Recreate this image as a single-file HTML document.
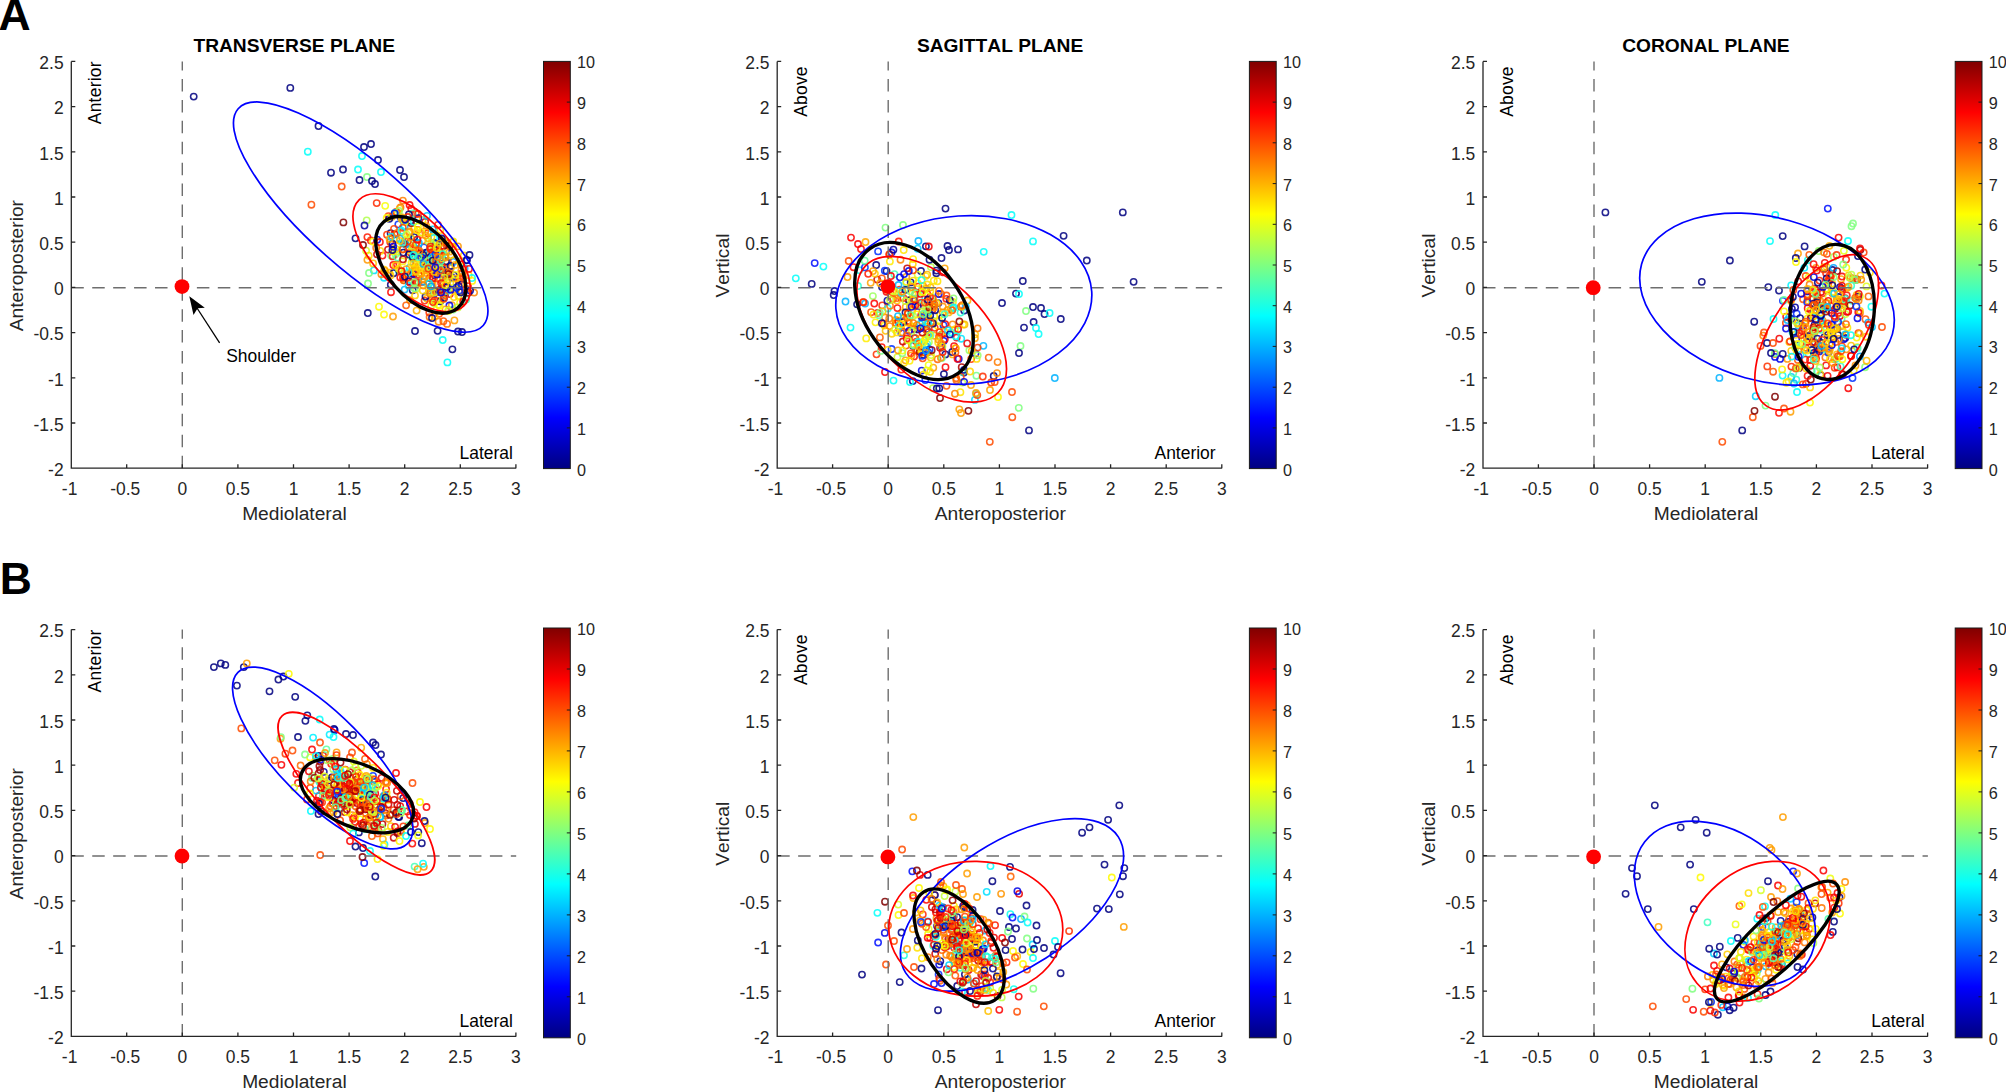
<!DOCTYPE html>
<html lang="en"><head><meta charset="utf-8"><title>Figure</title>
<style>
html,body{margin:0;padding:0;background:#fff}
svg{display:block}
text{font-family:"Liberation Sans",Arial,Helvetica,sans-serif;fill:#262626;font-kerning:none}
.t{font-size:17.45px}
.c{font-size:16.2px}
.l{font-size:19.2px}
.b{font-weight:bold;font-size:19.2px;fill:#000}
.k{fill:#000}
.P{font-weight:bold;font-size:44.5px;fill:#000}
.m circle{fill:none;stroke-width:1.55;stroke-opacity:.86}
.ax{fill:none;stroke:#262626;stroke-width:1.3}
.ds{fill:none;stroke:#6e6e6e;stroke-width:1.4;stroke-dasharray:12.5 8.43}
</style></head><body>

<svg width="2006" height="1092" viewBox="0 0 2006 1092">
<defs><linearGradient id="jet" x1="0" y1="1" x2="0" y2="0"><stop offset="0" stop-color="#000080"/><stop offset="0.125" stop-color="#0000ff"/><stop offset="0.375" stop-color="#00ffff"/><stop offset="0.625" stop-color="#ffff00"/><stop offset="0.875" stop-color="#ff0000"/><stop offset="1" stop-color="#800000"/></linearGradient></defs>
<rect width="2006" height="1092" fill="#fff"/>
<text class="P" x="-1.45" y="29.95">A</text>
<text class="P" x="-0.2" y="594.2">B</text>
<g transform="translate(0 0)">
<g class="m">
<circle cx="412.7" cy="290.3" r="3.15" stroke="#000080"/>
<circle cx="400.6" cy="217.3" r="3.15" stroke="#0000e6"/>
<circle cx="438.4" cy="304.7" r="3.15" stroke="#ffeb00"/>
<circle cx="431.8" cy="266.0" r="3.15" stroke="#ffa500"/>
<circle cx="440.3" cy="230.1" r="3.15" stroke="#ffd500"/>
<circle cx="430.5" cy="261.8" r="3.15" stroke="#00009e"/>
<circle cx="460.1" cy="302.7" r="3.15" stroke="#fbff04"/>
<circle cx="412.8" cy="273.4" r="3.15" stroke="#ffcd00"/>
<circle cx="440.1" cy="290.2" r="3.15" stroke="#daff25"/>
<circle cx="450.9" cy="268.0" r="3.15" stroke="#ffb000"/>
<circle cx="434.0" cy="267.6" r="3.15" stroke="#0ffff0"/>
<circle cx="439.1" cy="313.8" r="3.15" stroke="#ff3f00"/>
<circle cx="443.1" cy="239.5" r="3.15" stroke="#002eff"/>
<circle cx="439.4" cy="266.6" r="3.15" stroke="#f30000"/>
<circle cx="411.3" cy="209.0" r="3.15" stroke="#ff0c00"/>
<circle cx="403.8" cy="280.2" r="3.15" stroke="#bbff44"/>
<circle cx="413.2" cy="251.8" r="3.15" stroke="#ffdc00"/>
<circle cx="435.3" cy="255.7" r="3.15" stroke="#00fbff"/>
<circle cx="391.8" cy="216.7" r="3.15" stroke="#ffab00"/>
<circle cx="393.7" cy="250.2" r="3.15" stroke="#002eff"/>
<circle cx="410.3" cy="252.5" r="3.15" stroke="#f80000"/>
<circle cx="451.8" cy="305.1" r="3.15" stroke="#ffa700"/>
<circle cx="430.1" cy="253.7" r="3.15" stroke="#ff8c00"/>
<circle cx="426.7" cy="266.2" r="3.15" stroke="#ffec00"/>
<circle cx="419.6" cy="256.6" r="3.15" stroke="#e70000"/>
<circle cx="373.9" cy="270.4" r="3.15" stroke="#00e3ff"/>
<circle cx="436.8" cy="292.0" r="3.15" stroke="#ee0000"/>
<circle cx="409.7" cy="267.7" r="3.15" stroke="#00d5ff"/>
<circle cx="449.8" cy="294.1" r="3.15" stroke="#f40000"/>
<circle cx="440.2" cy="255.1" r="3.15" stroke="#ffe800"/>
<circle cx="425.3" cy="265.4" r="3.15" stroke="#ff2400"/>
<circle cx="412.6" cy="248.8" r="3.15" stroke="#ff9f00"/>
<circle cx="421.5" cy="254.7" r="3.15" stroke="#ed0000"/>
<circle cx="390.6" cy="233.1" r="3.15" stroke="#000080"/>
<circle cx="432.0" cy="299.1" r="3.15" stroke="#ff0200"/>
<circle cx="391.9" cy="243.7" r="3.15" stroke="#cdff32"/>
<circle cx="464.6" cy="268.4" r="3.15" stroke="#00b5ff"/>
<circle cx="430.2" cy="290.6" r="3.15" stroke="#ff4700"/>
<circle cx="418.7" cy="253.1" r="3.15" stroke="#ffdd00"/>
<circle cx="396.3" cy="239.5" r="3.15" stroke="#ff7000"/>
<circle cx="453.1" cy="283.6" r="3.15" stroke="#ff8500"/>
<circle cx="400.5" cy="207.3" r="3.15" stroke="#ff6100"/>
<circle cx="397.4" cy="212.9" r="3.15" stroke="#ffc000"/>
<circle cx="396.0" cy="212.0" r="3.15" stroke="#ff3b00"/>
<circle cx="415.9" cy="213.9" r="3.15" stroke="#ff4c00"/>
<circle cx="460.3" cy="291.6" r="3.15" stroke="#ff8500"/>
<circle cx="454.4" cy="320.4" r="3.15" stroke="#ff9f00"/>
<circle cx="468.7" cy="275.2" r="3.15" stroke="#ffd900"/>
<circle cx="443.0" cy="282.5" r="3.15" stroke="#002eff"/>
<circle cx="446.4" cy="272.7" r="3.15" stroke="#00009e"/>
<circle cx="416.3" cy="269.4" r="3.15" stroke="#ffe200"/>
<circle cx="399.7" cy="208.4" r="3.15" stroke="#ffaa00"/>
<circle cx="453.1" cy="309.5" r="3.15" stroke="#86ff79"/>
<circle cx="447.7" cy="288.3" r="3.15" stroke="#ff8500"/>
<circle cx="413.7" cy="258.5" r="3.15" stroke="#ff5f00"/>
<circle cx="415.8" cy="261.1" r="3.15" stroke="#ff3c00"/>
<circle cx="433.3" cy="250.7" r="3.15" stroke="#f90000"/>
<circle cx="426.9" cy="268.8" r="3.15" stroke="#ff6400"/>
<circle cx="447.1" cy="323.9" r="3.15" stroke="#ff7100"/>
<circle cx="423.4" cy="264.9" r="3.15" stroke="#ffcc00"/>
<circle cx="429.6" cy="317.1" r="3.15" stroke="#ff6f00"/>
<circle cx="431.2" cy="293.4" r="3.15" stroke="#0000e6"/>
<circle cx="382.5" cy="255.6" r="3.15" stroke="#ff0900"/>
<circle cx="394.8" cy="213.0" r="3.15" stroke="#02fffd"/>
<circle cx="419.5" cy="257.2" r="3.15" stroke="#ffd800"/>
<circle cx="412.5" cy="270.9" r="3.15" stroke="#ffbb00"/>
<circle cx="427.9" cy="233.2" r="3.15" stroke="#ff1a00"/>
<circle cx="403.6" cy="219.5" r="3.15" stroke="#ff4400"/>
<circle cx="442.0" cy="259.0" r="3.15" stroke="#fb0000"/>
<circle cx="398.3" cy="224.4" r="3.15" stroke="#002eff"/>
<circle cx="409.6" cy="255.5" r="3.15" stroke="#fff900"/>
<circle cx="453.3" cy="287.8" r="3.15" stroke="#d8ff27"/>
<circle cx="474.1" cy="292.6" r="3.15" stroke="#ff8300"/>
<circle cx="402.9" cy="200.6" r="3.15" stroke="#ff7f00"/>
<circle cx="441.8" cy="247.4" r="3.15" stroke="#83ff7c"/>
<circle cx="424.0" cy="247.3" r="3.15" stroke="#002eff"/>
<circle cx="412.9" cy="248.4" r="3.15" stroke="#ffb500"/>
<circle cx="419.0" cy="273.0" r="3.15" stroke="#d5ff2a"/>
<circle cx="432.9" cy="257.1" r="3.15" stroke="#000080"/>
<circle cx="445.8" cy="267.7" r="3.15" stroke="#ff7700"/>
<circle cx="411.0" cy="242.3" r="3.15" stroke="#ff7b00"/>
<circle cx="439.1" cy="251.8" r="3.15" stroke="#ffae00"/>
<circle cx="416.6" cy="282.3" r="3.15" stroke="#000080"/>
<circle cx="442.1" cy="252.8" r="3.15" stroke="#ffd600"/>
<circle cx="458.0" cy="246.3" r="3.15" stroke="#ff9700"/>
<circle cx="429.0" cy="259.4" r="3.15" stroke="#07fff8"/>
<circle cx="466.1" cy="299.4" r="3.15" stroke="#46ffb9"/>
<circle cx="403.7" cy="280.3" r="3.15" stroke="#ff4600"/>
<circle cx="426.9" cy="263.5" r="3.15" stroke="#ffa100"/>
<circle cx="399.1" cy="211.0" r="3.15" stroke="#9dff62"/>
<circle cx="424.5" cy="265.3" r="3.15" stroke="#ffdc00"/>
<circle cx="446.2" cy="251.2" r="3.15" stroke="#000080"/>
<circle cx="434.1" cy="242.7" r="3.15" stroke="#000080"/>
<circle cx="403.4" cy="278.6" r="3.15" stroke="#ff7500"/>
<circle cx="434.6" cy="316.3" r="3.15" stroke="#ffd200"/>
<circle cx="445.2" cy="294.3" r="3.15" stroke="#0000e6"/>
<circle cx="404.6" cy="289.6" r="3.15" stroke="#00b6ff"/>
<circle cx="434.9" cy="275.3" r="3.15" stroke="#000080"/>
<circle cx="431.8" cy="273.8" r="3.15" stroke="#eaff15"/>
<circle cx="441.9" cy="241.8" r="3.15" stroke="#ff9300"/>
<circle cx="440.3" cy="263.1" r="3.15" stroke="#91ff6e"/>
<circle cx="398.6" cy="270.6" r="3.15" stroke="#12ffed"/>
<circle cx="394.6" cy="213.4" r="3.15" stroke="#0000e6"/>
<circle cx="437.1" cy="284.7" r="3.15" stroke="#ff3a00"/>
<circle cx="445.9" cy="242.1" r="3.15" stroke="#ff2b00"/>
<circle cx="391.1" cy="255.4" r="3.15" stroke="#7bff84"/>
<circle cx="446.4" cy="262.4" r="3.15" stroke="#ff5e00"/>
<circle cx="409.6" cy="205.0" r="3.15" stroke="#fd0000"/>
<circle cx="433.5" cy="272.0" r="3.15" stroke="#ff7300"/>
<circle cx="412.8" cy="276.2" r="3.15" stroke="#ff8700"/>
<circle cx="366.7" cy="220.4" r="3.15" stroke="#b1ff4e"/>
<circle cx="453.9" cy="275.3" r="3.15" stroke="#000080"/>
<circle cx="419.9" cy="256.1" r="3.15" stroke="#ff0f00"/>
<circle cx="370.8" cy="240.4" r="3.15" stroke="#ff3200"/>
<circle cx="425.1" cy="231.4" r="3.15" stroke="#ff7900"/>
<circle cx="468.0" cy="286.1" r="3.15" stroke="#ff0700"/>
<circle cx="377.2" cy="239.7" r="3.15" stroke="#0000e6"/>
<circle cx="436.9" cy="300.7" r="3.15" stroke="#ff8b00"/>
<circle cx="413.0" cy="272.5" r="3.15" stroke="#ffca00"/>
<circle cx="433.9" cy="293.8" r="3.15" stroke="#0000e6"/>
<circle cx="423.4" cy="256.8" r="3.15" stroke="#ff8a00"/>
<circle cx="472.2" cy="280.9" r="3.15" stroke="#fff600"/>
<circle cx="385.2" cy="205.8" r="3.15" stroke="#f8ff07"/>
<circle cx="449.8" cy="265.9" r="3.15" stroke="#ffb800"/>
<circle cx="389.2" cy="272.7" r="3.15" stroke="#ff9200"/>
<circle cx="412.8" cy="213.4" r="3.15" stroke="#5cffa3"/>
<circle cx="424.9" cy="276.6" r="3.15" stroke="#ffec00"/>
<circle cx="453.0" cy="242.1" r="3.15" stroke="#f3ff0c"/>
<circle cx="448.6" cy="277.7" r="3.15" stroke="#ffe600"/>
<circle cx="434.7" cy="268.8" r="3.15" stroke="#ff3e00"/>
<circle cx="409.1" cy="232.5" r="3.15" stroke="#ff9600"/>
<circle cx="380.3" cy="250.9" r="3.15" stroke="#ffda00"/>
<circle cx="448.2" cy="280.1" r="3.15" stroke="#bcff43"/>
<circle cx="367.4" cy="237.1" r="3.15" stroke="#ff1a00"/>
<circle cx="410.9" cy="273.8" r="3.15" stroke="#ff0b00"/>
<circle cx="422.7" cy="219.9" r="3.15" stroke="#ffe500"/>
<circle cx="456.3" cy="282.3" r="3.15" stroke="#ffd300"/>
<circle cx="404.9" cy="240.8" r="3.15" stroke="#ff0200"/>
<circle cx="446.1" cy="261.3" r="3.15" stroke="#000080"/>
<circle cx="420.2" cy="259.5" r="3.15" stroke="#ffe600"/>
<circle cx="438.0" cy="273.3" r="3.15" stroke="#ff7800"/>
<circle cx="416.3" cy="243.7" r="3.15" stroke="#ff4a00"/>
<circle cx="426.9" cy="298.5" r="3.15" stroke="#ffc500"/>
<circle cx="422.7" cy="240.6" r="3.15" stroke="#ff6700"/>
<circle cx="432.1" cy="271.1" r="3.15" stroke="#e70000"/>
<circle cx="420.0" cy="265.9" r="3.15" stroke="#ffcc00"/>
<circle cx="435.3" cy="265.6" r="3.15" stroke="#ff4b00"/>
<circle cx="449.0" cy="245.8" r="3.15" stroke="#ff5a00"/>
<circle cx="459.1" cy="291.3" r="3.15" stroke="#a40000"/>
<circle cx="457.9" cy="307.4" r="3.15" stroke="#c5ff3a"/>
<circle cx="395.4" cy="254.3" r="3.15" stroke="#89ff76"/>
<circle cx="440.2" cy="301.3" r="3.15" stroke="#000080"/>
<circle cx="449.4" cy="305.5" r="3.15" stroke="#0000e6"/>
<circle cx="408.9" cy="214.4" r="3.15" stroke="#000080"/>
<circle cx="439.8" cy="254.4" r="3.15" stroke="#ff3d00"/>
<circle cx="394.0" cy="228.9" r="3.15" stroke="#ff4300"/>
<circle cx="417.7" cy="250.0" r="3.15" stroke="#ff7a00"/>
<circle cx="433.6" cy="247.0" r="3.15" stroke="#f6ff09"/>
<circle cx="434.5" cy="300.4" r="3.15" stroke="#ff2000"/>
<circle cx="416.6" cy="310.6" r="3.15" stroke="#ffaf00"/>
<circle cx="444.8" cy="256.3" r="3.15" stroke="#000080"/>
<circle cx="459.5" cy="278.2" r="3.15" stroke="#ff2a00"/>
<circle cx="431.5" cy="237.0" r="3.15" stroke="#ffe000"/>
<circle cx="410.6" cy="220.8" r="3.15" stroke="#000080"/>
<circle cx="416.1" cy="269.4" r="3.15" stroke="#ffe700"/>
<circle cx="441.9" cy="266.5" r="3.15" stroke="#ff1e00"/>
<circle cx="442.4" cy="269.8" r="3.15" stroke="#00009e"/>
<circle cx="400.1" cy="271.4" r="3.15" stroke="#ffe200"/>
<circle cx="393.3" cy="265.0" r="3.15" stroke="#ff0100"/>
<circle cx="447.7" cy="243.5" r="3.15" stroke="#ff3c00"/>
<circle cx="461.0" cy="264.5" r="3.15" stroke="#ff0700"/>
<circle cx="407.5" cy="278.3" r="3.15" stroke="#ffba00"/>
<circle cx="442.2" cy="287.5" r="3.15" stroke="#ff6a00"/>
<circle cx="449.8" cy="246.2" r="3.15" stroke="#ba0000"/>
<circle cx="429.2" cy="254.0" r="3.15" stroke="#00d5ff"/>
<circle cx="430.1" cy="257.6" r="3.15" stroke="#d80000"/>
<circle cx="443.1" cy="278.4" r="3.15" stroke="#ff9a00"/>
<circle cx="423.8" cy="260.8" r="3.15" stroke="#ff0400"/>
<circle cx="453.3" cy="261.9" r="3.15" stroke="#00aaff"/>
<circle cx="421.0" cy="253.5" r="3.15" stroke="#ff0d00"/>
<circle cx="459.1" cy="281.4" r="3.15" stroke="#ff2d00"/>
<circle cx="384.2" cy="269.6" r="3.15" stroke="#ffce00"/>
<circle cx="415.7" cy="249.3" r="3.15" stroke="#c40000"/>
<circle cx="411.7" cy="249.7" r="3.15" stroke="#ffcf00"/>
<circle cx="388.1" cy="275.3" r="3.15" stroke="#ff3200"/>
<circle cx="401.6" cy="219.1" r="3.15" stroke="#ffc500"/>
<circle cx="409.4" cy="248.6" r="3.15" stroke="#ff0100"/>
<circle cx="415.3" cy="263.1" r="3.15" stroke="#ffbb00"/>
<circle cx="392.7" cy="256.4" r="3.15" stroke="#ff1300"/>
<circle cx="424.6" cy="300.6" r="3.15" stroke="#ff2600"/>
<circle cx="388.4" cy="216.1" r="3.15" stroke="#ff3f00"/>
<circle cx="407.0" cy="239.0" r="3.15" stroke="#ffff00"/>
<circle cx="413.3" cy="239.3" r="3.15" stroke="#4dffb2"/>
<circle cx="442.7" cy="299.3" r="3.15" stroke="#faff05"/>
<circle cx="449.4" cy="272.4" r="3.15" stroke="#ff7900"/>
<circle cx="415.5" cy="282.6" r="3.15" stroke="#ff2b00"/>
<circle cx="436.4" cy="268.7" r="3.15" stroke="#ffe400"/>
<circle cx="432.4" cy="277.4" r="3.15" stroke="#ff3700"/>
<circle cx="437.1" cy="246.6" r="3.15" stroke="#fff600"/>
<circle cx="388.0" cy="249.6" r="3.15" stroke="#ce0000"/>
<circle cx="440.1" cy="258.3" r="3.15" stroke="#0000e6"/>
<circle cx="397.0" cy="264.4" r="3.15" stroke="#ff1100"/>
<circle cx="389.4" cy="272.9" r="3.15" stroke="#ffdc00"/>
<circle cx="453.7" cy="260.3" r="3.15" stroke="#ff5700"/>
<circle cx="443.3" cy="240.0" r="3.15" stroke="#ffd400"/>
<circle cx="428.5" cy="241.5" r="3.15" stroke="#c3ff3c"/>
<circle cx="442.0" cy="274.4" r="3.15" stroke="#002eff"/>
<circle cx="402.7" cy="261.4" r="3.15" stroke="#ffea00"/>
<circle cx="435.1" cy="256.1" r="3.15" stroke="#e8ff17"/>
<circle cx="409.9" cy="300.1" r="3.15" stroke="#ffb900"/>
<circle cx="393.6" cy="273.2" r="3.15" stroke="#000080"/>
<circle cx="426.2" cy="252.6" r="3.15" stroke="#000080"/>
<circle cx="428.4" cy="263.4" r="3.15" stroke="#c5ff3a"/>
<circle cx="366.1" cy="250.7" r="3.15" stroke="#d7ff28"/>
<circle cx="420.6" cy="270.2" r="3.15" stroke="#ffd500"/>
<circle cx="395.9" cy="248.9" r="3.15" stroke="#ffea00"/>
<circle cx="422.8" cy="281.9" r="3.15" stroke="#ff1800"/>
<circle cx="433.3" cy="268.7" r="3.15" stroke="#e5ff1a"/>
<circle cx="456.0" cy="289.9" r="3.15" stroke="#ffa900"/>
<circle cx="431.2" cy="305.7" r="3.15" stroke="#fffa00"/>
<circle cx="431.7" cy="266.5" r="3.15" stroke="#0000e6"/>
<circle cx="413.2" cy="273.8" r="3.15" stroke="#8f0000"/>
<circle cx="425.2" cy="221.8" r="3.15" stroke="#c40000"/>
<circle cx="413.5" cy="247.6" r="3.15" stroke="#ff9d00"/>
<circle cx="376.2" cy="247.7" r="3.15" stroke="#ff7100"/>
<circle cx="438.3" cy="290.4" r="3.15" stroke="#000080"/>
<circle cx="444.0" cy="291.5" r="3.15" stroke="#0cfff3"/>
<circle cx="387.0" cy="234.7" r="3.15" stroke="#ff3200"/>
<circle cx="426.4" cy="226.1" r="3.15" stroke="#ffaa00"/>
<circle cx="460.5" cy="283.3" r="3.15" stroke="#ffb700"/>
<circle cx="417.6" cy="282.9" r="3.15" stroke="#ff5500"/>
<circle cx="432.7" cy="284.8" r="3.15" stroke="#ffaf00"/>
<circle cx="389.3" cy="218.7" r="3.15" stroke="#000080"/>
<circle cx="448.7" cy="310.8" r="3.15" stroke="#eeff11"/>
<circle cx="373.0" cy="241.6" r="3.15" stroke="#fff800"/>
<circle cx="444.8" cy="256.2" r="3.15" stroke="#ffb200"/>
<circle cx="434.2" cy="303.2" r="3.15" stroke="#c4ff3b"/>
<circle cx="437.3" cy="251.1" r="3.15" stroke="#ff3100"/>
<circle cx="431.4" cy="286.6" r="3.15" stroke="#ff3100"/>
<circle cx="406.1" cy="305.3" r="3.15" stroke="#ff5800"/>
<circle cx="432.8" cy="229.3" r="3.15" stroke="#00ceff"/>
<circle cx="421.4" cy="273.5" r="3.15" stroke="#ff9100"/>
<circle cx="437.4" cy="249.5" r="3.15" stroke="#810000"/>
<circle cx="430.4" cy="268.8" r="3.15" stroke="#ffeb00"/>
<circle cx="414.2" cy="237.2" r="3.15" stroke="#000080"/>
<circle cx="420.8" cy="232.8" r="3.15" stroke="#ffa700"/>
<circle cx="402.2" cy="249.4" r="3.15" stroke="#ff9100"/>
<circle cx="436.5" cy="259.9" r="3.15" stroke="#ff1700"/>
<circle cx="432.1" cy="257.4" r="3.15" stroke="#00d3ff"/>
<circle cx="434.4" cy="249.4" r="3.15" stroke="#ff1b00"/>
<circle cx="441.8" cy="238.5" r="3.15" stroke="#00009e"/>
<circle cx="426.9" cy="263.3" r="3.15" stroke="#c90000"/>
<circle cx="461.8" cy="284.4" r="3.15" stroke="#00009e"/>
<circle cx="427.4" cy="284.0" r="3.15" stroke="#8cff73"/>
<circle cx="401.5" cy="232.3" r="3.15" stroke="#ffb900"/>
<circle cx="430.2" cy="264.1" r="3.15" stroke="#20ffdf"/>
<circle cx="418.9" cy="243.0" r="3.15" stroke="#00c2ff"/>
<circle cx="416.1" cy="288.9" r="3.15" stroke="#c0ff3f"/>
<circle cx="427.0" cy="215.8" r="3.15" stroke="#00c6ff"/>
<circle cx="397.5" cy="257.6" r="3.15" stroke="#4fffb0"/>
<circle cx="438.6" cy="321.7" r="3.15" stroke="#ff8600"/>
<circle cx="430.2" cy="248.6" r="3.15" stroke="#ffb200"/>
<circle cx="408.9" cy="281.4" r="3.15" stroke="#00009e"/>
<circle cx="434.1" cy="237.9" r="3.15" stroke="#03fffc"/>
<circle cx="413.6" cy="274.1" r="3.15" stroke="#0000e6"/>
<circle cx="461.9" cy="273.5" r="3.15" stroke="#ff0900"/>
<circle cx="386.7" cy="218.0" r="3.15" stroke="#fffb00"/>
<circle cx="443.6" cy="246.1" r="3.15" stroke="#a50000"/>
<circle cx="434.3" cy="259.9" r="3.15" stroke="#ff6000"/>
<circle cx="463.8" cy="255.4" r="3.15" stroke="#ffd000"/>
<circle cx="452.1" cy="277.3" r="3.15" stroke="#0000e6"/>
<circle cx="425.5" cy="296.5" r="3.15" stroke="#000080"/>
<circle cx="428.9" cy="292.0" r="3.15" stroke="#ffe200"/>
<circle cx="415.3" cy="271.2" r="3.15" stroke="#f20000"/>
<circle cx="409.1" cy="254.4" r="3.15" stroke="#000080"/>
<circle cx="458.3" cy="295.8" r="3.15" stroke="#ffe300"/>
<circle cx="392.9" cy="251.3" r="3.15" stroke="#ffed00"/>
<circle cx="400.3" cy="277.4" r="3.15" stroke="#fe0000"/>
<circle cx="451.0" cy="255.1" r="3.15" stroke="#ffe500"/>
<circle cx="444.0" cy="298.1" r="3.15" stroke="#000080"/>
<circle cx="384.0" cy="277.7" r="3.15" stroke="#00e1ff"/>
<circle cx="447.2" cy="280.1" r="3.15" stroke="#ffb600"/>
<circle cx="421.0" cy="260.7" r="3.15" stroke="#d9ff26"/>
<circle cx="368.7" cy="255.7" r="3.15" stroke="#ffdf00"/>
<circle cx="460.0" cy="261.6" r="3.15" stroke="#ffef00"/>
<circle cx="428.9" cy="260.8" r="3.15" stroke="#8aff75"/>
<circle cx="433.2" cy="278.3" r="3.15" stroke="#ed0000"/>
<circle cx="436.1" cy="267.4" r="3.15" stroke="#ffb600"/>
<circle cx="429.3" cy="312.4" r="3.15" stroke="#ff3200"/>
<circle cx="414.0" cy="229.2" r="3.15" stroke="#ffb700"/>
<circle cx="390.2" cy="242.0" r="3.15" stroke="#ff2d00"/>
<circle cx="437.2" cy="246.7" r="3.15" stroke="#f4ff0b"/>
<circle cx="404.6" cy="226.4" r="3.15" stroke="#00b0ff"/>
<circle cx="447.0" cy="291.1" r="3.15" stroke="#4fffb0"/>
<circle cx="411.0" cy="223.1" r="3.15" stroke="#8f0000"/>
<circle cx="447.5" cy="276.0" r="3.15" stroke="#ffaa00"/>
<circle cx="450.6" cy="265.9" r="3.15" stroke="#00009e"/>
<circle cx="397.8" cy="251.3" r="3.15" stroke="#f0ff0f"/>
<circle cx="411.9" cy="245.8" r="3.15" stroke="#c4ff3b"/>
<circle cx="403.3" cy="252.6" r="3.15" stroke="#000080"/>
<circle cx="449.7" cy="251.6" r="3.15" stroke="#ffa000"/>
<circle cx="405.6" cy="244.4" r="3.15" stroke="#00a8ff"/>
<circle cx="408.6" cy="285.7" r="3.15" stroke="#00e1ff"/>
<circle cx="444.6" cy="295.7" r="3.15" stroke="#ff5400"/>
<circle cx="429.4" cy="278.1" r="3.15" stroke="#ff0500"/>
<circle cx="394.6" cy="234.2" r="3.15" stroke="#e70000"/>
<circle cx="440.9" cy="247.3" r="3.15" stroke="#ff2a00"/>
<circle cx="436.1" cy="243.7" r="3.15" stroke="#00009e"/>
<circle cx="446.9" cy="271.6" r="3.15" stroke="#ff7500"/>
<circle cx="398.8" cy="268.7" r="3.15" stroke="#ffec00"/>
<circle cx="418.4" cy="282.5" r="3.15" stroke="#ff3c00"/>
<circle cx="453.2" cy="241.4" r="3.15" stroke="#ffdf00"/>
<circle cx="392.5" cy="243.7" r="3.15" stroke="#00009e"/>
<circle cx="403.0" cy="277.4" r="3.15" stroke="#ff0d00"/>
<circle cx="441.3" cy="258.4" r="3.15" stroke="#ffe900"/>
<circle cx="402.9" cy="249.3" r="3.15" stroke="#ff4d00"/>
<circle cx="414.5" cy="257.7" r="3.15" stroke="#75ff8a"/>
<circle cx="412.5" cy="258.4" r="3.15" stroke="#03fffc"/>
<circle cx="407.9" cy="217.0" r="3.15" stroke="#ff1e00"/>
<circle cx="364.5" cy="225.5" r="3.15" stroke="#00009e"/>
<circle cx="453.0" cy="246.6" r="3.15" stroke="#ffad00"/>
<circle cx="460.6" cy="292.4" r="3.15" stroke="#000080"/>
<circle cx="448.6" cy="274.1" r="3.15" stroke="#9d0000"/>
<circle cx="415.0" cy="295.4" r="3.15" stroke="#ffcb00"/>
<circle cx="421.6" cy="232.3" r="3.15" stroke="#ecff13"/>
<circle cx="410.2" cy="282.8" r="3.15" stroke="#ff1000"/>
<circle cx="430.1" cy="293.7" r="3.15" stroke="#ff7700"/>
<circle cx="453.9" cy="297.1" r="3.15" stroke="#ffda00"/>
<circle cx="418.6" cy="274.7" r="3.15" stroke="#ff2c00"/>
<circle cx="431.3" cy="242.8" r="3.15" stroke="#d6ff29"/>
<circle cx="403.7" cy="243.3" r="3.15" stroke="#a30000"/>
<circle cx="443.4" cy="321.2" r="3.15" stroke="#ff5700"/>
<circle cx="432.2" cy="244.8" r="3.15" stroke="#ccff33"/>
<circle cx="417.8" cy="229.9" r="3.15" stroke="#ff4b00"/>
<circle cx="443.7" cy="298.8" r="3.15" stroke="#ff4100"/>
<circle cx="414.8" cy="267.5" r="3.15" stroke="#ffa800"/>
<circle cx="399.8" cy="238.7" r="3.15" stroke="#00c4ff"/>
<circle cx="419.8" cy="268.6" r="3.15" stroke="#ffd900"/>
<circle cx="418.7" cy="255.5" r="3.15" stroke="#ffe100"/>
<circle cx="404.9" cy="222.1" r="3.15" stroke="#eeff11"/>
<circle cx="436.5" cy="273.1" r="3.15" stroke="#ff8000"/>
<circle cx="423.5" cy="263.9" r="3.15" stroke="#00acff"/>
<circle cx="423.3" cy="256.8" r="3.15" stroke="#86ff79"/>
<circle cx="391.0" cy="292.2" r="3.15" stroke="#ff0500"/>
<circle cx="430.6" cy="249.0" r="3.15" stroke="#ff0b00"/>
<circle cx="402.8" cy="227.7" r="3.15" stroke="#ff3c00"/>
<circle cx="427.3" cy="267.7" r="3.15" stroke="#afff50"/>
<circle cx="423.1" cy="254.7" r="3.15" stroke="#000080"/>
<circle cx="441.3" cy="292.3" r="3.15" stroke="#ff3e00"/>
<circle cx="402.3" cy="217.4" r="3.15" stroke="#ffbd00"/>
<circle cx="408.6" cy="272.5" r="3.15" stroke="#2bffd4"/>
<circle cx="418.4" cy="218.2" r="3.15" stroke="#00009e"/>
<circle cx="437.6" cy="292.0" r="3.15" stroke="#ff6000"/>
<circle cx="440.1" cy="254.9" r="3.15" stroke="#ff5c00"/>
<circle cx="445.5" cy="309.3" r="3.15" stroke="#ff9500"/>
<circle cx="434.2" cy="292.5" r="3.15" stroke="#b0ff4f"/>
<circle cx="431.5" cy="292.9" r="3.15" stroke="#ffc500"/>
<circle cx="442.8" cy="253.2" r="3.15" stroke="#dcff23"/>
<circle cx="407.8" cy="241.4" r="3.15" stroke="#ff3100"/>
<circle cx="406.4" cy="269.2" r="3.15" stroke="#ff9f00"/>
<circle cx="373.1" cy="263.4" r="3.15" stroke="#ffc200"/>
<circle cx="468.4" cy="292.7" r="3.15" stroke="#8f0000"/>
<circle cx="440.2" cy="289.8" r="3.15" stroke="#c50000"/>
<circle cx="416.4" cy="271.7" r="3.15" stroke="#ffdc00"/>
<circle cx="376.7" cy="203.1" r="3.15" stroke="#ff2a00"/>
<circle cx="391.4" cy="236.7" r="3.15" stroke="#00faff"/>
<circle cx="466.2" cy="288.9" r="3.15" stroke="#ff4800"/>
<circle cx="428.0" cy="238.2" r="3.15" stroke="#ffba00"/>
<circle cx="415.7" cy="244.8" r="3.15" stroke="#ff4a00"/>
<circle cx="392.4" cy="250.1" r="3.15" stroke="#000080"/>
<circle cx="402.4" cy="242.7" r="3.15" stroke="#30ffcf"/>
<circle cx="446.8" cy="287.1" r="3.15" stroke="#000080"/>
<circle cx="436.0" cy="261.5" r="3.15" stroke="#ff5300"/>
<circle cx="462.6" cy="272.9" r="3.15" stroke="#ff6200"/>
<circle cx="444.3" cy="277.7" r="3.15" stroke="#d2ff2d"/>
<circle cx="463.2" cy="277.9" r="3.15" stroke="#ff4d00"/>
<circle cx="437.4" cy="245.9" r="3.15" stroke="#d4ff2b"/>
<circle cx="423.1" cy="281.5" r="3.15" stroke="#00aaff"/>
<circle cx="439.9" cy="268.6" r="3.15" stroke="#95ff6a"/>
<circle cx="437.9" cy="224.9" r="3.15" stroke="#ff1b00"/>
<circle cx="466.3" cy="260.3" r="3.15" stroke="#002eff"/>
<circle cx="433.0" cy="302.1" r="3.15" stroke="#ff2600"/>
<circle cx="422.8" cy="290.6" r="3.15" stroke="#ffd900"/>
<circle cx="411.5" cy="263.0" r="3.15" stroke="#ffef00"/>
<circle cx="435.6" cy="254.5" r="3.15" stroke="#002eff"/>
<circle cx="421.1" cy="256.9" r="3.15" stroke="#002eff"/>
<circle cx="439.4" cy="251.0" r="3.15" stroke="#ff1000"/>
<circle cx="377.0" cy="254.3" r="3.15" stroke="#cc0000"/>
<circle cx="390.5" cy="275.5" r="3.15" stroke="#ffcb00"/>
<circle cx="414.4" cy="288.3" r="3.15" stroke="#7bff84"/>
<circle cx="470.1" cy="290.6" r="3.15" stroke="#00009e"/>
<circle cx="455.2" cy="278.5" r="3.15" stroke="#ffc500"/>
<circle cx="456.4" cy="287.6" r="3.15" stroke="#002eff"/>
<circle cx="463.2" cy="301.5" r="3.15" stroke="#f20000"/>
<circle cx="389.6" cy="238.9" r="3.15" stroke="#ffac00"/>
<circle cx="429.2" cy="283.5" r="3.15" stroke="#00f2ff"/>
<circle cx="418.0" cy="213.9" r="3.15" stroke="#ff2700"/>
<circle cx="397.3" cy="232.9" r="3.15" stroke="#ff7900"/>
<circle cx="439.9" cy="279.1" r="3.15" stroke="#ff7100"/>
<circle cx="430.9" cy="286.3" r="3.15" stroke="#00a8ff"/>
<circle cx="461.3" cy="270.9" r="3.15" stroke="#ff9300"/>
<circle cx="423.3" cy="278.5" r="3.15" stroke="#ffa500"/>
<circle cx="405.1" cy="219.6" r="3.15" stroke="#00009e"/>
<circle cx="410.5" cy="237.6" r="3.15" stroke="#ffa800"/>
<circle cx="401.6" cy="230.7" r="3.15" stroke="#01fffe"/>
<circle cx="440.8" cy="261.1" r="3.15" stroke="#3cffc3"/>
<circle cx="417.3" cy="230.3" r="3.15" stroke="#fff200"/>
<circle cx="415.6" cy="270.8" r="3.15" stroke="#ffc500"/>
<circle cx="385.0" cy="270.8" r="3.15" stroke="#ff9e00"/>
<circle cx="441.1" cy="283.1" r="3.15" stroke="#ff0e00"/>
<circle cx="412.8" cy="257.2" r="3.15" stroke="#000080"/>
<circle cx="439.6" cy="305.8" r="3.15" stroke="#fff900"/>
<circle cx="432.7" cy="260.6" r="3.15" stroke="#000080"/>
<circle cx="395.5" cy="265.3" r="3.15" stroke="#ffc900"/>
<circle cx="455.4" cy="274.9" r="3.15" stroke="#f2ff0d"/>
<circle cx="450.7" cy="289.7" r="3.15" stroke="#0000e6"/>
<circle cx="419.5" cy="251.1" r="3.15" stroke="#ff7b00"/>
<circle cx="442.7" cy="254.1" r="3.15" stroke="#28ffd7"/>
<circle cx="469.0" cy="268.9" r="3.15" stroke="#ff0700"/>
<circle cx="423.3" cy="285.5" r="3.15" stroke="#ff7f00"/>
<circle cx="418.3" cy="257.1" r="3.15" stroke="#53ffac"/>
<circle cx="436.9" cy="274.4" r="3.15" stroke="#0000e6"/>
<circle cx="404.9" cy="276.6" r="3.15" stroke="#000080"/>
<circle cx="434.4" cy="271.9" r="3.15" stroke="#ffc400"/>
<circle cx="417.4" cy="239.7" r="3.15" stroke="#ff0700"/>
<circle cx="430.4" cy="246.7" r="3.15" stroke="#ff2000"/>
<circle cx="409.7" cy="231.4" r="3.15" stroke="#ff9900"/>
<circle cx="445.6" cy="257.5" r="3.15" stroke="#ff9900"/>
<circle cx="440.1" cy="270.6" r="3.15" stroke="#ff6d00"/>
<circle cx="455.2" cy="264.9" r="3.15" stroke="#ffbb00"/>
<circle cx="413.9" cy="221.8" r="3.15" stroke="#14ffeb"/>
<circle cx="381.4" cy="274.2" r="3.15" stroke="#ff8700"/>
<circle cx="458.5" cy="285.8" r="3.15" stroke="#00009e"/>
<circle cx="437.8" cy="257.0" r="3.15" stroke="#ff8e00"/>
<circle cx="441.0" cy="292.4" r="3.15" stroke="#0000e6"/>
<circle cx="414.3" cy="282.4" r="3.15" stroke="#89ff76"/>
<circle cx="399.7" cy="240.8" r="3.15" stroke="#ffc700"/>
<circle cx="401.6" cy="271.1" r="3.15" stroke="#e50000"/>
<circle cx="390.8" cy="284.7" r="3.15" stroke="#000080"/>
<circle cx="413.5" cy="255.0" r="3.15" stroke="#0afff5"/>
<circle cx="406.7" cy="234.5" r="3.15" stroke="#ccff33"/>
<circle cx="393.2" cy="246.7" r="3.15" stroke="#0000e6"/>
<circle cx="367.4" cy="259.8" r="3.15" stroke="#ff9800"/>
<circle cx="445.3" cy="285.0" r="3.15" stroke="#ffde00"/>
<circle cx="425.4" cy="276.0" r="3.15" stroke="#ffaa00"/>
<circle cx="403.0" cy="259.3" r="3.15" stroke="#c00000"/>
<circle cx="428.3" cy="268.5" r="3.15" stroke="#ff3100"/>
<circle cx="418.0" cy="226.5" r="3.15" stroke="#fcff03"/>
<circle cx="413.4" cy="263.5" r="3.15" stroke="#ffcd00"/>
<circle cx="425.7" cy="235.3" r="3.15" stroke="#ffa600"/>
<circle cx="435.3" cy="267.5" r="3.15" stroke="#0000e6"/>
<circle cx="379.9" cy="242.0" r="3.15" stroke="#ff0b00"/>
<circle cx="459.5" cy="290.5" r="3.15" stroke="#002eff"/>
<circle cx="436.7" cy="248.2" r="3.15" stroke="#ffde00"/>
<circle cx="439.7" cy="243.7" r="3.15" stroke="#ffac00"/>
<circle cx="448.1" cy="310.7" r="3.15" stroke="#e3ff1c"/>
<circle cx="193.7" cy="96.6" r="3.15" stroke="#000080"/>
<circle cx="290.3" cy="87.9" r="3.15" stroke="#000080"/>
<circle cx="318.5" cy="126.0" r="3.15" stroke="#000080"/>
<circle cx="307.8" cy="151.7" r="3.15" stroke="#05fffa"/>
<circle cx="331.0" cy="172.7" r="3.15" stroke="#000080"/>
<circle cx="343.0" cy="169.5" r="3.15" stroke="#000080"/>
<circle cx="364.0" cy="147.0" r="3.15" stroke="#000080"/>
<circle cx="371.0" cy="144.0" r="3.15" stroke="#000080"/>
<circle cx="362.0" cy="156.0" r="3.15" stroke="#05fffa"/>
<circle cx="378.0" cy="160.0" r="3.15" stroke="#000080"/>
<circle cx="381.0" cy="172.0" r="3.15" stroke="#05fffa"/>
<circle cx="358.0" cy="169.5" r="3.15" stroke="#05fffa"/>
<circle cx="359.5" cy="180.0" r="3.15" stroke="#000080"/>
<circle cx="367.0" cy="177.0" r="3.15" stroke="#80ff80"/>
<circle cx="372.0" cy="181.0" r="3.15" stroke="#000080"/>
<circle cx="375.0" cy="184.0" r="3.15" stroke="#000080"/>
<circle cx="311.4" cy="204.7" r="3.15" stroke="#ff4c00"/>
<circle cx="341.7" cy="186.5" r="3.15" stroke="#ff4c00"/>
<circle cx="343.4" cy="222.4" r="3.15" stroke="#800000"/>
<circle cx="355.5" cy="238.3" r="3.15" stroke="#000080"/>
<circle cx="363.0" cy="245.0" r="3.15" stroke="#800000"/>
<circle cx="400.0" cy="170.0" r="3.15" stroke="#000080"/>
<circle cx="404.0" cy="177.0" r="3.15" stroke="#000080"/>
<circle cx="367.8" cy="313.0" r="3.15" stroke="#000080"/>
<circle cx="379.0" cy="306.7" r="3.15" stroke="#fffa00"/>
<circle cx="384.0" cy="314.5" r="3.15" stroke="#fffa00"/>
<circle cx="393.0" cy="316.5" r="3.15" stroke="#ff9e00"/>
<circle cx="437.6" cy="330.8" r="3.15" stroke="#000080"/>
<circle cx="442.7" cy="340.0" r="3.15" stroke="#05fffa"/>
<circle cx="452.4" cy="349.3" r="3.15" stroke="#000080"/>
<circle cx="447.4" cy="362.4" r="3.15" stroke="#05fffa"/>
<circle cx="458.0" cy="331.5" r="3.15" stroke="#000080"/>
<circle cx="462.0" cy="332.0" r="3.15" stroke="#000080"/>
<circle cx="469.5" cy="255.0" r="3.15" stroke="#000080"/>
<circle cx="467.0" cy="260.0" r="3.15" stroke="#000080"/>
<circle cx="368.0" cy="283.5" r="3.15" stroke="#80ff80"/>
<circle cx="369.0" cy="273.0" r="3.15" stroke="#80ff80"/>
<circle cx="472.0" cy="278.0" r="3.15" stroke="#05fffa"/>
<circle cx="415.0" cy="331.0" r="3.15" stroke="#000080"/>
<circle cx="432.0" cy="318.0" r="3.15" stroke="#000080"/>
</g>
<path class="ds" d="M71.3 287.8H516.2"/>
<path class="ds" d="M182.3 468.2V61.4"/>
<ellipse cx="360.7" cy="217.1" rx="163.6" ry="51.8" transform="rotate(-138.5 360.7 217.1)" fill="none" stroke="#0000ff" stroke-width="1.7"/>
<ellipse cx="411.6" cy="252.7" rx="74.5" ry="36.5" transform="rotate(45.2 411.6 252.7)" fill="none" stroke="#ff0000" stroke-width="1.7"/>
<ellipse cx="420.8" cy="264.9" rx="56.8" ry="33.5" transform="rotate(49.1 420.8 264.9)" fill="none" stroke="#000" stroke-width="3.35"/>
<circle cx="182.0" cy="286.6" r="7.4" fill="#ff0000"/>
<path class="ax" d="M71.3 61.4V468.2H516.2M126.7 468.2v-4M182.3 468.2v-4M237.9 468.2v-4M293.5 468.2v-4M349.1 468.2v-4M404.7 468.2v-4M460.3 468.2v-4M515.9 468.2v-4M71.3 423.0h4M71.3 377.8h4M71.3 332.6h4M71.3 287.4h4M71.3 242.2h4M71.3 197.0h4M71.3 151.8h4M71.3 106.6h4M71.3 61.4h4"/>
<g class="t" text-anchor="middle">
<text x="69.6" y="494.6">-1</text>
<text x="125.2" y="494.6">-0.5</text>
<text x="182.3" y="494.6">0</text>
<text x="237.9" y="494.6">0.5</text>
<text x="293.5" y="494.6">1</text>
<text x="349.1" y="494.6">1.5</text>
<text x="404.7" y="494.6">2</text>
<text x="460.3" y="494.6">2.5</text>
<text x="515.9" y="494.6">3</text>
</g><g class="t" text-anchor="end">
<text x="63.6" y="476.0">-2</text>
<text x="63.6" y="430.8">-1.5</text>
<text x="63.6" y="385.6">-1</text>
<text x="63.6" y="340.4">-0.5</text>
<text x="63.6" y="295.2">0</text>
<text x="63.6" y="250.0">0.5</text>
<text x="63.6" y="204.8">1</text>
<text x="63.6" y="159.6">1.5</text>
<text x="63.6" y="114.4">2</text>
<text x="63.6" y="69.2">2.5</text>
</g>
<text class="l" text-anchor="middle" x="294.4" y="520">Mediolateral</text>
<text class="l" text-anchor="middle" transform="translate(23.4 265.6) rotate(-90)">Anteroposterior</text>
<text class="t k" letter-spacing=".24" text-anchor="end" transform="translate(100.8 61.2) rotate(-90)">Anterior</text>
<text class="t k" text-anchor="end" x="512.9" y="458.7">Lateral</text>
<text class="b" text-anchor="middle" x="294.2" y="51.8">TRANSVERSE PLANE</text>
<path d="M219.6 342.9L197 308" fill="none" stroke="#000" stroke-width="1.3"/>
<path d="M189.3 296.2L204.8 307.7L197.6 308.3L193.5 314.9Z" fill="#000"/>
<text class="t k" x="226.2" y="361.9">Shoulder</text>
<rect x="543.5" y="61.4" width="26.8" height="407.2" fill="url(#jet)" stroke="#1a1a1a" stroke-width="1"/>
<g class="c">
<text x="577" y="475.5">0</text>
<text x="577" y="434.8">1</text>
<text x="577" y="394.1">2</text>
<text x="577" y="353.3">3</text>
<text x="577" y="312.6">4</text>
<text x="577" y="271.9">5</text>
<text x="577" y="231.2">6</text>
<text x="577" y="190.5">7</text>
<text x="577" y="149.7">8</text>
<text x="577" y="109.0">9</text>
<text x="577" y="68.3">10</text>
</g>
<path d="M570.3 427.9h-3.5M570.3 387.2h-3.5M570.3 346.4h-3.5M570.3 305.7h-3.5M570.3 265.0h-3.5M570.3 224.3h-3.5M570.3 183.6h-3.5M570.3 142.8h-3.5M570.3 102.1h-3.5" stroke="#1a1a1a" stroke-width="1" fill="none"/>
</g>
<g transform="translate(705.9 0)">
<g class="m">
<circle cx="258.3" cy="310.6" r="3.15" stroke="#000080"/>
<circle cx="240.4" cy="298.8" r="3.15" stroke="#ff0f00"/>
<circle cx="160.3" cy="338.4" r="3.15" stroke="#ffee00"/>
<circle cx="263.5" cy="350.2" r="3.15" stroke="#98ff67"/>
<circle cx="177.6" cy="323.7" r="3.15" stroke="#ff1300"/>
<circle cx="200.1" cy="345.6" r="3.15" stroke="#ff4e00"/>
<circle cx="191.5" cy="357.2" r="3.15" stroke="#cfff30"/>
<circle cx="179.1" cy="317.5" r="3.15" stroke="#ff7500"/>
<circle cx="208.4" cy="329.0" r="3.15" stroke="#b10000"/>
<circle cx="170.6" cy="354.3" r="3.15" stroke="#ff3300"/>
<circle cx="240.6" cy="385.8" r="3.15" stroke="#ff5100"/>
<circle cx="252.2" cy="330.9" r="3.15" stroke="#2dffd2"/>
<circle cx="217.9" cy="354.8" r="3.15" stroke="#000080"/>
<circle cx="222.2" cy="352.1" r="3.15" stroke="#002eff"/>
<circle cx="231.7" cy="359.2" r="3.15" stroke="#ff6300"/>
<circle cx="207.2" cy="259.1" r="3.15" stroke="#ffea00"/>
<circle cx="203.6" cy="300.2" r="3.15" stroke="#ffc200"/>
<circle cx="230.4" cy="273.2" r="3.15" stroke="#000080"/>
<circle cx="261.6" cy="300.5" r="3.15" stroke="#ffb000"/>
<circle cx="215.8" cy="370.6" r="3.15" stroke="#0000e6"/>
<circle cx="239.5" cy="354.4" r="3.15" stroke="#000080"/>
<circle cx="190.3" cy="323.2" r="3.15" stroke="#ff2f00"/>
<circle cx="220.2" cy="337.0" r="3.15" stroke="#ffc700"/>
<circle cx="228.8" cy="327.8" r="3.15" stroke="#ff2600"/>
<circle cx="236.0" cy="346.7" r="3.15" stroke="#000080"/>
<circle cx="254.5" cy="392.2" r="3.15" stroke="#ffe200"/>
<circle cx="219.9" cy="276.1" r="3.15" stroke="#ffef00"/>
<circle cx="249.0" cy="393.7" r="3.15" stroke="#ff8100"/>
<circle cx="227.1" cy="388.2" r="3.15" stroke="#b9ff46"/>
<circle cx="223.4" cy="335.3" r="3.15" stroke="#ff0c00"/>
<circle cx="191.3" cy="298.0" r="3.15" stroke="#ff6700"/>
<circle cx="200.9" cy="326.7" r="3.15" stroke="#ff3d00"/>
<circle cx="246.7" cy="324.4" r="3.15" stroke="#ff8400"/>
<circle cx="176.3" cy="305.4" r="3.15" stroke="#ff2900"/>
<circle cx="165.2" cy="312.2" r="3.15" stroke="#ff5100"/>
<circle cx="206.9" cy="298.7" r="3.15" stroke="#80ff7f"/>
<circle cx="244.7" cy="301.7" r="3.15" stroke="#ff8000"/>
<circle cx="188.5" cy="274.2" r="3.15" stroke="#48ffb7"/>
<circle cx="216.7" cy="291.5" r="3.15" stroke="#ff8c00"/>
<circle cx="228.2" cy="304.6" r="3.15" stroke="#ffbf00"/>
<circle cx="232.1" cy="326.1" r="3.15" stroke="#fff400"/>
<circle cx="237.6" cy="325.2" r="3.15" stroke="#002eff"/>
<circle cx="159.2" cy="303.5" r="3.15" stroke="#00b0ff"/>
<circle cx="182.1" cy="287.7" r="3.15" stroke="#6cff93"/>
<circle cx="198.2" cy="320.6" r="3.15" stroke="#ff7e00"/>
<circle cx="220.0" cy="246.3" r="3.15" stroke="#000080"/>
<circle cx="180.6" cy="271.1" r="3.15" stroke="#000080"/>
<circle cx="258.0" cy="372.5" r="3.15" stroke="#000080"/>
<circle cx="227.6" cy="320.9" r="3.15" stroke="#7dff82"/>
<circle cx="256.1" cy="371.9" r="3.15" stroke="#3fffc0"/>
<circle cx="193.0" cy="328.8" r="3.15" stroke="#ff3900"/>
<circle cx="181.1" cy="289.7" r="3.15" stroke="#fff900"/>
<circle cx="212.0" cy="329.4" r="3.15" stroke="#000080"/>
<circle cx="222.3" cy="318.1" r="3.15" stroke="#ff1000"/>
<circle cx="223.0" cy="342.1" r="3.15" stroke="#b2ff4d"/>
<circle cx="215.2" cy="315.5" r="3.15" stroke="#fe0000"/>
<circle cx="208.7" cy="326.9" r="3.15" stroke="#ffe300"/>
<circle cx="227.4" cy="367.7" r="3.15" stroke="#ffa000"/>
<circle cx="185.7" cy="349.0" r="3.15" stroke="#002eff"/>
<circle cx="207.7" cy="304.6" r="3.15" stroke="#ff7600"/>
<circle cx="224.9" cy="357.5" r="3.15" stroke="#ffbc00"/>
<circle cx="200.4" cy="283.0" r="3.15" stroke="#11ffee"/>
<circle cx="153.3" cy="270.2" r="3.15" stroke="#17ffe8"/>
<circle cx="221.1" cy="320.7" r="3.15" stroke="#c6ff39"/>
<circle cx="202.7" cy="321.9" r="3.15" stroke="#ffb200"/>
<circle cx="222.6" cy="332.0" r="3.15" stroke="#fa0000"/>
<circle cx="199.9" cy="326.9" r="3.15" stroke="#ff0d00"/>
<circle cx="202.2" cy="313.5" r="3.15" stroke="#ff8a00"/>
<circle cx="217.4" cy="374.7" r="3.15" stroke="#ffd100"/>
<circle cx="212.4" cy="343.4" r="3.15" stroke="#ff6400"/>
<circle cx="174.9" cy="350.9" r="3.15" stroke="#7aff85"/>
<circle cx="241.7" cy="310.0" r="3.15" stroke="#ffab00"/>
<circle cx="257.2" cy="324.5" r="3.15" stroke="#ffef00"/>
<circle cx="255.8" cy="367.2" r="3.15" stroke="#af0000"/>
<circle cx="221.4" cy="344.1" r="3.15" stroke="#3effc1"/>
<circle cx="141.6" cy="277.0" r="3.15" stroke="#ff9700"/>
<circle cx="185.7" cy="252.5" r="3.15" stroke="#0000e6"/>
<circle cx="238.8" cy="268.3" r="3.15" stroke="#ffa300"/>
<circle cx="239.6" cy="367.2" r="3.15" stroke="#fb0000"/>
<circle cx="206.9" cy="264.0" r="3.15" stroke="#ffd900"/>
<circle cx="245.0" cy="332.3" r="3.15" stroke="#04fffb"/>
<circle cx="236.1" cy="334.3" r="3.15" stroke="#ff3300"/>
<circle cx="216.0" cy="289.2" r="3.15" stroke="#49ffb6"/>
<circle cx="215.1" cy="271.0" r="3.15" stroke="#000080"/>
<circle cx="205.7" cy="284.9" r="3.15" stroke="#50ffaf"/>
<circle cx="205.6" cy="355.4" r="3.15" stroke="#ffa700"/>
<circle cx="171.3" cy="279.6" r="3.15" stroke="#d00000"/>
<circle cx="227.0" cy="323.5" r="3.15" stroke="#ff6400"/>
<circle cx="232.5" cy="303.1" r="3.15" stroke="#00009e"/>
<circle cx="235.2" cy="294.0" r="3.15" stroke="#ff6b00"/>
<circle cx="215.8" cy="327.7" r="3.15" stroke="#ff4100"/>
<circle cx="225.0" cy="267.1" r="3.15" stroke="#b1ff4e"/>
<circle cx="216.3" cy="316.4" r="3.15" stroke="#ff7e00"/>
<circle cx="209.5" cy="294.5" r="3.15" stroke="#ff0100"/>
<circle cx="247.0" cy="301.9" r="3.15" stroke="#ffed00"/>
<circle cx="181.9" cy="308.4" r="3.15" stroke="#11ffee"/>
<circle cx="184.1" cy="305.7" r="3.15" stroke="#ff7600"/>
<circle cx="195.4" cy="332.9" r="3.15" stroke="#002eff"/>
<circle cx="206.5" cy="293.6" r="3.15" stroke="#fff400"/>
<circle cx="205.8" cy="326.7" r="3.15" stroke="#ffe300"/>
<circle cx="196.3" cy="332.3" r="3.15" stroke="#ff8f00"/>
<circle cx="183.6" cy="254.3" r="3.15" stroke="#ff5c00"/>
<circle cx="243.8" cy="300.0" r="3.15" stroke="#000080"/>
<circle cx="208.6" cy="338.2" r="3.15" stroke="#00009e"/>
<circle cx="212.2" cy="286.7" r="3.15" stroke="#ff1000"/>
<circle cx="202.9" cy="300.3" r="3.15" stroke="#000080"/>
<circle cx="183.4" cy="254.3" r="3.15" stroke="#ff2900"/>
<circle cx="254.7" cy="312.5" r="3.15" stroke="#2bffd4"/>
<circle cx="181.5" cy="300.7" r="3.15" stroke="#00009e"/>
<circle cx="238.3" cy="331.5" r="3.15" stroke="#ffc900"/>
<circle cx="199.8" cy="306.9" r="3.15" stroke="#ff9800"/>
<circle cx="234.2" cy="347.7" r="3.15" stroke="#c70000"/>
<circle cx="222.9" cy="246.5" r="3.15" stroke="#ef0000"/>
<circle cx="196.4" cy="312.6" r="3.15" stroke="#ffe600"/>
<circle cx="227.4" cy="301.3" r="3.15" stroke="#ffb100"/>
<circle cx="208.2" cy="356.4" r="3.15" stroke="#ff0c00"/>
<circle cx="228.3" cy="316.1" r="3.15" stroke="#ffe600"/>
<circle cx="203.9" cy="306.7" r="3.15" stroke="#ffcb00"/>
<circle cx="199.6" cy="360.3" r="3.15" stroke="#ff9e00"/>
<circle cx="277.5" cy="345.8" r="3.15" stroke="#00b6ff"/>
<circle cx="191.2" cy="320.3" r="3.15" stroke="#ffde00"/>
<circle cx="237.8" cy="340.9" r="3.15" stroke="#0000e6"/>
<circle cx="210.5" cy="341.6" r="3.15" stroke="#ff2e00"/>
<circle cx="207.0" cy="345.7" r="3.15" stroke="#000080"/>
<circle cx="203.8" cy="317.1" r="3.15" stroke="#ff5d00"/>
<circle cx="265.3" cy="359.0" r="3.15" stroke="#ff3900"/>
<circle cx="221.5" cy="311.4" r="3.15" stroke="#000080"/>
<circle cx="157.0" cy="302.1" r="3.15" stroke="#ff6c00"/>
<circle cx="202.7" cy="322.8" r="3.15" stroke="#ffab00"/>
<circle cx="226.1" cy="297.3" r="3.15" stroke="#76ff89"/>
<circle cx="250.3" cy="378.2" r="3.15" stroke="#ff5900"/>
<circle cx="224.1" cy="297.1" r="3.15" stroke="#ff0100"/>
<circle cx="255.0" cy="306.6" r="3.15" stroke="#ff1000"/>
<circle cx="233.8" cy="335.6" r="3.15" stroke="#7bff84"/>
<circle cx="205.9" cy="311.6" r="3.15" stroke="#faff05"/>
<circle cx="221.4" cy="293.9" r="3.15" stroke="#ff1f00"/>
<circle cx="269.6" cy="353.5" r="3.15" stroke="#0000e6"/>
<circle cx="206.5" cy="309.5" r="3.15" stroke="#ff9000"/>
<circle cx="233.2" cy="336.5" r="3.15" stroke="#ff2700"/>
<circle cx="214.3" cy="338.7" r="3.15" stroke="#ffdb00"/>
<circle cx="194.6" cy="259.7" r="3.15" stroke="#ff8300"/>
<circle cx="189.9" cy="323.6" r="3.15" stroke="#ff6d00"/>
<circle cx="216.4" cy="311.4" r="3.15" stroke="#ff8400"/>
<circle cx="240.6" cy="295.5" r="3.15" stroke="#ff4e00"/>
<circle cx="178.5" cy="325.6" r="3.15" stroke="#ffec00"/>
<circle cx="259.8" cy="306.5" r="3.15" stroke="#00b8ff"/>
<circle cx="255.9" cy="306.5" r="3.15" stroke="#ffcc00"/>
<circle cx="196.4" cy="353.2" r="3.15" stroke="#85ff7a"/>
<circle cx="258.6" cy="324.5" r="3.15" stroke="#ffb900"/>
<circle cx="213.5" cy="297.9" r="3.15" stroke="#00ffff"/>
<circle cx="199.6" cy="312.5" r="3.15" stroke="#000080"/>
<circle cx="270.2" cy="393.8" r="3.15" stroke="#4affb5"/>
<circle cx="176.1" cy="287.1" r="3.15" stroke="#000080"/>
<circle cx="176.7" cy="311.3" r="3.15" stroke="#ffcc00"/>
<circle cx="198.2" cy="362.7" r="3.15" stroke="#ffe300"/>
<circle cx="171.8" cy="312.8" r="3.15" stroke="#f80000"/>
<circle cx="269.2" cy="334.3" r="3.15" stroke="#ffcf00"/>
<circle cx="207.3" cy="316.0" r="3.15" stroke="#b4ff4b"/>
<circle cx="222.1" cy="301.2" r="3.15" stroke="#ff7e00"/>
<circle cx="208.1" cy="300.9" r="3.15" stroke="#0000e6"/>
<circle cx="224.5" cy="306.1" r="3.15" stroke="#fbff04"/>
<circle cx="233.4" cy="321.2" r="3.15" stroke="#ffe900"/>
<circle cx="173.9" cy="312.6" r="3.15" stroke="#84ff7b"/>
<circle cx="250.8" cy="337.5" r="3.15" stroke="#f60000"/>
<circle cx="195.0" cy="297.6" r="3.15" stroke="#ff3c00"/>
<circle cx="236.0" cy="357.9" r="3.15" stroke="#6aff95"/>
<circle cx="211.5" cy="350.5" r="3.15" stroke="#ff2600"/>
<circle cx="169.6" cy="322.3" r="3.15" stroke="#fff400"/>
<circle cx="159.0" cy="267.4" r="3.15" stroke="#002eff"/>
<circle cx="228.3" cy="335.7" r="3.15" stroke="#ffb100"/>
<circle cx="224.3" cy="371.8" r="3.15" stroke="#ffce00"/>
<circle cx="179.7" cy="330.8" r="3.15" stroke="#ffbe00"/>
<circle cx="254.9" cy="376.7" r="3.15" stroke="#ff3c00"/>
<circle cx="216.3" cy="291.9" r="3.15" stroke="#fffe00"/>
<circle cx="197.8" cy="250.0" r="3.15" stroke="#ffe500"/>
<circle cx="220.2" cy="346.2" r="3.15" stroke="#00b5ff"/>
<circle cx="225.2" cy="355.0" r="3.15" stroke="#d7ff28"/>
<circle cx="196.9" cy="341.5" r="3.15" stroke="#cc0000"/>
<circle cx="218.5" cy="326.1" r="3.15" stroke="#ffc900"/>
<circle cx="256.3" cy="305.2" r="3.15" stroke="#ff6f00"/>
<circle cx="230.5" cy="270.6" r="3.15" stroke="#000080"/>
<circle cx="238.0" cy="374.1" r="3.15" stroke="#000080"/>
<circle cx="203.2" cy="330.8" r="3.15" stroke="#0000e6"/>
<circle cx="208.6" cy="299.5" r="3.15" stroke="#ff4f00"/>
<circle cx="191.1" cy="300.5" r="3.15" stroke="#ffc500"/>
<circle cx="269.0" cy="399.9" r="3.15" stroke="#00dbff"/>
<circle cx="211.8" cy="248.7" r="3.15" stroke="#00d2ff"/>
<circle cx="211.8" cy="274.7" r="3.15" stroke="#d9ff26"/>
<circle cx="186.6" cy="292.2" r="3.15" stroke="#ff7500"/>
<circle cx="219.4" cy="380.0" r="3.15" stroke="#002eff"/>
<circle cx="220.3" cy="288.6" r="3.15" stroke="#ff8900"/>
<circle cx="210.3" cy="349.7" r="3.15" stroke="#ff5a00"/>
<circle cx="223.7" cy="349.4" r="3.15" stroke="#002eff"/>
<circle cx="220.6" cy="329.2" r="3.15" stroke="#000080"/>
<circle cx="180.6" cy="291.7" r="3.15" stroke="#f80000"/>
<circle cx="167.0" cy="296.1" r="3.15" stroke="#9eff61"/>
<circle cx="216.4" cy="322.3" r="3.15" stroke="#00bfff"/>
<circle cx="282.8" cy="357.6" r="3.15" stroke="#ff6100"/>
<circle cx="205.9" cy="344.5" r="3.15" stroke="#ffb300"/>
<circle cx="193.8" cy="289.7" r="3.15" stroke="#ff2a00"/>
<circle cx="218.5" cy="316.3" r="3.15" stroke="#000080"/>
<circle cx="225.8" cy="350.2" r="3.15" stroke="#990000"/>
<circle cx="164.8" cy="282.8" r="3.15" stroke="#ffa300"/>
<circle cx="213.7" cy="348.7" r="3.15" stroke="#fdff02"/>
<circle cx="234.4" cy="314.4" r="3.15" stroke="#ffef00"/>
<circle cx="173.1" cy="315.2" r="3.15" stroke="#5affa5"/>
<circle cx="209.3" cy="293.0" r="3.15" stroke="#6eff91"/>
<circle cx="226.7" cy="309.6" r="3.15" stroke="#ff0c00"/>
<circle cx="207.2" cy="270.3" r="3.15" stroke="#ff3d00"/>
<circle cx="256.4" cy="382.6" r="3.15" stroke="#bbff44"/>
<circle cx="249.7" cy="348.2" r="3.15" stroke="#ff9800"/>
<circle cx="220.2" cy="316.6" r="3.15" stroke="#ff4900"/>
<circle cx="189.9" cy="319.8" r="3.15" stroke="#ffa700"/>
<circle cx="204.8" cy="282.4" r="3.15" stroke="#000080"/>
<circle cx="219.9" cy="352.8" r="3.15" stroke="#ffa400"/>
<circle cx="227.0" cy="323.5" r="3.15" stroke="#000080"/>
<circle cx="176.0" cy="278.3" r="3.15" stroke="#ff4900"/>
<circle cx="192.5" cy="321.5" r="3.15" stroke="#ff0a00"/>
<circle cx="258.2" cy="381.8" r="3.15" stroke="#0000e6"/>
<circle cx="214.1" cy="324.0" r="3.15" stroke="#00d8ff"/>
<circle cx="205.0" cy="353.3" r="3.15" stroke="#ff4a00"/>
<circle cx="222.4" cy="323.8" r="3.15" stroke="#00f4ff"/>
<circle cx="197.5" cy="298.0" r="3.15" stroke="#ff3500"/>
<circle cx="206.9" cy="344.0" r="3.15" stroke="#f6ff09"/>
<circle cx="216.8" cy="317.0" r="3.15" stroke="#ff1000"/>
<circle cx="222.2" cy="335.6" r="3.15" stroke="#00f9ff"/>
<circle cx="207.3" cy="280.6" r="3.15" stroke="#ffd700"/>
<circle cx="291.7" cy="362.1" r="3.15" stroke="#ff7c00"/>
<circle cx="258.1" cy="369.8" r="3.15" stroke="#00009e"/>
<circle cx="197.3" cy="322.1" r="3.15" stroke="#000080"/>
<circle cx="222.7" cy="365.1" r="3.15" stroke="#f3ff0c"/>
<circle cx="219.0" cy="313.6" r="3.15" stroke="#ff8a00"/>
<circle cx="221.1" cy="313.9" r="3.15" stroke="#7eff81"/>
<circle cx="271.7" cy="347.6" r="3.15" stroke="#ff4100"/>
<circle cx="197.2" cy="318.3" r="3.15" stroke="#ffc100"/>
<circle cx="185.3" cy="286.8" r="3.15" stroke="#ff2d00"/>
<circle cx="248.2" cy="346.1" r="3.15" stroke="#f70000"/>
<circle cx="215.4" cy="302.7" r="3.15" stroke="#ff2600"/>
<circle cx="248.9" cy="329.5" r="3.15" stroke="#ffdc00"/>
<circle cx="236.5" cy="346.4" r="3.15" stroke="#dcff23"/>
<circle cx="183.8" cy="326.1" r="3.15" stroke="#ff8800"/>
<circle cx="185.9" cy="333.7" r="3.15" stroke="#ffd200"/>
<circle cx="231.6" cy="281.2" r="3.15" stroke="#ffe300"/>
<circle cx="224.7" cy="335.0" r="3.15" stroke="#4affb5"/>
<circle cx="206.1" cy="331.0" r="3.15" stroke="#b7ff48"/>
<circle cx="270.7" cy="358.9" r="3.15" stroke="#ffde00"/>
<circle cx="147.6" cy="267.2" r="3.15" stroke="#ff0a00"/>
<circle cx="170.3" cy="265.0" r="3.15" stroke="#000080"/>
<circle cx="184.8" cy="293.9" r="3.15" stroke="#ff3d00"/>
<circle cx="211.9" cy="305.9" r="3.15" stroke="#00009e"/>
<circle cx="151.2" cy="304.3" r="3.15" stroke="#000080"/>
<circle cx="221.8" cy="315.3" r="3.15" stroke="#ffca00"/>
<circle cx="195.7" cy="293.0" r="3.15" stroke="#24ffdb"/>
<circle cx="200.4" cy="276.8" r="3.15" stroke="#ff9600"/>
<circle cx="244.8" cy="308.7" r="3.15" stroke="#ffae00"/>
<circle cx="202.2" cy="339.6" r="3.15" stroke="#ffa500"/>
<circle cx="214.5" cy="352.9" r="3.15" stroke="#ffd000"/>
<circle cx="255.3" cy="338.7" r="3.15" stroke="#00e7ff"/>
<circle cx="246.7" cy="354.4" r="3.15" stroke="#ffb400"/>
<circle cx="209.5" cy="338.2" r="3.15" stroke="#ff5800"/>
<circle cx="219.6" cy="338.9" r="3.15" stroke="#e5ff1a"/>
<circle cx="192.9" cy="325.9" r="3.15" stroke="#00e1ff"/>
<circle cx="230.9" cy="388.5" r="3.15" stroke="#000080"/>
<circle cx="216.8" cy="358.3" r="3.15" stroke="#ff4000"/>
<circle cx="230.5" cy="303.0" r="3.15" stroke="#ffdb00"/>
<circle cx="250.5" cy="380.2" r="3.15" stroke="#ff6e00"/>
<circle cx="213.8" cy="351.8" r="3.15" stroke="#ac0000"/>
<circle cx="222.5" cy="311.4" r="3.15" stroke="#00ebff"/>
<circle cx="192.1" cy="350.3" r="3.15" stroke="#ff9800"/>
<circle cx="265.9" cy="350.8" r="3.15" stroke="#ffc200"/>
<circle cx="236.9" cy="312.5" r="3.15" stroke="#ffa800"/>
<circle cx="223.1" cy="306.0" r="3.15" stroke="#ff0400"/>
<circle cx="223.6" cy="259.7" r="3.15" stroke="#000080"/>
<circle cx="158.8" cy="260.7" r="3.15" stroke="#64ff9b"/>
<circle cx="252.8" cy="358.9" r="3.15" stroke="#0000e6"/>
<circle cx="232.8" cy="294.0" r="3.15" stroke="#0000e6"/>
<circle cx="187.2" cy="298.8" r="3.15" stroke="#ff6e00"/>
<circle cx="187.5" cy="249.7" r="3.15" stroke="#00009e"/>
<circle cx="199.6" cy="301.0" r="3.15" stroke="#c2ff3d"/>
<circle cx="287.8" cy="376.0" r="3.15" stroke="#000080"/>
<circle cx="218.8" cy="340.4" r="3.15" stroke="#ffe700"/>
<circle cx="247.0" cy="308.5" r="3.15" stroke="#1affe5"/>
<circle cx="232.3" cy="342.5" r="3.15" stroke="#ffde00"/>
<circle cx="201.1" cy="335.5" r="3.15" stroke="#ff5c00"/>
<circle cx="212.5" cy="342.0" r="3.15" stroke="#00feff"/>
<circle cx="200.8" cy="338.4" r="3.15" stroke="#ff0600"/>
<circle cx="285.2" cy="382.5" r="3.15" stroke="#ff2e00"/>
<circle cx="200.3" cy="281.8" r="3.15" stroke="#ffe400"/>
<circle cx="196.0" cy="324.4" r="3.15" stroke="#ffe700"/>
<circle cx="270.5" cy="375.7" r="3.15" stroke="#75ff8a"/>
<circle cx="239.3" cy="324.2" r="3.15" stroke="#f20000"/>
<circle cx="186.8" cy="290.5" r="3.15" stroke="#f1ff0e"/>
<circle cx="221.3" cy="274.7" r="3.15" stroke="#ffb000"/>
<circle cx="291.1" cy="373.1" r="3.15" stroke="#ff8800"/>
<circle cx="236.2" cy="317.9" r="3.15" stroke="#000080"/>
<circle cx="224.7" cy="287.3" r="3.15" stroke="#ffac00"/>
<circle cx="175.8" cy="347.2" r="3.15" stroke="#ff0800"/>
<circle cx="174.3" cy="283.2" r="3.15" stroke="#ffa700"/>
<circle cx="217.2" cy="342.4" r="3.15" stroke="#ecff13"/>
<circle cx="238.9" cy="339.2" r="3.15" stroke="#f30000"/>
<circle cx="235.3" cy="343.5" r="3.15" stroke="#ff9000"/>
<circle cx="253.5" cy="321.5" r="3.15" stroke="#910000"/>
<circle cx="219.3" cy="311.8" r="3.15" stroke="#dfff20"/>
<circle cx="229.2" cy="310.2" r="3.15" stroke="#00009e"/>
<circle cx="215.8" cy="317.2" r="3.15" stroke="#002eff"/>
<circle cx="181.8" cy="349.9" r="3.15" stroke="#ffd700"/>
<circle cx="251.6" cy="358.7" r="3.15" stroke="#fb0000"/>
<circle cx="228.1" cy="307.4" r="3.15" stroke="#ff9c00"/>
<circle cx="203.7" cy="360.8" r="3.15" stroke="#ffef00"/>
<circle cx="192.8" cy="241.5" r="3.15" stroke="#ff1100"/>
<circle cx="246.3" cy="352.0" r="3.15" stroke="#000080"/>
<circle cx="224.3" cy="315.4" r="3.15" stroke="#000080"/>
<circle cx="210.7" cy="314.4" r="3.15" stroke="#fff100"/>
<circle cx="242.1" cy="330.3" r="3.15" stroke="#00e4ff"/>
<circle cx="237.0" cy="272.3" r="3.15" stroke="#e00000"/>
<circle cx="199.5" cy="289.8" r="3.15" stroke="#000080"/>
<circle cx="233.1" cy="290.9" r="3.15" stroke="#ff7800"/>
<circle cx="234.9" cy="357.8" r="3.15" stroke="#ff9200"/>
<circle cx="201.0" cy="317.8" r="3.15" stroke="#ff7200"/>
<circle cx="206.9" cy="381.1" r="3.15" stroke="#00009e"/>
<circle cx="233.4" cy="388.3" r="3.15" stroke="#000080"/>
<circle cx="217.2" cy="285.8" r="3.15" stroke="#ff9800"/>
<circle cx="169.0" cy="273.6" r="3.15" stroke="#ffd200"/>
<circle cx="184.1" cy="300.0" r="3.15" stroke="#c9ff36"/>
<circle cx="196.5" cy="291.3" r="3.15" stroke="#ffad00"/>
<circle cx="215.3" cy="305.6" r="3.15" stroke="#b7ff48"/>
<circle cx="271.8" cy="355.3" r="3.15" stroke="#99ff66"/>
<circle cx="168.4" cy="303.5" r="3.15" stroke="#ff0200"/>
<circle cx="236.7" cy="352.0" r="3.15" stroke="#ff0e00"/>
<circle cx="216.5" cy="332.6" r="3.15" stroke="#d10000"/>
<circle cx="220.5" cy="330.0" r="3.15" stroke="#ff5800"/>
<circle cx="269.0" cy="338.2" r="3.15" stroke="#ffa100"/>
<circle cx="221.9" cy="299.5" r="3.15" stroke="#000080"/>
<circle cx="211.8" cy="283.1" r="3.15" stroke="#ffef00"/>
<circle cx="185.0" cy="276.0" r="3.15" stroke="#ff0100"/>
<circle cx="192.6" cy="285.0" r="3.15" stroke="#00b3ff"/>
<circle cx="202.0" cy="313.4" r="3.15" stroke="#ff1e00"/>
<circle cx="233.7" cy="332.2" r="3.15" stroke="#ff2d00"/>
<circle cx="215.7" cy="280.2" r="3.15" stroke="#0dfff2"/>
<circle cx="202.9" cy="271.0" r="3.15" stroke="#0000e6"/>
<circle cx="201.3" cy="268.3" r="3.15" stroke="#cb0000"/>
<circle cx="249.8" cy="348.3" r="3.15" stroke="#ffa800"/>
<circle cx="167.1" cy="271.1" r="3.15" stroke="#ffa200"/>
<circle cx="206.6" cy="300.1" r="3.15" stroke="#ffd500"/>
<circle cx="189.2" cy="329.7" r="3.15" stroke="#dbff24"/>
<circle cx="176.0" cy="323.2" r="3.15" stroke="#000080"/>
<circle cx="210.9" cy="325.1" r="3.15" stroke="#ff8e00"/>
<circle cx="252.2" cy="329.1" r="3.15" stroke="#ff1100"/>
<circle cx="208.0" cy="345.2" r="3.15" stroke="#56ffa9"/>
<circle cx="236.9" cy="306.5" r="3.15" stroke="#ff9300"/>
<circle cx="209.4" cy="305.3" r="3.15" stroke="#ff0c00"/>
<circle cx="223.9" cy="335.3" r="3.15" stroke="#d8ff27"/>
<circle cx="247.8" cy="307.4" r="3.15" stroke="#00f4ff"/>
<circle cx="198.2" cy="274.1" r="3.15" stroke="#0000e6"/>
<circle cx="220.8" cy="370.4" r="3.15" stroke="#efff10"/>
<circle cx="249.5" cy="352.4" r="3.15" stroke="#ff5900"/>
<circle cx="247.6" cy="298.3" r="3.15" stroke="#8fff70"/>
<circle cx="271.4" cy="395.1" r="3.15" stroke="#ff4200"/>
<circle cx="204.7" cy="315.1" r="3.15" stroke="#5effa1"/>
<circle cx="246.3" cy="310.3" r="3.15" stroke="#ff5400"/>
<circle cx="226.7" cy="306.5" r="3.15" stroke="#ff6c00"/>
<circle cx="249.7" cy="336.2" r="3.15" stroke="#03fffc"/>
<circle cx="152.1" cy="286.0" r="3.15" stroke="#2effd1"/>
<circle cx="183.3" cy="318.5" r="3.15" stroke="#ff7c00"/>
<circle cx="174.0" cy="337.4" r="3.15" stroke="#ff5c00"/>
<circle cx="179.2" cy="288.2" r="3.15" stroke="#e0ff1f"/>
<circle cx="195.4" cy="369.5" r="3.15" stroke="#ff1600"/>
<circle cx="223.3" cy="307.5" r="3.15" stroke="#9b0000"/>
<circle cx="178.9" cy="270.7" r="3.15" stroke="#002eff"/>
<circle cx="214.6" cy="293.9" r="3.15" stroke="#f50000"/>
<circle cx="228.6" cy="304.2" r="3.15" stroke="#ff7100"/>
<circle cx="162.3" cy="273.8" r="3.15" stroke="#ff1b00"/>
<circle cx="242.7" cy="312.4" r="3.15" stroke="#ffb700"/>
<circle cx="196.6" cy="350.5" r="3.15" stroke="#f3ff0c"/>
<circle cx="221.6" cy="309.6" r="3.15" stroke="#b9ff46"/>
<circle cx="188.7" cy="291.4" r="3.15" stroke="#cfff30"/>
<circle cx="202.1" cy="340.3" r="3.15" stroke="#d2ff2d"/>
<circle cx="212.5" cy="346.1" r="3.15" stroke="#ffae00"/>
<circle cx="207.4" cy="323.1" r="3.15" stroke="#ff7700"/>
<circle cx="204.5" cy="291.3" r="3.15" stroke="#7dff82"/>
<circle cx="261.3" cy="343.4" r="3.15" stroke="#ea0000"/>
<circle cx="226.9" cy="298.6" r="3.15" stroke="#ff5500"/>
<circle cx="238.7" cy="314.2" r="3.15" stroke="#3effc1"/>
<circle cx="205.7" cy="306.8" r="3.15" stroke="#0000e6"/>
<circle cx="224.5" cy="291.0" r="3.15" stroke="#ffe900"/>
<circle cx="225.0" cy="322.7" r="3.15" stroke="#ff5e00"/>
<circle cx="221.3" cy="284.5" r="3.15" stroke="#ffe300"/>
<circle cx="172.2" cy="251.4" r="3.15" stroke="#002eff"/>
<circle cx="218.9" cy="302.6" r="3.15" stroke="#ff5300"/>
<circle cx="159.6" cy="242.0" r="3.15" stroke="#ffa700"/>
<circle cx="167.5" cy="314.5" r="3.15" stroke="#ffe100"/>
<circle cx="184.0" cy="261.4" r="3.15" stroke="#ffeb00"/>
<circle cx="214.5" cy="328.3" r="3.15" stroke="#0000e6"/>
<circle cx="191.0" cy="332.4" r="3.15" stroke="#ffdc00"/>
<circle cx="191.5" cy="308.1" r="3.15" stroke="#ff0e00"/>
<circle cx="157.7" cy="302.2" r="3.15" stroke="#ff1b00"/>
<circle cx="232.5" cy="339.6" r="3.15" stroke="#ff9a00"/>
<circle cx="264.2" cy="371.5" r="3.15" stroke="#ffd600"/>
<circle cx="216.3" cy="355.8" r="3.15" stroke="#002eff"/>
<circle cx="194.0" cy="277.3" r="3.15" stroke="#0000e6"/>
<circle cx="276.9" cy="376.5" r="3.15" stroke="#ff2f00"/>
<circle cx="271.7" cy="328.3" r="3.15" stroke="#ff6f00"/>
<circle cx="217.1" cy="291.9" r="3.15" stroke="#f4ff0b"/>
<circle cx="227.9" cy="280.7" r="3.15" stroke="#ffe400"/>
<circle cx="205.6" cy="287.1" r="3.15" stroke="#ff9200"/>
<circle cx="244.0" cy="334.4" r="3.15" stroke="#00009e"/>
<circle cx="192.1" cy="316.2" r="3.15" stroke="#00b8ff"/>
<circle cx="217.3" cy="314.0" r="3.15" stroke="#67ff98"/>
<circle cx="220.0" cy="350.4" r="3.15" stroke="#00a3ff"/>
<circle cx="239.6" cy="208.6" r="3.15" stroke="#000080"/>
<circle cx="416.9" cy="212.4" r="3.15" stroke="#000080"/>
<circle cx="305.6" cy="215.0" r="3.15" stroke="#05fffa"/>
<circle cx="357.7" cy="235.8" r="3.15" stroke="#000080"/>
<circle cx="327.1" cy="241.4" r="3.15" stroke="#05fffa"/>
<circle cx="380.9" cy="260.5" r="3.15" stroke="#000080"/>
<circle cx="427.7" cy="281.8" r="3.15" stroke="#000080"/>
<circle cx="108.8" cy="263.1" r="3.15" stroke="#000fff"/>
<circle cx="117.5" cy="266.6" r="3.15" stroke="#05fffa"/>
<circle cx="89.9" cy="278.3" r="3.15" stroke="#05fffa"/>
<circle cx="105.8" cy="283.9" r="3.15" stroke="#000080"/>
<circle cx="127.8" cy="295.0" r="3.15" stroke="#000080"/>
<circle cx="128.6" cy="291.0" r="3.15" stroke="#000080"/>
<circle cx="323.1" cy="430.4" r="3.15" stroke="#000080"/>
<circle cx="283.9" cy="441.8" r="3.15" stroke="#ff4c00"/>
<circle cx="306.4" cy="417.2" r="3.15" stroke="#ff4c00"/>
<circle cx="312.9" cy="407.8" r="3.15" stroke="#80ff80"/>
<circle cx="262.5" cy="410.8" r="3.15" stroke="#800000"/>
<circle cx="253.4" cy="409.3" r="3.15" stroke="#ff9e00"/>
<circle cx="255.1" cy="413.0" r="3.15" stroke="#ff9e00"/>
<circle cx="348.9" cy="378.0" r="3.15" stroke="#00b2ff"/>
<circle cx="354.9" cy="319.0" r="3.15" stroke="#000080"/>
<circle cx="179.6" cy="227.6" r="3.15" stroke="#80ff80"/>
<circle cx="197.1" cy="225.0" r="3.15" stroke="#80ff80"/>
<circle cx="212.5" cy="241.0" r="3.15" stroke="#00b2ff"/>
<circle cx="145.1" cy="237.6" r="3.15" stroke="#fa0000"/>
<circle cx="152.1" cy="244.0" r="3.15" stroke="#fa0000"/>
<circle cx="155.1" cy="249.0" r="3.15" stroke="#fa0000"/>
<circle cx="142.8" cy="261.0" r="3.15" stroke="#ff4c00"/>
<circle cx="277.8" cy="251.8" r="3.15" stroke="#05fffa"/>
<circle cx="241.6" cy="246.0" r="3.15" stroke="#000080"/>
<circle cx="243.1" cy="250.0" r="3.15" stroke="#000080"/>
<circle cx="252.1" cy="249.4" r="3.15" stroke="#000080"/>
<circle cx="235.6" cy="258.0" r="3.15" stroke="#000080"/>
<circle cx="316.9" cy="281.0" r="3.15" stroke="#000080"/>
<circle cx="310.1" cy="293.6" r="3.15" stroke="#000080"/>
<circle cx="313.1" cy="294.0" r="3.15" stroke="#05fffa"/>
<circle cx="296.1" cy="303.0" r="3.15" stroke="#000080"/>
<circle cx="327.1" cy="307.0" r="3.15" stroke="#000080"/>
<circle cx="335.1" cy="308.0" r="3.15" stroke="#000080"/>
<circle cx="338.6" cy="314.0" r="3.15" stroke="#000080"/>
<circle cx="343.7" cy="313.0" r="3.15" stroke="#05fffa"/>
<circle cx="327.7" cy="322.0" r="3.15" stroke="#000080"/>
<circle cx="318.1" cy="327.6" r="3.15" stroke="#000080"/>
<circle cx="330.1" cy="328.0" r="3.15" stroke="#05fffa"/>
<circle cx="332.7" cy="334.0" r="3.15" stroke="#05fffa"/>
<circle cx="314.6" cy="346.0" r="3.15" stroke="#80ff80"/>
<circle cx="313.1" cy="353.0" r="3.15" stroke="#000080"/>
<circle cx="320.1" cy="311.0" r="3.15" stroke="#80ff80"/>
<circle cx="234.1" cy="398.0" r="3.15" stroke="#800000"/>
<circle cx="288.8" cy="382.0" r="3.15" stroke="#ff4c00"/>
<circle cx="284.1" cy="390.0" r="3.15" stroke="#ff9e00"/>
<circle cx="306.1" cy="392.0" r="3.15" stroke="#ff4c00"/>
<circle cx="292.1" cy="397.0" r="3.15" stroke="#fffa00"/>
<circle cx="270.1" cy="393.0" r="3.15" stroke="#ff9e00"/>
<circle cx="265.1" cy="385.0" r="3.15" stroke="#ff9e00"/>
<circle cx="179.1" cy="372.0" r="3.15" stroke="#fa0000"/>
<circle cx="187.6" cy="380.6" r="3.15" stroke="#05fffa"/>
<circle cx="204.1" cy="382.0" r="3.15" stroke="#05fffa"/>
<circle cx="139.6" cy="301.5" r="3.15" stroke="#00b2ff"/>
<circle cx="144.6" cy="327.6" r="3.15" stroke="#05fffa"/>
</g>
<path class="ds" d="M71.3 287.8H516.2"/>
<path class="ds" d="M182.3 468.2V61.4"/>
<ellipse cx="257.9" cy="300.0" rx="128.2" ry="84.2" transform="rotate(176.2 257.9 300.0)" fill="none" stroke="#0000ff" stroke-width="1.7"/>
<ellipse cx="225.8" cy="329.3" rx="91.7" ry="50.0" transform="rotate(-136.4 225.8 329.3)" fill="none" stroke="#ff0000" stroke-width="1.7"/>
<ellipse cx="208.1" cy="311.0" rx="76.4" ry="48.6" transform="rotate(54.8 208.1 311.0)" fill="none" stroke="#000" stroke-width="3.35"/>
<circle cx="182.0" cy="286.6" r="7.4" fill="#ff0000"/>
<path class="ax" d="M71.3 61.4V468.2H516.2M126.7 468.2v-4M182.3 468.2v-4M237.9 468.2v-4M293.5 468.2v-4M349.1 468.2v-4M404.7 468.2v-4M460.3 468.2v-4M515.9 468.2v-4M71.3 423.0h4M71.3 377.8h4M71.3 332.6h4M71.3 287.4h4M71.3 242.2h4M71.3 197.0h4M71.3 151.8h4M71.3 106.6h4M71.3 61.4h4"/>
<g class="t" text-anchor="middle">
<text x="69.6" y="494.6">-1</text>
<text x="125.2" y="494.6">-0.5</text>
<text x="182.3" y="494.6">0</text>
<text x="237.9" y="494.6">0.5</text>
<text x="293.5" y="494.6">1</text>
<text x="349.1" y="494.6">1.5</text>
<text x="404.7" y="494.6">2</text>
<text x="460.3" y="494.6">2.5</text>
<text x="515.9" y="494.6">3</text>
</g><g class="t" text-anchor="end">
<text x="63.6" y="476.0">-2</text>
<text x="63.6" y="430.8">-1.5</text>
<text x="63.6" y="385.6">-1</text>
<text x="63.6" y="340.4">-0.5</text>
<text x="63.6" y="295.2">0</text>
<text x="63.6" y="250.0">0.5</text>
<text x="63.6" y="204.8">1</text>
<text x="63.6" y="159.6">1.5</text>
<text x="63.6" y="114.4">2</text>
<text x="63.6" y="69.2">2.5</text>
</g>
<text class="l" text-anchor="middle" x="294.4" y="520">Anteroposterior</text>
<text class="l" text-anchor="middle" transform="translate(23.4 265.6) rotate(-90)">Vertical</text>
<text class="t k" letter-spacing=".24" text-anchor="end" transform="translate(100.8 66.2) rotate(-90)">Above</text>
<text class="t k" text-anchor="end" x="509.7" y="458.7">Anterior</text>
<text class="b" text-anchor="middle" x="294.2" y="51.8">SAGITTAL PLANE</text>
<rect x="543.5" y="61.4" width="26.8" height="407.2" fill="url(#jet)" stroke="#1a1a1a" stroke-width="1"/>
<g class="c">
<text x="577" y="475.5">0</text>
<text x="577" y="434.8">1</text>
<text x="577" y="394.1">2</text>
<text x="577" y="353.3">3</text>
<text x="577" y="312.6">4</text>
<text x="577" y="271.9">5</text>
<text x="577" y="231.2">6</text>
<text x="577" y="190.5">7</text>
<text x="577" y="149.7">8</text>
<text x="577" y="109.0">9</text>
<text x="577" y="68.3">10</text>
</g>
<path d="M570.3 427.9h-3.5M570.3 387.2h-3.5M570.3 346.4h-3.5M570.3 305.7h-3.5M570.3 265.0h-3.5M570.3 224.3h-3.5M570.3 183.6h-3.5M570.3 142.8h-3.5M570.3 102.1h-3.5" stroke="#1a1a1a" stroke-width="1" fill="none"/>
</g>
<g transform="translate(1411.7 0)">
<g class="m">
<circle cx="445.3" cy="279.4" r="3.15" stroke="#40ffbf"/>
<circle cx="453.4" cy="367.2" r="3.15" stroke="#87ff78"/>
<circle cx="379.6" cy="350.9" r="3.15" stroke="#ffc900"/>
<circle cx="415.2" cy="253.9" r="3.15" stroke="#ff3500"/>
<circle cx="402.3" cy="312.4" r="3.15" stroke="#000080"/>
<circle cx="427.0" cy="297.0" r="3.15" stroke="#000080"/>
<circle cx="445.3" cy="279.3" r="3.15" stroke="#b70000"/>
<circle cx="415.3" cy="288.9" r="3.15" stroke="#ff0c00"/>
<circle cx="448.7" cy="275.6" r="3.15" stroke="#ffd200"/>
<circle cx="429.9" cy="318.8" r="3.15" stroke="#4affb5"/>
<circle cx="361.4" cy="371.7" r="3.15" stroke="#ff5500"/>
<circle cx="387.4" cy="332.9" r="3.15" stroke="#ff1f00"/>
<circle cx="416.1" cy="334.9" r="3.15" stroke="#000080"/>
<circle cx="394.6" cy="368.6" r="3.15" stroke="#ffd800"/>
<circle cx="374.2" cy="323.0" r="3.15" stroke="#ff3f00"/>
<circle cx="441.2" cy="278.5" r="3.15" stroke="#ff4900"/>
<circle cx="453.8" cy="319.2" r="3.15" stroke="#ff5000"/>
<circle cx="429.4" cy="279.2" r="3.15" stroke="#ffa300"/>
<circle cx="394.3" cy="383.8" r="3.15" stroke="#ff0400"/>
<circle cx="431.5" cy="304.7" r="3.15" stroke="#ff8500"/>
<circle cx="403.0" cy="324.6" r="3.15" stroke="#00009e"/>
<circle cx="379.3" cy="301.1" r="3.15" stroke="#ffd000"/>
<circle cx="429.9" cy="326.1" r="3.15" stroke="#ff8600"/>
<circle cx="420.2" cy="274.2" r="3.15" stroke="#ffd700"/>
<circle cx="440.7" cy="300.7" r="3.15" stroke="#34ffcb"/>
<circle cx="395.7" cy="300.5" r="3.15" stroke="#ff9e00"/>
<circle cx="383.7" cy="348.2" r="3.15" stroke="#ffdc00"/>
<circle cx="375.7" cy="358.9" r="3.15" stroke="#ff9600"/>
<circle cx="413.7" cy="357.4" r="3.15" stroke="#ff6f00"/>
<circle cx="404.6" cy="290.3" r="3.15" stroke="#ff1a00"/>
<circle cx="469.8" cy="285.5" r="3.15" stroke="#ff0f00"/>
<circle cx="388.7" cy="366.2" r="3.15" stroke="#fffb00"/>
<circle cx="433.5" cy="338.0" r="3.15" stroke="#000080"/>
<circle cx="416.7" cy="352.8" r="3.15" stroke="#002eff"/>
<circle cx="394.0" cy="276.0" r="3.15" stroke="#ff4500"/>
<circle cx="391.4" cy="299.2" r="3.15" stroke="#ff5c00"/>
<circle cx="403.3" cy="288.8" r="3.15" stroke="#f30000"/>
<circle cx="414.7" cy="266.7" r="3.15" stroke="#ffec00"/>
<circle cx="405.1" cy="349.3" r="3.15" stroke="#ff9f00"/>
<circle cx="396.8" cy="277.3" r="3.15" stroke="#f6ff09"/>
<circle cx="402.2" cy="352.8" r="3.15" stroke="#000080"/>
<circle cx="448.1" cy="313.2" r="3.15" stroke="#ff4400"/>
<circle cx="383.8" cy="334.7" r="3.15" stroke="#ffdf00"/>
<circle cx="409.3" cy="321.8" r="3.15" stroke="#000080"/>
<circle cx="428.3" cy="287.1" r="3.15" stroke="#00009e"/>
<circle cx="396.6" cy="353.5" r="3.15" stroke="#04fffb"/>
<circle cx="384.5" cy="339.2" r="3.15" stroke="#0000e6"/>
<circle cx="423.6" cy="308.8" r="3.15" stroke="#000080"/>
<circle cx="397.4" cy="339.5" r="3.15" stroke="#ffe400"/>
<circle cx="416.5" cy="285.3" r="3.15" stroke="#ff7c00"/>
<circle cx="377.5" cy="317.3" r="3.15" stroke="#00d9ff"/>
<circle cx="402.8" cy="342.2" r="3.15" stroke="#000080"/>
<circle cx="402.5" cy="303.4" r="3.15" stroke="#b50000"/>
<circle cx="407.4" cy="324.5" r="3.15" stroke="#e6ff19"/>
<circle cx="398.0" cy="334.9" r="3.15" stroke="#ffa000"/>
<circle cx="445.5" cy="347.2" r="3.15" stroke="#ffe300"/>
<circle cx="409.3" cy="350.4" r="3.15" stroke="#b4ff4b"/>
<circle cx="400.2" cy="317.1" r="3.15" stroke="#0000e6"/>
<circle cx="393.8" cy="347.5" r="3.15" stroke="#ff6b00"/>
<circle cx="404.7" cy="293.1" r="3.15" stroke="#ff4600"/>
<circle cx="448.3" cy="296.3" r="3.15" stroke="#f3ff0c"/>
<circle cx="431.1" cy="331.1" r="3.15" stroke="#ffda00"/>
<circle cx="404.2" cy="267.9" r="3.15" stroke="#ff9200"/>
<circle cx="423.2" cy="318.8" r="3.15" stroke="#002eff"/>
<circle cx="420.8" cy="270.0" r="3.15" stroke="#000080"/>
<circle cx="454.3" cy="336.7" r="3.15" stroke="#ffc600"/>
<circle cx="383.9" cy="346.5" r="3.15" stroke="#65ff9a"/>
<circle cx="403.9" cy="326.1" r="3.15" stroke="#ff9a00"/>
<circle cx="433.5" cy="298.2" r="3.15" stroke="#ff0d00"/>
<circle cx="367.6" cy="338.7" r="3.15" stroke="#f40000"/>
<circle cx="425.7" cy="329.0" r="3.15" stroke="#0dfff2"/>
<circle cx="411.6" cy="306.0" r="3.15" stroke="#ff6400"/>
<circle cx="433.6" cy="298.9" r="3.15" stroke="#17ffe8"/>
<circle cx="421.8" cy="267.9" r="3.15" stroke="#00a4ff"/>
<circle cx="368.4" cy="358.9" r="3.15" stroke="#0000e6"/>
<circle cx="432.0" cy="339.2" r="3.15" stroke="#0000e6"/>
<circle cx="410.9" cy="293.3" r="3.15" stroke="#ff1c00"/>
<circle cx="406.7" cy="297.4" r="3.15" stroke="#ffdc00"/>
<circle cx="355.6" cy="366.4" r="3.15" stroke="#ff3200"/>
<circle cx="416.2" cy="281.0" r="3.15" stroke="#ffe100"/>
<circle cx="419.1" cy="334.8" r="3.15" stroke="#ffc600"/>
<circle cx="415.0" cy="289.2" r="3.15" stroke="#ffeb00"/>
<circle cx="419.0" cy="305.9" r="3.15" stroke="#f20000"/>
<circle cx="417.4" cy="325.7" r="3.15" stroke="#ff2100"/>
<circle cx="429.6" cy="300.7" r="3.15" stroke="#ff0d00"/>
<circle cx="397.9" cy="284.5" r="3.15" stroke="#ff7900"/>
<circle cx="412.4" cy="348.7" r="3.15" stroke="#1fffe0"/>
<circle cx="427.1" cy="338.9" r="3.15" stroke="#ff9800"/>
<circle cx="428.2" cy="316.1" r="3.15" stroke="#ec0000"/>
<circle cx="430.3" cy="374.0" r="3.15" stroke="#ff5a00"/>
<circle cx="435.4" cy="287.9" r="3.15" stroke="#ffbe00"/>
<circle cx="420.5" cy="283.5" r="3.15" stroke="#ffdb00"/>
<circle cx="384.6" cy="379.7" r="3.15" stroke="#23ffdc"/>
<circle cx="402.8" cy="311.1" r="3.15" stroke="#2effd1"/>
<circle cx="401.0" cy="298.8" r="3.15" stroke="#000080"/>
<circle cx="414.0" cy="289.7" r="3.15" stroke="#ff9300"/>
<circle cx="399.4" cy="299.3" r="3.15" stroke="#d1ff2e"/>
<circle cx="448.7" cy="249.8" r="3.15" stroke="#8d0000"/>
<circle cx="421.7" cy="329.6" r="3.15" stroke="#ffbe00"/>
<circle cx="410.7" cy="324.0" r="3.15" stroke="#f30000"/>
<circle cx="446.6" cy="296.7" r="3.15" stroke="#000080"/>
<circle cx="390.7" cy="325.8" r="3.15" stroke="#002eff"/>
<circle cx="456.5" cy="322.6" r="3.15" stroke="#00afff"/>
<circle cx="406.6" cy="344.2" r="3.15" stroke="#ff7300"/>
<circle cx="379.7" cy="318.9" r="3.15" stroke="#00009e"/>
<circle cx="433.3" cy="305.9" r="3.15" stroke="#fff600"/>
<circle cx="374.5" cy="316.6" r="3.15" stroke="#f90000"/>
<circle cx="399.9" cy="371.1" r="3.15" stroke="#00f7ff"/>
<circle cx="398.3" cy="360.0" r="3.15" stroke="#ff2100"/>
<circle cx="398.5" cy="365.7" r="3.15" stroke="#f80000"/>
<circle cx="386.8" cy="325.5" r="3.15" stroke="#00beff"/>
<circle cx="426.3" cy="335.0" r="3.15" stroke="#000080"/>
<circle cx="409.0" cy="329.7" r="3.15" stroke="#37ffc8"/>
<circle cx="448.2" cy="356.4" r="3.15" stroke="#00a4ff"/>
<circle cx="399.1" cy="309.9" r="3.15" stroke="#ff6300"/>
<circle cx="409.0" cy="307.9" r="3.15" stroke="#f0ff0f"/>
<circle cx="409.0" cy="308.7" r="3.15" stroke="#000080"/>
<circle cx="429.9" cy="288.4" r="3.15" stroke="#d30000"/>
<circle cx="408.4" cy="300.7" r="3.15" stroke="#ff8d00"/>
<circle cx="395.1" cy="341.9" r="3.15" stroke="#ff1600"/>
<circle cx="430.6" cy="289.7" r="3.15" stroke="#ff2200"/>
<circle cx="417.7" cy="245.8" r="3.15" stroke="#ffb100"/>
<circle cx="407.4" cy="351.4" r="3.15" stroke="#0000e6"/>
<circle cx="394.9" cy="336.9" r="3.15" stroke="#ffb800"/>
<circle cx="435.7" cy="327.7" r="3.15" stroke="#ffe700"/>
<circle cx="438.4" cy="305.4" r="3.15" stroke="#810000"/>
<circle cx="448.3" cy="310.9" r="3.15" stroke="#ffc800"/>
<circle cx="380.2" cy="308.9" r="3.15" stroke="#00009e"/>
<circle cx="414.4" cy="365.4" r="3.15" stroke="#f80000"/>
<circle cx="458.2" cy="272.6" r="3.15" stroke="#ffd600"/>
<circle cx="404.9" cy="302.3" r="3.15" stroke="#ffbc00"/>
<circle cx="414.4" cy="273.2" r="3.15" stroke="#ff1d00"/>
<circle cx="385.0" cy="313.7" r="3.15" stroke="#002eff"/>
<circle cx="407.5" cy="348.9" r="3.15" stroke="#000080"/>
<circle cx="411.0" cy="320.7" r="3.15" stroke="#ff9e00"/>
<circle cx="434.7" cy="349.3" r="3.15" stroke="#ff8d00"/>
<circle cx="400.9" cy="293.3" r="3.15" stroke="#ff3400"/>
<circle cx="446.7" cy="333.1" r="3.15" stroke="#ff3100"/>
<circle cx="418.9" cy="333.1" r="3.15" stroke="#ff4300"/>
<circle cx="420.7" cy="293.3" r="3.15" stroke="#ff4800"/>
<circle cx="344.0" cy="396.2" r="3.15" stroke="#00ceff"/>
<circle cx="412.7" cy="268.4" r="3.15" stroke="#00009e"/>
<circle cx="395.5" cy="302.2" r="3.15" stroke="#002eff"/>
<circle cx="414.5" cy="288.7" r="3.15" stroke="#ecff13"/>
<circle cx="377.6" cy="342.1" r="3.15" stroke="#ffce00"/>
<circle cx="445.0" cy="295.0" r="3.15" stroke="#ffc100"/>
<circle cx="409.4" cy="375.4" r="3.15" stroke="#00009e"/>
<circle cx="435.1" cy="295.4" r="3.15" stroke="#ff1300"/>
<circle cx="408.6" cy="374.5" r="3.15" stroke="#ffcb00"/>
<circle cx="425.6" cy="328.5" r="3.15" stroke="#ff7e00"/>
<circle cx="419.0" cy="276.9" r="3.15" stroke="#ff3b00"/>
<circle cx="409.9" cy="343.1" r="3.15" stroke="#ff6a00"/>
<circle cx="406.0" cy="296.5" r="3.15" stroke="#ff3100"/>
<circle cx="385.8" cy="323.7" r="3.15" stroke="#ffe100"/>
<circle cx="410.1" cy="314.2" r="3.15" stroke="#38ffc7"/>
<circle cx="423.0" cy="367.7" r="3.15" stroke="#ff3e00"/>
<circle cx="393.0" cy="350.0" r="3.15" stroke="#ff8400"/>
<circle cx="421.7" cy="337.1" r="3.15" stroke="#ffae00"/>
<circle cx="407.8" cy="280.6" r="3.15" stroke="#ff2200"/>
<circle cx="443.5" cy="297.9" r="3.15" stroke="#ff6200"/>
<circle cx="370.9" cy="375.6" r="3.15" stroke="#08fff7"/>
<circle cx="379.6" cy="376.9" r="3.15" stroke="#00c7ff"/>
<circle cx="379.5" cy="285.4" r="3.15" stroke="#00f6ff"/>
<circle cx="416.8" cy="297.2" r="3.15" stroke="#dfff20"/>
<circle cx="426.7" cy="312.8" r="3.15" stroke="#ff0b00"/>
<circle cx="393.5" cy="359.6" r="3.15" stroke="#ff1000"/>
<circle cx="446.9" cy="300.5" r="3.15" stroke="#ff8400"/>
<circle cx="434.1" cy="334.8" r="3.15" stroke="#ff3900"/>
<circle cx="447.0" cy="293.9" r="3.15" stroke="#f30000"/>
<circle cx="414.2" cy="302.8" r="3.15" stroke="#ff6000"/>
<circle cx="439.5" cy="285.7" r="3.15" stroke="#32ffcd"/>
<circle cx="405.4" cy="302.1" r="3.15" stroke="#ffeb00"/>
<circle cx="424.6" cy="302.0" r="3.15" stroke="#ffca00"/>
<circle cx="430.3" cy="276.5" r="3.15" stroke="#fa0000"/>
<circle cx="392.4" cy="338.9" r="3.15" stroke="#ffe500"/>
<circle cx="404.4" cy="352.9" r="3.15" stroke="#f40000"/>
<circle cx="422.6" cy="359.3" r="3.15" stroke="#ffa500"/>
<circle cx="409.3" cy="320.8" r="3.15" stroke="#00ecff"/>
<circle cx="390.3" cy="331.1" r="3.15" stroke="#eb0000"/>
<circle cx="402.1" cy="277.1" r="3.15" stroke="#0000e6"/>
<circle cx="387.4" cy="368.1" r="3.15" stroke="#970000"/>
<circle cx="375.7" cy="320.1" r="3.15" stroke="#00b6ff"/>
<circle cx="412.5" cy="337.4" r="3.15" stroke="#000080"/>
<circle cx="415.0" cy="332.8" r="3.15" stroke="#ffce00"/>
<circle cx="421.6" cy="291.7" r="3.15" stroke="#fff500"/>
<circle cx="446.6" cy="312.2" r="3.15" stroke="#fd0000"/>
<circle cx="425.4" cy="271.1" r="3.15" stroke="#9d0000"/>
<circle cx="386.3" cy="322.9" r="3.15" stroke="#ffc000"/>
<circle cx="433.8" cy="314.1" r="3.15" stroke="#cdff32"/>
<circle cx="444.4" cy="280.1" r="3.15" stroke="#ffb000"/>
<circle cx="396.9" cy="336.1" r="3.15" stroke="#000080"/>
<circle cx="348.8" cy="345.9" r="3.15" stroke="#ff3b00"/>
<circle cx="432.2" cy="250.8" r="3.15" stroke="#e6ff19"/>
<circle cx="424.3" cy="359.1" r="3.15" stroke="#3affc5"/>
<circle cx="423.0" cy="329.6" r="3.15" stroke="#ffc000"/>
<circle cx="388.8" cy="354.9" r="3.15" stroke="#00e9ff"/>
<circle cx="434.3" cy="324.2" r="3.15" stroke="#ff6100"/>
<circle cx="402.6" cy="333.6" r="3.15" stroke="#ffcd00"/>
<circle cx="391.7" cy="328.2" r="3.15" stroke="#ff3100"/>
<circle cx="425.3" cy="354.3" r="3.15" stroke="#ffba00"/>
<circle cx="400.2" cy="289.9" r="3.15" stroke="#8eff71"/>
<circle cx="395.7" cy="318.6" r="3.15" stroke="#ffec00"/>
<circle cx="443.6" cy="279.9" r="3.15" stroke="#55ffaa"/>
<circle cx="386.2" cy="359.9" r="3.15" stroke="#ff5800"/>
<circle cx="395.4" cy="291.4" r="3.15" stroke="#00009e"/>
<circle cx="453.5" cy="269.5" r="3.15" stroke="#000080"/>
<circle cx="401.2" cy="338.6" r="3.15" stroke="#acff53"/>
<circle cx="426.4" cy="322.0" r="3.15" stroke="#002eff"/>
<circle cx="407.3" cy="328.4" r="3.15" stroke="#f60000"/>
<circle cx="395.7" cy="294.5" r="3.15" stroke="#ff5500"/>
<circle cx="379.1" cy="299.4" r="3.15" stroke="#ff1600"/>
<circle cx="402.1" cy="331.4" r="3.15" stroke="#ff5800"/>
<circle cx="396.2" cy="260.2" r="3.15" stroke="#0efff1"/>
<circle cx="386.5" cy="281.3" r="3.15" stroke="#df0000"/>
<circle cx="418.3" cy="359.0" r="3.15" stroke="#ffe600"/>
<circle cx="436.9" cy="275.3" r="3.15" stroke="#ffc900"/>
<circle cx="444.7" cy="306.4" r="3.15" stroke="#002eff"/>
<circle cx="425.6" cy="367.3" r="3.15" stroke="#ff0400"/>
<circle cx="405.6" cy="338.6" r="3.15" stroke="#00009e"/>
<circle cx="371.0" cy="353.9" r="3.15" stroke="#000080"/>
<circle cx="388.4" cy="318.1" r="3.15" stroke="#000080"/>
<circle cx="417.4" cy="310.1" r="3.15" stroke="#ff1a00"/>
<circle cx="381.6" cy="290.0" r="3.15" stroke="#ff3b00"/>
<circle cx="417.7" cy="325.5" r="3.15" stroke="#ffbf00"/>
<circle cx="410.3" cy="339.8" r="3.15" stroke="#ff3400"/>
<circle cx="431.1" cy="299.9" r="3.15" stroke="#58ffa7"/>
<circle cx="363.3" cy="354.0" r="3.15" stroke="#ff7600"/>
<circle cx="417.8" cy="344.0" r="3.15" stroke="#fffc00"/>
<circle cx="409.3" cy="292.0" r="3.15" stroke="#e90000"/>
<circle cx="413.3" cy="347.4" r="3.15" stroke="#ff5700"/>
<circle cx="452.0" cy="252.5" r="3.15" stroke="#ff3a00"/>
<circle cx="460.3" cy="327.0" r="3.15" stroke="#00c8ff"/>
<circle cx="408.1" cy="367.5" r="3.15" stroke="#acff53"/>
<circle cx="380.8" cy="332.0" r="3.15" stroke="#00eaff"/>
<circle cx="413.1" cy="262.8" r="3.15" stroke="#ff0200"/>
<circle cx="418.1" cy="280.3" r="3.15" stroke="#ff0100"/>
<circle cx="413.4" cy="327.6" r="3.15" stroke="#ffe800"/>
<circle cx="367.3" cy="412.8" r="3.15" stroke="#ff0c00"/>
<circle cx="426.5" cy="357.0" r="3.15" stroke="#dcff23"/>
<circle cx="371.2" cy="300.8" r="3.15" stroke="#002eff"/>
<circle cx="439.2" cy="355.9" r="3.15" stroke="#ff3900"/>
<circle cx="419.3" cy="332.3" r="3.15" stroke="#fffa00"/>
<circle cx="428.9" cy="366.4" r="3.15" stroke="#35ffca"/>
<circle cx="412.1" cy="269.4" r="3.15" stroke="#ff3e00"/>
<circle cx="409.6" cy="348.2" r="3.15" stroke="#ff9800"/>
<circle cx="363.3" cy="356.9" r="3.15" stroke="#0000e6"/>
<circle cx="381.2" cy="296.9" r="3.15" stroke="#000080"/>
<circle cx="400.8" cy="342.1" r="3.15" stroke="#ee0000"/>
<circle cx="423.9" cy="317.4" r="3.15" stroke="#ff6600"/>
<circle cx="401.1" cy="330.1" r="3.15" stroke="#ff4600"/>
<circle cx="445.9" cy="347.9" r="3.15" stroke="#3cffc3"/>
<circle cx="447.8" cy="333.6" r="3.15" stroke="#ffa600"/>
<circle cx="402.0" cy="303.8" r="3.15" stroke="#00009e"/>
<circle cx="351.5" cy="335.6" r="3.15" stroke="#ff8900"/>
<circle cx="380.1" cy="356.6" r="3.15" stroke="#00fcff"/>
<circle cx="439.4" cy="345.6" r="3.15" stroke="#ffc100"/>
<circle cx="399.1" cy="379.5" r="3.15" stroke="#840000"/>
<circle cx="403.4" cy="331.0" r="3.15" stroke="#ffc000"/>
<circle cx="391.1" cy="384.4" r="3.15" stroke="#ff4c00"/>
<circle cx="385.2" cy="344.1" r="3.15" stroke="#ffec00"/>
<circle cx="423.9" cy="342.1" r="3.15" stroke="#ff5b00"/>
<circle cx="409.4" cy="315.3" r="3.15" stroke="#0000e6"/>
<circle cx="407.2" cy="307.6" r="3.15" stroke="#ffa400"/>
<circle cx="396.9" cy="339.9" r="3.15" stroke="#ffb900"/>
<circle cx="456.8" cy="296.4" r="3.15" stroke="#ff6100"/>
<circle cx="411.1" cy="286.9" r="3.15" stroke="#0000e6"/>
<circle cx="402.0" cy="315.7" r="3.15" stroke="#ffc500"/>
<circle cx="445.0" cy="337.5" r="3.15" stroke="#fff700"/>
<circle cx="429.4" cy="351.1" r="3.15" stroke="#ff5200"/>
<circle cx="399.0" cy="318.1" r="3.15" stroke="#a90000"/>
<circle cx="434.4" cy="259.5" r="3.15" stroke="#ff1d00"/>
<circle cx="402.2" cy="315.9" r="3.15" stroke="#ffd900"/>
<circle cx="436.5" cy="311.6" r="3.15" stroke="#fe0000"/>
<circle cx="416.6" cy="300.9" r="3.15" stroke="#ff0200"/>
<circle cx="454.9" cy="360.7" r="3.15" stroke="#ffb600"/>
<circle cx="412.1" cy="267.5" r="3.15" stroke="#ffb600"/>
<circle cx="417.0" cy="279.6" r="3.15" stroke="#ff2200"/>
<circle cx="414.7" cy="307.2" r="3.15" stroke="#f6ff09"/>
<circle cx="425.1" cy="298.9" r="3.15" stroke="#ff8a00"/>
<circle cx="418.1" cy="349.2" r="3.15" stroke="#ffbc00"/>
<circle cx="374.3" cy="328.5" r="3.15" stroke="#0000e6"/>
<circle cx="405.6" cy="300.0" r="3.15" stroke="#ff3b00"/>
<circle cx="424.1" cy="327.7" r="3.15" stroke="#ffc600"/>
<circle cx="422.4" cy="293.5" r="3.15" stroke="#00d1ff"/>
<circle cx="415.0" cy="278.3" r="3.15" stroke="#000080"/>
<circle cx="405.1" cy="302.5" r="3.15" stroke="#000080"/>
<circle cx="395.9" cy="375.9" r="3.15" stroke="#ff1000"/>
<circle cx="454.8" cy="286.4" r="3.15" stroke="#dcff23"/>
<circle cx="408.7" cy="315.7" r="3.15" stroke="#000080"/>
<circle cx="374.7" cy="382.7" r="3.15" stroke="#ffe700"/>
<circle cx="424.4" cy="307.4" r="3.15" stroke="#ff1a00"/>
<circle cx="417.7" cy="351.2" r="3.15" stroke="#ffb200"/>
<circle cx="438.5" cy="277.8" r="3.15" stroke="#ff7400"/>
<circle cx="395.7" cy="296.2" r="3.15" stroke="#ff2800"/>
<circle cx="408.8" cy="312.6" r="3.15" stroke="#ffd300"/>
<circle cx="427.2" cy="306.6" r="3.15" stroke="#ffcb00"/>
<circle cx="397.5" cy="332.2" r="3.15" stroke="#ffae00"/>
<circle cx="372.3" cy="311.3" r="3.15" stroke="#f9ff06"/>
<circle cx="413.9" cy="306.8" r="3.15" stroke="#ff7e00"/>
<circle cx="422.1" cy="256.9" r="3.15" stroke="#a6ff59"/>
<circle cx="411.6" cy="308.9" r="3.15" stroke="#000080"/>
<circle cx="401.9" cy="264.2" r="3.15" stroke="#fb0000"/>
<circle cx="376.9" cy="381.5" r="3.15" stroke="#ffea00"/>
<circle cx="437.7" cy="277.4" r="3.15" stroke="#bdff42"/>
<circle cx="404.4" cy="358.5" r="3.15" stroke="#ff1400"/>
<circle cx="446.3" cy="256.0" r="3.15" stroke="#000080"/>
<circle cx="390.3" cy="344.1" r="3.15" stroke="#77ff88"/>
<circle cx="402.1" cy="305.9" r="3.15" stroke="#ff8900"/>
<circle cx="402.4" cy="343.8" r="3.15" stroke="#ff8200"/>
<circle cx="443.8" cy="365.4" r="3.15" stroke="#ff9100"/>
<circle cx="442.0" cy="370.6" r="3.15" stroke="#ffeb00"/>
<circle cx="381.6" cy="373.1" r="3.15" stroke="#55ffaa"/>
<circle cx="459.7" cy="306.7" r="3.15" stroke="#0afff5"/>
<circle cx="419.6" cy="313.0" r="3.15" stroke="#ffd300"/>
<circle cx="420.6" cy="285.3" r="3.15" stroke="#000080"/>
<circle cx="396.0" cy="308.2" r="3.15" stroke="#f20000"/>
<circle cx="405.1" cy="270.6" r="3.15" stroke="#f40000"/>
<circle cx="439.1" cy="335.2" r="3.15" stroke="#0cfff3"/>
<circle cx="420.1" cy="313.1" r="3.15" stroke="#0000e6"/>
<circle cx="379.7" cy="366.6" r="3.15" stroke="#ff2100"/>
<circle cx="382.0" cy="331.9" r="3.15" stroke="#000080"/>
<circle cx="419.8" cy="324.7" r="3.15" stroke="#0000e6"/>
<circle cx="424.9" cy="255.0" r="3.15" stroke="#ff3300"/>
<circle cx="403.8" cy="293.7" r="3.15" stroke="#6bff94"/>
<circle cx="430.3" cy="285.9" r="3.15" stroke="#f70000"/>
<circle cx="430.2" cy="346.3" r="3.15" stroke="#ff3c00"/>
<circle cx="397.6" cy="254.8" r="3.15" stroke="#ff5900"/>
<circle cx="401.7" cy="327.3" r="3.15" stroke="#c50000"/>
<circle cx="416.7" cy="348.6" r="3.15" stroke="#ff8a00"/>
<circle cx="428.2" cy="356.3" r="3.15" stroke="#ff5900"/>
<circle cx="434.6" cy="267.7" r="3.15" stroke="#fff900"/>
<circle cx="406.1" cy="303.7" r="3.15" stroke="#ff4c00"/>
<circle cx="445.8" cy="318.2" r="3.15" stroke="#0000e6"/>
<circle cx="439.7" cy="274.6" r="3.15" stroke="#b6ff49"/>
<circle cx="405.4" cy="324.9" r="3.15" stroke="#ff5700"/>
<circle cx="427.7" cy="294.2" r="3.15" stroke="#ffc100"/>
<circle cx="421.9" cy="277.0" r="3.15" stroke="#7fff80"/>
<circle cx="419.8" cy="339.1" r="3.15" stroke="#ffe300"/>
<circle cx="431.1" cy="374.5" r="3.15" stroke="#8f0000"/>
<circle cx="386.6" cy="351.1" r="3.15" stroke="#ff9300"/>
<circle cx="414.2" cy="311.5" r="3.15" stroke="#a20000"/>
<circle cx="439.5" cy="355.9" r="3.15" stroke="#fa0000"/>
<circle cx="385.6" cy="368.4" r="3.15" stroke="#54ffab"/>
<circle cx="424.8" cy="301.5" r="3.15" stroke="#ffaf00"/>
<circle cx="407.0" cy="251.0" r="3.15" stroke="#96ff69"/>
<circle cx="363.1" cy="353.2" r="3.15" stroke="#6aff95"/>
<circle cx="418.2" cy="275.2" r="3.15" stroke="#ff2500"/>
<circle cx="370.4" cy="369.4" r="3.15" stroke="#ffee00"/>
<circle cx="431.5" cy="264.5" r="3.15" stroke="#7fff80"/>
<circle cx="401.4" cy="289.8" r="3.15" stroke="#ffda00"/>
<circle cx="422.6" cy="315.8" r="3.15" stroke="#ff0f00"/>
<circle cx="433.6" cy="334.3" r="3.15" stroke="#00dbff"/>
<circle cx="435.1" cy="311.8" r="3.15" stroke="#f20000"/>
<circle cx="378.3" cy="341.3" r="3.15" stroke="#ff2f00"/>
<circle cx="387.3" cy="344.0" r="3.15" stroke="#f7ff08"/>
<circle cx="393.6" cy="323.4" r="3.15" stroke="#ff6800"/>
<circle cx="440.8" cy="378.0" r="3.15" stroke="#002eff"/>
<circle cx="412.3" cy="252.4" r="3.15" stroke="#ff7b00"/>
<circle cx="389.5" cy="293.7" r="3.15" stroke="#0000e6"/>
<circle cx="410.4" cy="306.3" r="3.15" stroke="#7fff80"/>
<circle cx="389.4" cy="335.1" r="3.15" stroke="#ff3a00"/>
<circle cx="409.9" cy="345.8" r="3.15" stroke="#00b3ff"/>
<circle cx="402.6" cy="356.9" r="3.15" stroke="#ff9900"/>
<circle cx="386.0" cy="367.8" r="3.15" stroke="#f6ff09"/>
<circle cx="415.5" cy="303.7" r="3.15" stroke="#ff8200"/>
<circle cx="383.7" cy="321.1" r="3.15" stroke="#b0ff4f"/>
<circle cx="393.9" cy="321.6" r="3.15" stroke="#ff5500"/>
<circle cx="430.0" cy="348.3" r="3.15" stroke="#00e0ff"/>
<circle cx="395.8" cy="288.9" r="3.15" stroke="#ffb600"/>
<circle cx="442.5" cy="349.3" r="3.15" stroke="#000080"/>
<circle cx="397.0" cy="311.3" r="3.15" stroke="#f2ff0d"/>
<circle cx="402.7" cy="330.7" r="3.15" stroke="#8cff73"/>
<circle cx="384.0" cy="368.4" r="3.15" stroke="#ff5800"/>
<circle cx="422.1" cy="328.4" r="3.15" stroke="#ffcd00"/>
<circle cx="426.3" cy="356.1" r="3.15" stroke="#ff3b00"/>
<circle cx="415.7" cy="307.0" r="3.15" stroke="#00c3ff"/>
<circle cx="400.3" cy="350.0" r="3.15" stroke="#000080"/>
<circle cx="386.9" cy="356.7" r="3.15" stroke="#0000e6"/>
<circle cx="404.1" cy="319.7" r="3.15" stroke="#00009e"/>
<circle cx="430.6" cy="359.2" r="3.15" stroke="#fffe00"/>
<circle cx="398.4" cy="387.4" r="3.15" stroke="#ffd500"/>
<circle cx="449.5" cy="279.6" r="3.15" stroke="#ff8800"/>
<circle cx="457.2" cy="325.0" r="3.15" stroke="#ff1a00"/>
<circle cx="405.4" cy="371.3" r="3.15" stroke="#73ff8c"/>
<circle cx="413.8" cy="284.7" r="3.15" stroke="#66ff99"/>
<circle cx="416.1" cy="323.5" r="3.15" stroke="#ff3600"/>
<circle cx="415.9" cy="375.8" r="3.15" stroke="#f90000"/>
<circle cx="404.0" cy="361.0" r="3.15" stroke="#ffb800"/>
<circle cx="431.5" cy="302.6" r="3.15" stroke="#ff0600"/>
<circle cx="421.9" cy="338.9" r="3.15" stroke="#000080"/>
<circle cx="436.8" cy="286.7" r="3.15" stroke="#ffa200"/>
<circle cx="430.3" cy="308.2" r="3.15" stroke="#d0ff2f"/>
<circle cx="383.4" cy="307.4" r="3.15" stroke="#00009e"/>
<circle cx="401.8" cy="305.0" r="3.15" stroke="#ff4900"/>
<circle cx="406.1" cy="282.6" r="3.15" stroke="#000080"/>
<circle cx="420.1" cy="345.0" r="3.15" stroke="#0000e6"/>
<circle cx="392.6" cy="267.8" r="3.15" stroke="#00eaff"/>
<circle cx="394.1" cy="326.9" r="3.15" stroke="#ffb700"/>
<circle cx="395.1" cy="350.6" r="3.15" stroke="#ffe200"/>
<circle cx="420.7" cy="362.8" r="3.15" stroke="#ff9000"/>
<circle cx="404.1" cy="309.6" r="3.15" stroke="#ffb600"/>
<circle cx="444.8" cy="299.2" r="3.15" stroke="#ff8700"/>
<circle cx="432.0" cy="301.1" r="3.15" stroke="#ff2000"/>
<circle cx="426.8" cy="299.5" r="3.15" stroke="#ffc700"/>
<circle cx="372.2" cy="300.0" r="3.15" stroke="#60ff9f"/>
<circle cx="402.0" cy="359.4" r="3.15" stroke="#3fffc0"/>
<circle cx="413.9" cy="343.0" r="3.15" stroke="#ffc900"/>
<circle cx="425.2" cy="306.6" r="3.15" stroke="#00009e"/>
<circle cx="193.7" cy="212.4" r="3.15" stroke="#000080"/>
<circle cx="416.1" cy="208.6" r="3.15" stroke="#000fff"/>
<circle cx="363.6" cy="215.0" r="3.15" stroke="#05fffa"/>
<circle cx="439.8" cy="226.2" r="3.15" stroke="#80ff80"/>
<circle cx="441.3" cy="223.5" r="3.15" stroke="#80ff80"/>
<circle cx="371.0" cy="236.1" r="3.15" stroke="#000080"/>
<circle cx="358.3" cy="241.1" r="3.15" stroke="#05fffa"/>
<circle cx="392.9" cy="246.4" r="3.15" stroke="#000080"/>
<circle cx="318.2" cy="260.5" r="3.15" stroke="#000080"/>
<circle cx="290.1" cy="281.8" r="3.15" stroke="#000080"/>
<circle cx="356.6" cy="287.1" r="3.15" stroke="#000080"/>
<circle cx="342.5" cy="321.7" r="3.15" stroke="#000080"/>
<circle cx="307.7" cy="377.9" r="3.15" stroke="#00b2ff"/>
<circle cx="330.5" cy="430.4" r="3.15" stroke="#000080"/>
<circle cx="310.6" cy="441.8" r="3.15" stroke="#ff4c00"/>
<circle cx="341.1" cy="417.2" r="3.15" stroke="#ff4c00"/>
<circle cx="342.8" cy="410.8" r="3.15" stroke="#800000"/>
<circle cx="363.3" cy="396.7" r="3.15" stroke="#800000"/>
<circle cx="436.6" cy="388.2" r="3.15" stroke="#fa0000"/>
<circle cx="426.9" cy="237.6" r="3.15" stroke="#fa0000"/>
<circle cx="436.3" cy="241.0" r="3.15" stroke="#05fffa"/>
<circle cx="448.3" cy="248.5" r="3.15" stroke="#fa0000"/>
<circle cx="367.3" cy="290.5" r="3.15" stroke="#000080"/>
<circle cx="355.3" cy="343.0" r="3.15" stroke="#000080"/>
<circle cx="359.3" cy="353.0" r="3.15" stroke="#000080"/>
<circle cx="361.3" cy="343.0" r="3.15" stroke="#ff4c00"/>
<circle cx="352.3" cy="332.5" r="3.15" stroke="#ff4c00"/>
<circle cx="361.8" cy="319.0" r="3.15" stroke="#05fffa"/>
<circle cx="353.8" cy="405.6" r="3.15" stroke="#80ff80"/>
<circle cx="372.3" cy="408.5" r="3.15" stroke="#ff4c00"/>
<circle cx="378.8" cy="411.7" r="3.15" stroke="#ff9e00"/>
<circle cx="385.3" cy="392.0" r="3.15" stroke="#05fffa"/>
<circle cx="382.3" cy="383.5" r="3.15" stroke="#00b2ff"/>
<circle cx="398.3" cy="402.6" r="3.15" stroke="#fffa00"/>
<circle cx="472.8" cy="293.6" r="3.15" stroke="#05fffa"/>
<circle cx="470.3" cy="327.0" r="3.15" stroke="#ff4c00"/>
<circle cx="386.3" cy="253.5" r="3.15" stroke="#ff9e00"/>
<circle cx="384.1" cy="258.0" r="3.15" stroke="#000080"/>
<circle cx="384.3" cy="262.0" r="3.15" stroke="#fffa00"/>
</g>
<path class="ds" d="M71.3 287.8H516.2"/>
<path class="ds" d="M182.3 468.2V61.4"/>
<ellipse cx="355.3" cy="299.1" rx="130.2" ry="81.6" transform="rotate(-164.4 355.3 299.1)" fill="none" stroke="#0000ff" stroke-width="1.7"/>
<ellipse cx="405.0" cy="332.4" rx="89.1" ry="43.5" transform="rotate(124.4 405.0 332.4)" fill="none" stroke="#ff0000" stroke-width="1.7"/>
<ellipse cx="420.5" cy="311.9" rx="67.7" ry="41.9" transform="rotate(95.1 420.5 311.9)" fill="none" stroke="#000" stroke-width="3.35"/>
<circle cx="181.5" cy="287.7" r="7.4" fill="#ff0000"/>
<path class="ax" d="M71.3 61.4V468.2H516.2M126.7 468.2v-4M182.3 468.2v-4M237.9 468.2v-4M293.5 468.2v-4M349.1 468.2v-4M404.7 468.2v-4M460.3 468.2v-4M515.9 468.2v-4M71.3 423.0h4M71.3 377.8h4M71.3 332.6h4M71.3 287.4h4M71.3 242.2h4M71.3 197.0h4M71.3 151.8h4M71.3 106.6h4M71.3 61.4h4"/>
<g class="t" text-anchor="middle">
<text x="69.6" y="494.6">-1</text>
<text x="125.2" y="494.6">-0.5</text>
<text x="182.3" y="494.6">0</text>
<text x="237.9" y="494.6">0.5</text>
<text x="293.5" y="494.6">1</text>
<text x="349.1" y="494.6">1.5</text>
<text x="404.7" y="494.6">2</text>
<text x="460.3" y="494.6">2.5</text>
<text x="515.9" y="494.6">3</text>
</g><g class="t" text-anchor="end">
<text x="63.6" y="476.0">-2</text>
<text x="63.6" y="430.8">-1.5</text>
<text x="63.6" y="385.6">-1</text>
<text x="63.6" y="340.4">-0.5</text>
<text x="63.6" y="295.2">0</text>
<text x="63.6" y="250.0">0.5</text>
<text x="63.6" y="204.8">1</text>
<text x="63.6" y="159.6">1.5</text>
<text x="63.6" y="114.4">2</text>
<text x="63.6" y="69.2">2.5</text>
</g>
<text class="l" text-anchor="middle" x="294.4" y="520">Mediolateral</text>
<text class="l" text-anchor="middle" transform="translate(23.4 265.6) rotate(-90)">Vertical</text>
<text class="t k" letter-spacing=".24" text-anchor="end" transform="translate(100.8 66.2) rotate(-90)">Above</text>
<text class="t k" text-anchor="end" x="512.9" y="458.7">Lateral</text>
<text class="b" text-anchor="middle" x="294.2" y="51.8">CORONAL PLANE</text>
<rect x="543.5" y="61.4" width="26.8" height="407.2" fill="url(#jet)" stroke="#1a1a1a" stroke-width="1"/>
<g class="c">
<text x="577" y="475.5">0</text>
<text x="577" y="434.8">1</text>
<text x="577" y="394.1">2</text>
<text x="577" y="353.3">3</text>
<text x="577" y="312.6">4</text>
<text x="577" y="271.9">5</text>
<text x="577" y="231.2">6</text>
<text x="577" y="190.5">7</text>
<text x="577" y="149.7">8</text>
<text x="577" y="109.0">9</text>
<text x="577" y="68.3">10</text>
</g>
<path d="M570.3 427.9h-3.5M570.3 387.2h-3.5M570.3 346.4h-3.5M570.3 305.7h-3.5M570.3 265.0h-3.5M570.3 224.3h-3.5M570.3 183.6h-3.5M570.3 142.8h-3.5M570.3 102.1h-3.5" stroke="#1a1a1a" stroke-width="1" fill="none"/>
</g>
<g transform="translate(0 568.2)">
<g class="m">
<circle cx="298.0" cy="214.8" r="3.15" stroke="#ff1100"/>
<circle cx="310.1" cy="189.2" r="3.15" stroke="#fff900"/>
<circle cx="336.3" cy="210.2" r="3.15" stroke="#ff9e00"/>
<circle cx="330.1" cy="244.6" r="3.15" stroke="#ff8e00"/>
<circle cx="348.7" cy="234.0" r="3.15" stroke="#ff2f00"/>
<circle cx="329.6" cy="192.1" r="3.15" stroke="#ff6500"/>
<circle cx="320.4" cy="193.7" r="3.15" stroke="#980000"/>
<circle cx="373.1" cy="199.7" r="3.15" stroke="#ffea00"/>
<circle cx="339.8" cy="240.4" r="3.15" stroke="#ff5300"/>
<circle cx="374.7" cy="233.6" r="3.15" stroke="#fffe00"/>
<circle cx="358.0" cy="222.3" r="3.15" stroke="#34ffcb"/>
<circle cx="366.4" cy="218.9" r="3.15" stroke="#960000"/>
<circle cx="399.2" cy="248.9" r="3.15" stroke="#000080"/>
<circle cx="340.2" cy="214.2" r="3.15" stroke="#ff2b00"/>
<circle cx="414.5" cy="243.9" r="3.15" stroke="#f70000"/>
<circle cx="338.4" cy="227.0" r="3.15" stroke="#00acff"/>
<circle cx="352.5" cy="231.6" r="3.15" stroke="#ff2a00"/>
<circle cx="349.3" cy="227.8" r="3.15" stroke="#000080"/>
<circle cx="323.1" cy="187.5" r="3.15" stroke="#e60000"/>
<circle cx="377.5" cy="290.9" r="3.15" stroke="#ffee00"/>
<circle cx="370.4" cy="238.7" r="3.15" stroke="#ff5900"/>
<circle cx="346.4" cy="212.7" r="3.15" stroke="#000080"/>
<circle cx="326.2" cy="226.4" r="3.15" stroke="#a30000"/>
<circle cx="408.0" cy="257.3" r="3.15" stroke="#67ff98"/>
<circle cx="366.9" cy="196.0" r="3.15" stroke="#ff8c00"/>
<circle cx="365.8" cy="250.6" r="3.15" stroke="#ff1100"/>
<circle cx="347.0" cy="223.7" r="3.15" stroke="#ff2f00"/>
<circle cx="345.6" cy="224.7" r="3.15" stroke="#ff3800"/>
<circle cx="313.1" cy="169.4" r="3.15" stroke="#00f0ff"/>
<circle cx="356.2" cy="220.9" r="3.15" stroke="#930000"/>
<circle cx="343.8" cy="224.8" r="3.15" stroke="#e40000"/>
<circle cx="346.6" cy="220.7" r="3.15" stroke="#f70000"/>
<circle cx="339.4" cy="219.5" r="3.15" stroke="#000080"/>
<circle cx="350.0" cy="189.1" r="3.15" stroke="#ff3e00"/>
<circle cx="310.2" cy="219.7" r="3.15" stroke="#ff3300"/>
<circle cx="347.4" cy="210.3" r="3.15" stroke="#ff7000"/>
<circle cx="336.6" cy="184.2" r="3.15" stroke="#ffa000"/>
<circle cx="335.7" cy="221.2" r="3.15" stroke="#002eff"/>
<circle cx="334.0" cy="194.6" r="3.15" stroke="#ff5900"/>
<circle cx="356.9" cy="202.1" r="3.15" stroke="#ff6e00"/>
<circle cx="371.8" cy="235.3" r="3.15" stroke="#d1ff2e"/>
<circle cx="414.6" cy="298.4" r="3.15" stroke="#48ffb7"/>
<circle cx="356.0" cy="208.5" r="3.15" stroke="#bb0000"/>
<circle cx="377.2" cy="255.7" r="3.15" stroke="#cf0000"/>
<circle cx="386.9" cy="228.9" r="3.15" stroke="#ffdd00"/>
<circle cx="365.9" cy="224.9" r="3.15" stroke="#ff0d00"/>
<circle cx="329.1" cy="212.2" r="3.15" stroke="#000080"/>
<circle cx="409.9" cy="235.7" r="3.15" stroke="#ef0000"/>
<circle cx="370.1" cy="251.8" r="3.15" stroke="#ff1d00"/>
<circle cx="362.5" cy="216.3" r="3.15" stroke="#d00000"/>
<circle cx="387.7" cy="231.7" r="3.15" stroke="#fff800"/>
<circle cx="350.4" cy="220.7" r="3.15" stroke="#ff8f00"/>
<circle cx="347.9" cy="233.5" r="3.15" stroke="#ff7100"/>
<circle cx="319.2" cy="234.6" r="3.15" stroke="#ff5300"/>
<circle cx="312.4" cy="207.4" r="3.15" stroke="#99ff66"/>
<circle cx="360.3" cy="251.2" r="3.15" stroke="#fbff04"/>
<circle cx="391.7" cy="246.3" r="3.15" stroke="#47ffb8"/>
<circle cx="366.4" cy="238.4" r="3.15" stroke="#d90000"/>
<circle cx="386.1" cy="221.0" r="3.15" stroke="#ff0500"/>
<circle cx="418.3" cy="263.9" r="3.15" stroke="#000080"/>
<circle cx="329.4" cy="228.5" r="3.15" stroke="#ff3a00"/>
<circle cx="317.8" cy="190.4" r="3.15" stroke="#ffe400"/>
<circle cx="329.4" cy="223.0" r="3.15" stroke="#ff6a00"/>
<circle cx="360.4" cy="234.6" r="3.15" stroke="#f10000"/>
<circle cx="385.7" cy="245.2" r="3.15" stroke="#ab0000"/>
<circle cx="416.6" cy="247.8" r="3.15" stroke="#ff1e00"/>
<circle cx="323.8" cy="203.6" r="3.15" stroke="#00009e"/>
<circle cx="324.4" cy="220.0" r="3.15" stroke="#9b0000"/>
<circle cx="383.4" cy="228.2" r="3.15" stroke="#ff1f00"/>
<circle cx="338.8" cy="200.8" r="3.15" stroke="#25ffda"/>
<circle cx="312.1" cy="209.7" r="3.15" stroke="#5fffa0"/>
<circle cx="369.7" cy="248.8" r="3.15" stroke="#ffef00"/>
<circle cx="352.6" cy="215.8" r="3.15" stroke="#00009e"/>
<circle cx="364.6" cy="223.6" r="3.15" stroke="#ffd000"/>
<circle cx="318.9" cy="227.8" r="3.15" stroke="#ff1700"/>
<circle cx="354.2" cy="218.8" r="3.15" stroke="#80ff7f"/>
<circle cx="341.2" cy="239.8" r="3.15" stroke="#00f0ff"/>
<circle cx="398.2" cy="242.2" r="3.15" stroke="#e80000"/>
<circle cx="345.6" cy="230.9" r="3.15" stroke="#dc0000"/>
<circle cx="373.2" cy="210.9" r="3.15" stroke="#ff9200"/>
<circle cx="337.6" cy="220.1" r="3.15" stroke="#e3ff1c"/>
<circle cx="378.9" cy="241.8" r="3.15" stroke="#9a0000"/>
<circle cx="349.3" cy="225.5" r="3.15" stroke="#16ffe9"/>
<circle cx="373.3" cy="249.4" r="3.15" stroke="#dcff23"/>
<circle cx="386.1" cy="247.2" r="3.15" stroke="#ff6300"/>
<circle cx="318.6" cy="205.2" r="3.15" stroke="#aa0000"/>
<circle cx="355.5" cy="218.6" r="3.15" stroke="#9a0000"/>
<circle cx="361.4" cy="220.5" r="3.15" stroke="#ff2900"/>
<circle cx="355.2" cy="216.6" r="3.15" stroke="#ffcd00"/>
<circle cx="320.1" cy="201.8" r="3.15" stroke="#9f0000"/>
<circle cx="340.5" cy="194.3" r="3.15" stroke="#ac0000"/>
<circle cx="388.4" cy="250.6" r="3.15" stroke="#ff8000"/>
<circle cx="374.3" cy="213.8" r="3.15" stroke="#ff5900"/>
<circle cx="387.1" cy="214.8" r="3.15" stroke="#ff7800"/>
<circle cx="369.5" cy="238.2" r="3.15" stroke="#ff4600"/>
<circle cx="366.0" cy="227.5" r="3.15" stroke="#ffdc00"/>
<circle cx="349.4" cy="232.6" r="3.15" stroke="#fff500"/>
<circle cx="330.5" cy="238.0" r="3.15" stroke="#ff4700"/>
<circle cx="333.1" cy="231.9" r="3.15" stroke="#00009e"/>
<circle cx="349.8" cy="204.0" r="3.15" stroke="#d90000"/>
<circle cx="341.3" cy="226.1" r="3.15" stroke="#ff7200"/>
<circle cx="382.4" cy="255.9" r="3.15" stroke="#b40000"/>
<circle cx="344.7" cy="243.9" r="3.15" stroke="#be0000"/>
<circle cx="356.7" cy="211.4" r="3.15" stroke="#950000"/>
<circle cx="364.4" cy="215.6" r="3.15" stroke="#ff2800"/>
<circle cx="382.9" cy="229.2" r="3.15" stroke="#ff9000"/>
<circle cx="319.4" cy="197.9" r="3.15" stroke="#a90000"/>
<circle cx="354.1" cy="249.0" r="3.15" stroke="#ff0900"/>
<circle cx="316.4" cy="189.9" r="3.15" stroke="#ff7200"/>
<circle cx="366.0" cy="245.3" r="3.15" stroke="#ff6b00"/>
<circle cx="368.0" cy="240.7" r="3.15" stroke="#9dff62"/>
<circle cx="345.8" cy="234.6" r="3.15" stroke="#79ff86"/>
<circle cx="335.6" cy="230.9" r="3.15" stroke="#002eff"/>
<circle cx="359.0" cy="214.3" r="3.15" stroke="#ff5c00"/>
<circle cx="342.5" cy="220.7" r="3.15" stroke="#c3ff3c"/>
<circle cx="364.3" cy="236.1" r="3.15" stroke="#000080"/>
<circle cx="368.5" cy="241.1" r="3.15" stroke="#ff0600"/>
<circle cx="341.9" cy="225.3" r="3.15" stroke="#000080"/>
<circle cx="407.2" cy="243.2" r="3.15" stroke="#ff0400"/>
<circle cx="352.0" cy="234.9" r="3.15" stroke="#b70000"/>
<circle cx="344.7" cy="213.9" r="3.15" stroke="#ffd600"/>
<circle cx="358.9" cy="264.2" r="3.15" stroke="#000080"/>
<circle cx="367.4" cy="217.1" r="3.15" stroke="#0dfff2"/>
<circle cx="387.7" cy="263.7" r="3.15" stroke="#ffea00"/>
<circle cx="348.5" cy="224.9" r="3.15" stroke="#e4ff1b"/>
<circle cx="410.0" cy="246.9" r="3.15" stroke="#ff1e00"/>
<circle cx="370.2" cy="237.9" r="3.15" stroke="#da0000"/>
<circle cx="341.5" cy="230.1" r="3.15" stroke="#00009e"/>
<circle cx="368.8" cy="258.9" r="3.15" stroke="#ff6b00"/>
<circle cx="398.4" cy="248.5" r="3.15" stroke="#000080"/>
<circle cx="363.3" cy="236.8" r="3.15" stroke="#a40000"/>
<circle cx="367.7" cy="221.3" r="3.15" stroke="#71ff8e"/>
<circle cx="324.8" cy="214.3" r="3.15" stroke="#ff4200"/>
<circle cx="345.3" cy="201.5" r="3.15" stroke="#ff1a00"/>
<circle cx="354.5" cy="222.4" r="3.15" stroke="#00c6ff"/>
<circle cx="328.4" cy="210.7" r="3.15" stroke="#ffea00"/>
<circle cx="336.5" cy="220.4" r="3.15" stroke="#e8ff17"/>
<circle cx="337.6" cy="216.6" r="3.15" stroke="#fff000"/>
<circle cx="358.0" cy="204.4" r="3.15" stroke="#ff4700"/>
<circle cx="320.4" cy="214.2" r="3.15" stroke="#ddff22"/>
<circle cx="364.8" cy="232.0" r="3.15" stroke="#ff1700"/>
<circle cx="367.3" cy="210.0" r="3.15" stroke="#d80000"/>
<circle cx="344.0" cy="232.0" r="3.15" stroke="#00009e"/>
<circle cx="352.0" cy="221.8" r="3.15" stroke="#c70000"/>
<circle cx="390.9" cy="258.0" r="3.15" stroke="#ffd200"/>
<circle cx="340.8" cy="210.9" r="3.15" stroke="#05fffa"/>
<circle cx="380.6" cy="240.1" r="3.15" stroke="#00dfff"/>
<circle cx="332.1" cy="219.9" r="3.15" stroke="#ffc200"/>
<circle cx="393.6" cy="242.0" r="3.15" stroke="#ff4000"/>
<circle cx="400.9" cy="244.7" r="3.15" stroke="#bbff44"/>
<circle cx="317.0" cy="232.4" r="3.15" stroke="#f30000"/>
<circle cx="366.5" cy="227.7" r="3.15" stroke="#ffa600"/>
<circle cx="400.3" cy="263.0" r="3.15" stroke="#ff3200"/>
<circle cx="376.2" cy="237.1" r="3.15" stroke="#ff5f00"/>
<circle cx="396.6" cy="245.9" r="3.15" stroke="#ff3600"/>
<circle cx="360.0" cy="240.7" r="3.15" stroke="#ff8400"/>
<circle cx="323.6" cy="222.7" r="3.15" stroke="#e5ff1a"/>
<circle cx="346.9" cy="214.4" r="3.15" stroke="#ffd600"/>
<circle cx="360.4" cy="216.0" r="3.15" stroke="#f3ff0c"/>
<circle cx="320.6" cy="191.3" r="3.15" stroke="#0000e6"/>
<circle cx="296.3" cy="205.6" r="3.15" stroke="#fb0000"/>
<circle cx="423.8" cy="298.6" r="3.15" stroke="#ff9300"/>
<circle cx="332.7" cy="190.8" r="3.15" stroke="#8dff72"/>
<circle cx="390.0" cy="246.7" r="3.15" stroke="#9e0000"/>
<circle cx="336.9" cy="208.4" r="3.15" stroke="#ff8900"/>
<circle cx="355.0" cy="253.6" r="3.15" stroke="#f10000"/>
<circle cx="338.0" cy="245.9" r="3.15" stroke="#ff8400"/>
<circle cx="346.5" cy="223.0" r="3.15" stroke="#ef0000"/>
<circle cx="349.6" cy="221.9" r="3.15" stroke="#ff4500"/>
<circle cx="358.6" cy="242.4" r="3.15" stroke="#ff8200"/>
<circle cx="352.0" cy="246.9" r="3.15" stroke="#ff8600"/>
<circle cx="373.1" cy="226.2" r="3.15" stroke="#00009e"/>
<circle cx="381.1" cy="240.1" r="3.15" stroke="#d70000"/>
<circle cx="340.4" cy="205.2" r="3.15" stroke="#ff2e00"/>
<circle cx="384.5" cy="226.9" r="3.15" stroke="#00b4ff"/>
<circle cx="417.6" cy="301.0" r="3.15" stroke="#ff9f00"/>
<circle cx="320.1" cy="210.7" r="3.15" stroke="#ff9900"/>
<circle cx="332.8" cy="235.0" r="3.15" stroke="#ff1400"/>
<circle cx="354.6" cy="217.0" r="3.15" stroke="#f20000"/>
<circle cx="333.5" cy="223.1" r="3.15" stroke="#e0ff1f"/>
<circle cx="366.5" cy="213.8" r="3.15" stroke="#e60000"/>
<circle cx="373.0" cy="207.7" r="3.15" stroke="#002eff"/>
<circle cx="366.1" cy="258.1" r="3.15" stroke="#ff9500"/>
<circle cx="381.6" cy="237.5" r="3.15" stroke="#f0ff0f"/>
<circle cx="346.2" cy="220.3" r="3.15" stroke="#ff9a00"/>
<circle cx="353.2" cy="216.1" r="3.15" stroke="#d60000"/>
<circle cx="362.5" cy="232.8" r="3.15" stroke="#ff8700"/>
<circle cx="340.1" cy="252.2" r="3.15" stroke="#ff4400"/>
<circle cx="344.1" cy="235.1" r="3.15" stroke="#eaff15"/>
<circle cx="332.4" cy="235.4" r="3.15" stroke="#ff2a00"/>
<circle cx="403.2" cy="229.9" r="3.15" stroke="#000080"/>
<circle cx="370.9" cy="246.9" r="3.15" stroke="#b80000"/>
<circle cx="355.5" cy="198.2" r="3.15" stroke="#caff35"/>
<circle cx="380.2" cy="243.2" r="3.15" stroke="#ff5a00"/>
<circle cx="351.2" cy="233.4" r="3.15" stroke="#cd0000"/>
<circle cx="375.2" cy="225.3" r="3.15" stroke="#fc0000"/>
<circle cx="384.5" cy="276.1" r="3.15" stroke="#00f3ff"/>
<circle cx="355.2" cy="248.5" r="3.15" stroke="#fff400"/>
<circle cx="336.0" cy="234.7" r="3.15" stroke="#e4ff1b"/>
<circle cx="352.8" cy="220.2" r="3.15" stroke="#3cffc3"/>
<circle cx="319.0" cy="211.9" r="3.15" stroke="#ff0300"/>
<circle cx="337.4" cy="206.5" r="3.15" stroke="#00b8ff"/>
<circle cx="361.1" cy="232.8" r="3.15" stroke="#ffa700"/>
<circle cx="318.7" cy="187.6" r="3.15" stroke="#000080"/>
<circle cx="333.6" cy="243.8" r="3.15" stroke="#ffb600"/>
<circle cx="334.7" cy="162.0" r="3.15" stroke="#0000e6"/>
<circle cx="365.6" cy="241.1" r="3.15" stroke="#ab0000"/>
<circle cx="360.5" cy="241.7" r="3.15" stroke="#960000"/>
<circle cx="358.2" cy="220.2" r="3.15" stroke="#ff7700"/>
<circle cx="341.9" cy="235.5" r="3.15" stroke="#a50000"/>
<circle cx="383.6" cy="239.3" r="3.15" stroke="#ff4f00"/>
<circle cx="368.3" cy="221.1" r="3.15" stroke="#2bffd4"/>
<circle cx="353.8" cy="193.3" r="3.15" stroke="#e6ff19"/>
<circle cx="349.8" cy="233.5" r="3.15" stroke="#e00000"/>
<circle cx="369.7" cy="209.4" r="3.15" stroke="#c8ff37"/>
<circle cx="363.6" cy="254.5" r="3.15" stroke="#c50000"/>
<circle cx="374.1" cy="257.6" r="3.15" stroke="#e00000"/>
<circle cx="322.1" cy="234.1" r="3.15" stroke="#ff3c00"/>
<circle cx="343.9" cy="237.4" r="3.15" stroke="#26ffd9"/>
<circle cx="359.0" cy="216.4" r="3.15" stroke="#9dff62"/>
<circle cx="361.8" cy="225.5" r="3.15" stroke="#00f6ff"/>
<circle cx="300.6" cy="197.3" r="3.15" stroke="#ff6b00"/>
<circle cx="400.2" cy="237.9" r="3.15" stroke="#fb0000"/>
<circle cx="350.2" cy="259.1" r="3.15" stroke="#cfff30"/>
<circle cx="372.1" cy="242.9" r="3.15" stroke="#f8ff07"/>
<circle cx="371.2" cy="228.5" r="3.15" stroke="#ff4a00"/>
<circle cx="341.2" cy="215.5" r="3.15" stroke="#ff0400"/>
<circle cx="345.1" cy="229.7" r="3.15" stroke="#00a9ff"/>
<circle cx="347.1" cy="244.0" r="3.15" stroke="#fffb00"/>
<circle cx="340.4" cy="218.0" r="3.15" stroke="#b10000"/>
<circle cx="331.2" cy="195.6" r="3.15" stroke="#ff1900"/>
<circle cx="362.3" cy="218.1" r="3.15" stroke="#ff3000"/>
<circle cx="353.2" cy="265.5" r="3.15" stroke="#0cfff3"/>
<circle cx="353.1" cy="250.7" r="3.15" stroke="#ff1c00"/>
<circle cx="361.3" cy="197.6" r="3.15" stroke="#c9ff36"/>
<circle cx="322.2" cy="216.1" r="3.15" stroke="#ff2e00"/>
<circle cx="385.8" cy="215.1" r="3.15" stroke="#ffb400"/>
<circle cx="354.6" cy="222.6" r="3.15" stroke="#aa0000"/>
<circle cx="373.4" cy="223.8" r="3.15" stroke="#33ffcc"/>
<circle cx="396.1" cy="244.4" r="3.15" stroke="#920000"/>
<circle cx="349.8" cy="233.8" r="3.15" stroke="#be0000"/>
<circle cx="400.6" cy="227.8" r="3.15" stroke="#ff5600"/>
<circle cx="316.0" cy="222.4" r="3.15" stroke="#00c8ff"/>
<circle cx="357.7" cy="212.2" r="3.15" stroke="#ff8c00"/>
<circle cx="310.7" cy="213.2" r="3.15" stroke="#ff7f00"/>
<circle cx="378.5" cy="262.4" r="3.15" stroke="#ff4d00"/>
<circle cx="357.0" cy="220.4" r="3.15" stroke="#61ff9e"/>
<circle cx="339.4" cy="233.2" r="3.15" stroke="#cd0000"/>
<circle cx="382.9" cy="270.9" r="3.15" stroke="#ffb800"/>
<circle cx="377.8" cy="265.2" r="3.15" stroke="#ff3c00"/>
<circle cx="381.3" cy="239.0" r="3.15" stroke="#df0000"/>
<circle cx="319.4" cy="213.5" r="3.15" stroke="#23ffdc"/>
<circle cx="280.5" cy="170.5" r="3.15" stroke="#ff9400"/>
<circle cx="379.8" cy="248.8" r="3.15" stroke="#00edff"/>
<circle cx="374.6" cy="249.3" r="3.15" stroke="#ff8100"/>
<circle cx="321.0" cy="243.2" r="3.15" stroke="#9e0000"/>
<circle cx="345.6" cy="229.8" r="3.15" stroke="#ff8100"/>
<circle cx="359.5" cy="222.5" r="3.15" stroke="#e90000"/>
<circle cx="361.2" cy="179.5" r="3.15" stroke="#ffae00"/>
<circle cx="372.9" cy="225.3" r="3.15" stroke="#77ff88"/>
<circle cx="402.1" cy="241.9" r="3.15" stroke="#4bffb4"/>
<circle cx="356.1" cy="227.7" r="3.15" stroke="#ff6400"/>
<circle cx="375.2" cy="245.7" r="3.15" stroke="#000080"/>
<circle cx="360.0" cy="230.7" r="3.15" stroke="#c7ff38"/>
<circle cx="393.7" cy="269.5" r="3.15" stroke="#ce0000"/>
<circle cx="380.5" cy="248.6" r="3.15" stroke="#00bdff"/>
<circle cx="338.0" cy="234.7" r="3.15" stroke="#ea0000"/>
<circle cx="331.9" cy="209.1" r="3.15" stroke="#000080"/>
<circle cx="356.4" cy="221.6" r="3.15" stroke="#ff3d00"/>
<circle cx="367.4" cy="239.5" r="3.15" stroke="#ff5b00"/>
<circle cx="374.8" cy="259.9" r="3.15" stroke="#ff5d00"/>
<circle cx="322.1" cy="215.7" r="3.15" stroke="#ef0000"/>
<circle cx="386.2" cy="242.2" r="3.15" stroke="#ff9700"/>
<circle cx="315.8" cy="187.6" r="3.15" stroke="#00f8ff"/>
<circle cx="342.8" cy="227.9" r="3.15" stroke="#ff0c00"/>
<circle cx="335.9" cy="238.1" r="3.15" stroke="#ff3d00"/>
<circle cx="365.0" cy="217.4" r="3.15" stroke="#ff9300"/>
<circle cx="381.7" cy="259.7" r="3.15" stroke="#9cff63"/>
<circle cx="359.2" cy="257.9" r="3.15" stroke="#ff4500"/>
<circle cx="342.6" cy="224.8" r="3.15" stroke="#bf0000"/>
<circle cx="357.6" cy="226.9" r="3.15" stroke="#ffde00"/>
<circle cx="333.3" cy="201.0" r="3.15" stroke="#afff50"/>
<circle cx="352.0" cy="219.9" r="3.15" stroke="#ff7500"/>
<circle cx="371.3" cy="235.3" r="3.15" stroke="#fdff02"/>
<circle cx="330.8" cy="222.1" r="3.15" stroke="#e40000"/>
<circle cx="349.9" cy="236.3" r="3.15" stroke="#cfff30"/>
<circle cx="359.7" cy="206.4" r="3.15" stroke="#fffe00"/>
<circle cx="387.8" cy="230.6" r="3.15" stroke="#ff3800"/>
<circle cx="351.7" cy="218.1" r="3.15" stroke="#ff7400"/>
<circle cx="362.6" cy="231.5" r="3.15" stroke="#000080"/>
<circle cx="359.5" cy="223.7" r="3.15" stroke="#ff2900"/>
<circle cx="381.6" cy="209.6" r="3.15" stroke="#e80000"/>
<circle cx="337.4" cy="215.6" r="3.15" stroke="#ffbf00"/>
<circle cx="375.6" cy="218.2" r="3.15" stroke="#4affb5"/>
<circle cx="383.3" cy="230.3" r="3.15" stroke="#00ebff"/>
<circle cx="374.5" cy="211.4" r="3.15" stroke="#ff3f00"/>
<circle cx="310.9" cy="242.8" r="3.15" stroke="#00f9ff"/>
<circle cx="364.5" cy="208.9" r="3.15" stroke="#ffe900"/>
<circle cx="346.8" cy="241.1" r="3.15" stroke="#b10000"/>
<circle cx="336.4" cy="201.2" r="3.15" stroke="#00bbff"/>
<circle cx="380.8" cy="238.6" r="3.15" stroke="#9c0000"/>
<circle cx="325.0" cy="222.3" r="3.15" stroke="#d20000"/>
<circle cx="348.7" cy="227.8" r="3.15" stroke="#950000"/>
<circle cx="325.2" cy="218.2" r="3.15" stroke="#ffab00"/>
<circle cx="371.0" cy="230.6" r="3.15" stroke="#00e4ff"/>
<circle cx="388.4" cy="236.2" r="3.15" stroke="#ce0000"/>
<circle cx="343.4" cy="223.4" r="3.15" stroke="#0000e6"/>
<circle cx="377.6" cy="247.4" r="3.15" stroke="#ffb800"/>
<circle cx="327.2" cy="192.1" r="3.15" stroke="#a2ff5d"/>
<circle cx="365.0" cy="190.7" r="3.15" stroke="#ff5b00"/>
<circle cx="333.8" cy="209.5" r="3.15" stroke="#ff6a00"/>
<circle cx="374.0" cy="245.2" r="3.15" stroke="#ff0500"/>
<circle cx="397.6" cy="263.3" r="3.15" stroke="#c70000"/>
<circle cx="364.8" cy="260.8" r="3.15" stroke="#51ffae"/>
<circle cx="346.5" cy="220.6" r="3.15" stroke="#ff4f00"/>
<circle cx="360.5" cy="213.7" r="3.15" stroke="#ff2b00"/>
<circle cx="371.8" cy="243.0" r="3.15" stroke="#c9ff36"/>
<circle cx="370.0" cy="226.2" r="3.15" stroke="#000080"/>
<circle cx="361.3" cy="255.6" r="3.15" stroke="#ff0400"/>
<circle cx="345.4" cy="230.2" r="3.15" stroke="#d9ff26"/>
<circle cx="341.3" cy="205.7" r="3.15" stroke="#00a8ff"/>
<circle cx="363.2" cy="233.7" r="3.15" stroke="#ff6400"/>
<circle cx="329.6" cy="166.4" r="3.15" stroke="#00eeff"/>
<circle cx="362.9" cy="257.2" r="3.15" stroke="#aa0000"/>
<circle cx="385.9" cy="213.4" r="3.15" stroke="#ff6600"/>
<circle cx="344.8" cy="222.3" r="3.15" stroke="#c30000"/>
<circle cx="368.5" cy="211.3" r="3.15" stroke="#e10000"/>
<circle cx="342.5" cy="221.3" r="3.15" stroke="#ffa500"/>
<circle cx="373.5" cy="244.1" r="3.15" stroke="#ceff31"/>
<circle cx="350.8" cy="233.6" r="3.15" stroke="#c40000"/>
<circle cx="346.5" cy="219.0" r="3.15" stroke="#ff6c00"/>
<circle cx="354.4" cy="214.2" r="3.15" stroke="#ff2300"/>
<circle cx="326.4" cy="181.1" r="3.15" stroke="#60ff9f"/>
<circle cx="344.5" cy="237.4" r="3.15" stroke="#ff0d00"/>
<circle cx="345.7" cy="207.6" r="3.15" stroke="#80ff7f"/>
<circle cx="412.3" cy="275.4" r="3.15" stroke="#ff0800"/>
<circle cx="328.0" cy="216.0" r="3.15" stroke="#d5ff2a"/>
<circle cx="386.7" cy="224.4" r="3.15" stroke="#ffe200"/>
<circle cx="334.0" cy="216.3" r="3.15" stroke="#a50000"/>
<circle cx="355.9" cy="208.7" r="3.15" stroke="#ff4100"/>
<circle cx="374.9" cy="256.5" r="3.15" stroke="#7eff81"/>
<circle cx="418.1" cy="267.2" r="3.15" stroke="#f6ff09"/>
<circle cx="370.8" cy="228.4" r="3.15" stroke="#6bff94"/>
<circle cx="345.5" cy="228.9" r="3.15" stroke="#10ffef"/>
<circle cx="403.3" cy="258.1" r="3.15" stroke="#ff3500"/>
<circle cx="375.4" cy="238.6" r="3.15" stroke="#ff8b00"/>
<circle cx="357.0" cy="234.8" r="3.15" stroke="#d20000"/>
<circle cx="401.4" cy="241.6" r="3.15" stroke="#65ff9a"/>
<circle cx="365.9" cy="219.5" r="3.15" stroke="#c6ff39"/>
<circle cx="351.8" cy="202.0" r="3.15" stroke="#aeff51"/>
<circle cx="308.9" cy="203.1" r="3.15" stroke="#e80000"/>
<circle cx="396.9" cy="222.6" r="3.15" stroke="#c70000"/>
<circle cx="314.3" cy="209.6" r="3.15" stroke="#a10000"/>
<circle cx="378.1" cy="216.3" r="3.15" stroke="#fd0000"/>
<circle cx="340.4" cy="202.6" r="3.15" stroke="#04fffb"/>
<circle cx="366.2" cy="207.8" r="3.15" stroke="#ffae00"/>
<circle cx="328.3" cy="229.0" r="3.15" stroke="#eaff15"/>
<circle cx="369.7" cy="238.5" r="3.15" stroke="#d60000"/>
<circle cx="397.4" cy="264.7" r="3.15" stroke="#960000"/>
<circle cx="336.2" cy="227.5" r="3.15" stroke="#c00000"/>
<circle cx="324.5" cy="208.3" r="3.15" stroke="#e5ff1a"/>
<circle cx="350.1" cy="213.6" r="3.15" stroke="#eaff15"/>
<circle cx="320.9" cy="219.3" r="3.15" stroke="#e80000"/>
<circle cx="328.5" cy="223.9" r="3.15" stroke="#76ff89"/>
<circle cx="309.8" cy="225.3" r="3.15" stroke="#feff01"/>
<circle cx="336.9" cy="222.2" r="3.15" stroke="#ff1200"/>
<circle cx="335.4" cy="239.2" r="3.15" stroke="#51ffae"/>
<circle cx="374.3" cy="229.3" r="3.15" stroke="#fc0000"/>
<circle cx="371.9" cy="267.8" r="3.15" stroke="#ff5f00"/>
<circle cx="322.9" cy="227.6" r="3.15" stroke="#60ff9f"/>
<circle cx="349.7" cy="236.1" r="3.15" stroke="#c6ff39"/>
<circle cx="353.4" cy="222.7" r="3.15" stroke="#c30000"/>
<circle cx="401.2" cy="264.2" r="3.15" stroke="#ffcb00"/>
<circle cx="344.8" cy="215.5" r="3.15" stroke="#ff0700"/>
<circle cx="381.3" cy="240.5" r="3.15" stroke="#002eff"/>
<circle cx="294.2" cy="219.4" r="3.15" stroke="#daff25"/>
<circle cx="347.2" cy="214.6" r="3.15" stroke="#ea0000"/>
<circle cx="367.2" cy="210.9" r="3.15" stroke="#00cfff"/>
<circle cx="351.7" cy="222.0" r="3.15" stroke="#d00000"/>
<circle cx="376.8" cy="232.9" r="3.15" stroke="#ff1300"/>
<circle cx="367.7" cy="210.6" r="3.15" stroke="#d6ff29"/>
<circle cx="378.2" cy="217.8" r="3.15" stroke="#fff900"/>
<circle cx="319.1" cy="235.5" r="3.15" stroke="#000080"/>
<circle cx="337.3" cy="223.5" r="3.15" stroke="#002eff"/>
<circle cx="337.9" cy="209.6" r="3.15" stroke="#0bfff4"/>
<circle cx="361.4" cy="224.5" r="3.15" stroke="#00e5ff"/>
<circle cx="372.5" cy="216.9" r="3.15" stroke="#00d8ff"/>
<circle cx="285.4" cy="185.5" r="3.15" stroke="#ff3400"/>
<circle cx="359.8" cy="234.0" r="3.15" stroke="#ff2800"/>
<circle cx="364.0" cy="219.5" r="3.15" stroke="#00c9ff"/>
<circle cx="335.2" cy="198.2" r="3.15" stroke="#ff0100"/>
<circle cx="344.7" cy="202.0" r="3.15" stroke="#edff12"/>
<circle cx="344.0" cy="209.9" r="3.15" stroke="#58ffa7"/>
<circle cx="385.6" cy="229.5" r="3.15" stroke="#000080"/>
<circle cx="318.2" cy="210.2" r="3.15" stroke="#cfff30"/>
<circle cx="366.4" cy="235.2" r="3.15" stroke="#ff5f00"/>
<circle cx="328.8" cy="226.5" r="3.15" stroke="#ff2400"/>
<circle cx="329.6" cy="224.6" r="3.15" stroke="#ff1000"/>
<circle cx="337.3" cy="245.8" r="3.15" stroke="#000080"/>
<circle cx="349.4" cy="215.7" r="3.15" stroke="#ef0000"/>
<circle cx="414.9" cy="255.7" r="3.15" stroke="#e60000"/>
<circle cx="361.5" cy="229.5" r="3.15" stroke="#fcff03"/>
<circle cx="395.1" cy="258.6" r="3.15" stroke="#ee0000"/>
<circle cx="307.0" cy="231.2" r="3.15" stroke="#ff1f00"/>
<circle cx="355.6" cy="238.1" r="3.15" stroke="#ff5600"/>
<circle cx="376.8" cy="254.4" r="3.15" stroke="#ec0000"/>
<circle cx="320.3" cy="233.8" r="3.15" stroke="#ff0700"/>
<circle cx="348.0" cy="206.0" r="3.15" stroke="#970000"/>
<circle cx="336.5" cy="186.9" r="3.15" stroke="#ff3800"/>
<circle cx="368.6" cy="249.8" r="3.15" stroke="#ff8000"/>
<circle cx="414.0" cy="250.3" r="3.15" stroke="#860000"/>
<circle cx="410.7" cy="239.7" r="3.15" stroke="#ff4c00"/>
<circle cx="348.9" cy="228.1" r="3.15" stroke="#ff7500"/>
<circle cx="356.2" cy="221.0" r="3.15" stroke="#ff8b00"/>
<circle cx="374.5" cy="232.4" r="3.15" stroke="#caff35"/>
<circle cx="397.3" cy="236.6" r="3.15" stroke="#ab0000"/>
<circle cx="394.2" cy="231.6" r="3.15" stroke="#d60000"/>
<circle cx="374.3" cy="257.6" r="3.15" stroke="#ca0000"/>
<circle cx="375.6" cy="219.6" r="3.15" stroke="#b3ff4c"/>
<circle cx="355.2" cy="222.9" r="3.15" stroke="#b80000"/>
<circle cx="341.2" cy="231.8" r="3.15" stroke="#7aff85"/>
<circle cx="359.7" cy="243.0" r="3.15" stroke="#b10000"/>
<circle cx="345.0" cy="207.5" r="3.15" stroke="#f10000"/>
<circle cx="329.1" cy="240.3" r="3.15" stroke="#ff9a00"/>
<circle cx="213.9" cy="98.9" r="3.15" stroke="#000080"/>
<circle cx="220.8" cy="95.2" r="3.15" stroke="#000080"/>
<circle cx="225.3" cy="96.7" r="3.15" stroke="#000080"/>
<circle cx="243.8" cy="98.9" r="3.15" stroke="#000080"/>
<circle cx="246.8" cy="95.2" r="3.15" stroke="#ff9e00"/>
<circle cx="236.9" cy="117.4" r="3.15" stroke="#000080"/>
<circle cx="241.3" cy="160.2" r="3.15" stroke="#ff4c00"/>
<circle cx="269.5" cy="123.1" r="3.15" stroke="#000080"/>
<circle cx="278.4" cy="111.3" r="3.15" stroke="#000080"/>
<circle cx="283.4" cy="108.3" r="3.15" stroke="#000080"/>
<circle cx="288.8" cy="105.6" r="3.15" stroke="#fffa00"/>
<circle cx="295.2" cy="128.6" r="3.15" stroke="#000080"/>
<circle cx="307.3" cy="147.1" r="3.15" stroke="#000080"/>
<circle cx="305.4" cy="152.6" r="3.15" stroke="#000080"/>
<circle cx="319.7" cy="151.3" r="3.15" stroke="#05fffa"/>
<circle cx="298.0" cy="168.8" r="3.15" stroke="#000080"/>
<circle cx="280.9" cy="168.9" r="3.15" stroke="#80ff80"/>
<circle cx="320.2" cy="286.8" r="3.15" stroke="#ff4c00"/>
<circle cx="375.3" cy="308.3" r="3.15" stroke="#000080"/>
<circle cx="423.1" cy="295.5" r="3.15" stroke="#05fffa"/>
<circle cx="421.8" cy="275.0" r="3.15" stroke="#000080"/>
<circle cx="364.2" cy="294.8" r="3.15" stroke="#000fff"/>
<circle cx="274.7" cy="192.1" r="3.15" stroke="#ff4c00"/>
<circle cx="281.4" cy="196.6" r="3.15" stroke="#fa0000"/>
<circle cx="334.0" cy="160.8" r="3.15" stroke="#000080"/>
<circle cx="333.5" cy="168.8" r="3.15" stroke="#05fffa"/>
<circle cx="346.0" cy="165.8" r="3.15" stroke="#000080"/>
<circle cx="353.0" cy="166.8" r="3.15" stroke="#000080"/>
<circle cx="320.0" cy="174.3" r="3.15" stroke="#ff4c00"/>
<circle cx="312.0" cy="181.3" r="3.15" stroke="#fa0000"/>
<circle cx="292.5" cy="182.3" r="3.15" stroke="#ff4c00"/>
<circle cx="305.0" cy="186.3" r="3.15" stroke="#80ff80"/>
<circle cx="325.0" cy="184.8" r="3.15" stroke="#ff9e00"/>
<circle cx="352.0" cy="184.3" r="3.15" stroke="#ff4c00"/>
<circle cx="373.0" cy="174.3" r="3.15" stroke="#000080"/>
<circle cx="375.5" cy="176.8" r="3.15" stroke="#000080"/>
<circle cx="381.0" cy="186.3" r="3.15" stroke="#000080"/>
<circle cx="396.0" cy="204.8" r="3.15" stroke="#fa0000"/>
<circle cx="412.5" cy="214.8" r="3.15" stroke="#ff4c00"/>
<circle cx="420.0" cy="233.8" r="3.15" stroke="#fffa00"/>
<circle cx="426.5" cy="238.8" r="3.15" stroke="#fa0000"/>
<circle cx="425.0" cy="254.8" r="3.15" stroke="#ff9e00"/>
<circle cx="430.0" cy="260.8" r="3.15" stroke="#fffa00"/>
<circle cx="424.5" cy="252.8" r="3.15" stroke="#000080"/>
<circle cx="318.5" cy="245.8" r="3.15" stroke="#000080"/>
<circle cx="363.0" cy="279.8" r="3.15" stroke="#000080"/>
<circle cx="355.5" cy="278.3" r="3.15" stroke="#000080"/>
<circle cx="350.0" cy="272.8" r="3.15" stroke="#fa0000"/>
<circle cx="362.5" cy="288.8" r="3.15" stroke="#800000"/>
<circle cx="370.0" cy="282.8" r="3.15" stroke="#05fffa"/>
<circle cx="383.5" cy="277.8" r="3.15" stroke="#fffa00"/>
<circle cx="399.5" cy="272.8" r="3.15" stroke="#fffa00"/>
<circle cx="406.0" cy="267.8" r="3.15" stroke="#05fffa"/>
<circle cx="411.0" cy="263.8" r="3.15" stroke="#000080"/>
<circle cx="417.0" cy="247.8" r="3.15" stroke="#fa0000"/>
</g>
<path class="ds" d="M71.3 287.8H516.2"/>
<path class="ds" d="M182.3 468.2V61.4"/>
<ellipse cx="322.7" cy="189.8" rx="120.5" ry="43.3" transform="rotate(45.3 322.7 189.8)" fill="none" stroke="#0000ff" stroke-width="1.7"/>
<ellipse cx="356.4" cy="225.4" rx="107.5" ry="34.3" transform="rotate(46.3 356.4 225.4)" fill="none" stroke="#ff0000" stroke-width="1.7"/>
<ellipse cx="357.0" cy="227.5" rx="59.9" ry="31.4" transform="rotate(-157.2 357.0 227.5)" fill="none" stroke="#000" stroke-width="3.35"/>
<circle cx="182.0" cy="287.8" r="7.4" fill="#ff0000"/>
<path class="ax" d="M71.3 61.4V468.2H516.2M126.7 468.2v-4M182.3 468.2v-4M237.9 468.2v-4M293.5 468.2v-4M349.1 468.2v-4M404.7 468.2v-4M460.3 468.2v-4M515.9 468.2v-4M71.3 423.0h4M71.3 377.8h4M71.3 332.6h4M71.3 287.4h4M71.3 242.2h4M71.3 197.0h4M71.3 151.8h4M71.3 106.6h4M71.3 61.4h4"/>
<g class="t" text-anchor="middle">
<text x="69.6" y="494.6">-1</text>
<text x="125.2" y="494.6">-0.5</text>
<text x="182.3" y="494.6">0</text>
<text x="237.9" y="494.6">0.5</text>
<text x="293.5" y="494.6">1</text>
<text x="349.1" y="494.6">1.5</text>
<text x="404.7" y="494.6">2</text>
<text x="460.3" y="494.6">2.5</text>
<text x="515.9" y="494.6">3</text>
</g><g class="t" text-anchor="end">
<text x="63.6" y="476.0">-2</text>
<text x="63.6" y="430.8">-1.5</text>
<text x="63.6" y="385.6">-1</text>
<text x="63.6" y="340.4">-0.5</text>
<text x="63.6" y="295.2">0</text>
<text x="63.6" y="250.0">0.5</text>
<text x="63.6" y="204.8">1</text>
<text x="63.6" y="159.6">1.5</text>
<text x="63.6" y="114.4">2</text>
<text x="63.6" y="69.2">2.5</text>
</g>
<text class="l" text-anchor="middle" x="294.4" y="520">Mediolateral</text>
<text class="l" text-anchor="middle" transform="translate(23.4 265.6) rotate(-90)">Anteroposterior</text>
<text class="t k" letter-spacing=".24" text-anchor="end" transform="translate(100.8 61.2) rotate(-90)">Anterior</text>
<text class="t k" text-anchor="end" x="512.9" y="458.7">Lateral</text>
<rect x="543.5" y="59.8" width="26.8" height="409.8" fill="url(#jet)" stroke="#1a1a1a" stroke-width="1"/>
<g class="c">
<text x="577" y="476.5">0</text>
<text x="577" y="435.5">1</text>
<text x="577" y="394.5">2</text>
<text x="577" y="353.6">3</text>
<text x="577" y="312.6">4</text>
<text x="577" y="271.6">5</text>
<text x="577" y="230.6">6</text>
<text x="577" y="189.6">7</text>
<text x="577" y="148.7">8</text>
<text x="577" y="107.7">9</text>
<text x="577" y="66.7">10</text>
</g>
<path d="M570.3 428.6h-3.5M570.3 387.6h-3.5M570.3 346.7h-3.5M570.3 305.7h-3.5M570.3 264.7h-3.5M570.3 223.7h-3.5M570.3 182.7h-3.5M570.3 141.8h-3.5M570.3 100.8h-3.5" stroke="#1a1a1a" stroke-width="1" fill="none"/>
</g>
<g transform="translate(705.9 568.2)">
<g class="m">
<circle cx="211.4" cy="379.5" r="3.15" stroke="#ffdf00"/>
<circle cx="239.1" cy="356.7" r="3.15" stroke="#ff0900"/>
<circle cx="291.7" cy="427.7" r="3.15" stroke="#820000"/>
<circle cx="280.2" cy="420.1" r="3.15" stroke="#e70000"/>
<circle cx="250.6" cy="366.6" r="3.15" stroke="#00009e"/>
<circle cx="224.2" cy="369.6" r="3.15" stroke="#f50000"/>
<circle cx="253.9" cy="384.7" r="3.15" stroke="#ffc500"/>
<circle cx="247.1" cy="342.8" r="3.15" stroke="#ff3500"/>
<circle cx="236.1" cy="341.4" r="3.15" stroke="#ff9800"/>
<circle cx="236.0" cy="350.9" r="3.15" stroke="#ff2000"/>
<circle cx="251.3" cy="417.8" r="3.15" stroke="#000080"/>
<circle cx="254.7" cy="389.9" r="3.15" stroke="#ff7a00"/>
<circle cx="198.1" cy="387.1" r="3.15" stroke="#23ffdc"/>
<circle cx="275.2" cy="392.4" r="3.15" stroke="#ff0800"/>
<circle cx="263.9" cy="380.6" r="3.15" stroke="#ff7500"/>
<circle cx="268.9" cy="394.2" r="3.15" stroke="#ffa400"/>
<circle cx="232.7" cy="406.2" r="3.15" stroke="#002eff"/>
<circle cx="275.7" cy="393.3" r="3.15" stroke="#ffeb00"/>
<circle cx="269.2" cy="379.1" r="3.15" stroke="#ff3a00"/>
<circle cx="300.4" cy="416.3" r="3.15" stroke="#ffa100"/>
<circle cx="271.0" cy="370.3" r="3.15" stroke="#ff9900"/>
<circle cx="273.9" cy="386.2" r="3.15" stroke="#ff4f00"/>
<circle cx="234.0" cy="343.2" r="3.15" stroke="#f20000"/>
<circle cx="253.5" cy="380.9" r="3.15" stroke="#c30000"/>
<circle cx="252.0" cy="391.5" r="3.15" stroke="#e5ff1a"/>
<circle cx="249.4" cy="386.7" r="3.15" stroke="#00bfff"/>
<circle cx="241.0" cy="353.8" r="3.15" stroke="#ffcd00"/>
<circle cx="253.5" cy="388.8" r="3.15" stroke="#ff4600"/>
<circle cx="240.3" cy="386.5" r="3.15" stroke="#ff8000"/>
<circle cx="222.2" cy="365.7" r="3.15" stroke="#fff700"/>
<circle cx="252.9" cy="390.2" r="3.15" stroke="#d60000"/>
<circle cx="275.3" cy="406.3" r="3.15" stroke="#c00000"/>
<circle cx="297.0" cy="411.2" r="3.15" stroke="#ff3f00"/>
<circle cx="230.6" cy="350.0" r="3.15" stroke="#ff9100"/>
<circle cx="276.3" cy="383.2" r="3.15" stroke="#ff2900"/>
<circle cx="248.3" cy="379.5" r="3.15" stroke="#ff1900"/>
<circle cx="228.6" cy="326.8" r="3.15" stroke="#ff8500"/>
<circle cx="290.8" cy="388.3" r="3.15" stroke="#d30000"/>
<circle cx="261.8" cy="364.9" r="3.15" stroke="#d00000"/>
<circle cx="274.7" cy="423.4" r="3.15" stroke="#e50000"/>
<circle cx="251.2" cy="349.0" r="3.15" stroke="#000080"/>
<circle cx="259.9" cy="411.9" r="3.15" stroke="#ffcf00"/>
<circle cx="290.7" cy="409.6" r="3.15" stroke="#ff8300"/>
<circle cx="277.8" cy="380.2" r="3.15" stroke="#00009e"/>
<circle cx="276.2" cy="393.5" r="3.15" stroke="#ff4100"/>
<circle cx="288.1" cy="369.5" r="3.15" stroke="#ef0000"/>
<circle cx="239.0" cy="369.3" r="3.15" stroke="#ff9800"/>
<circle cx="192.3" cy="336.4" r="3.15" stroke="#d9ff26"/>
<circle cx="241.8" cy="357.6" r="3.15" stroke="#00009e"/>
<circle cx="231.2" cy="357.7" r="3.15" stroke="#000080"/>
<circle cx="221.8" cy="369.6" r="3.15" stroke="#fd0000"/>
<circle cx="234.5" cy="344.5" r="3.15" stroke="#ff0200"/>
<circle cx="259.8" cy="360.0" r="3.15" stroke="#800000"/>
<circle cx="287.6" cy="379.6" r="3.15" stroke="#f40000"/>
<circle cx="272.4" cy="384.1" r="3.15" stroke="#fc0000"/>
<circle cx="238.7" cy="327.8" r="3.15" stroke="#c2ff3d"/>
<circle cx="279.1" cy="362.4" r="3.15" stroke="#00cdff"/>
<circle cx="254.4" cy="413.1" r="3.15" stroke="#f50000"/>
<circle cx="292.3" cy="404.0" r="3.15" stroke="#ffb900"/>
<circle cx="260.7" cy="387.1" r="3.15" stroke="#ff0200"/>
<circle cx="265.7" cy="399.5" r="3.15" stroke="#ffff00"/>
<circle cx="227.3" cy="377.5" r="3.15" stroke="#33ffcc"/>
<circle cx="280.0" cy="420.7" r="3.15" stroke="#39ffc6"/>
<circle cx="247.2" cy="368.5" r="3.15" stroke="#dd0000"/>
<circle cx="231.6" cy="365.0" r="3.15" stroke="#ff8700"/>
<circle cx="273.8" cy="382.8" r="3.15" stroke="#0000e6"/>
<circle cx="284.2" cy="393.9" r="3.15" stroke="#ff1600"/>
<circle cx="268.4" cy="368.5" r="3.15" stroke="#fe0000"/>
<circle cx="265.2" cy="366.4" r="3.15" stroke="#7dff82"/>
<circle cx="233.2" cy="358.1" r="3.15" stroke="#00f9ff"/>
<circle cx="229.3" cy="385.7" r="3.15" stroke="#d00000"/>
<circle cx="242.9" cy="372.1" r="3.15" stroke="#00ecff"/>
<circle cx="259.1" cy="423.9" r="3.15" stroke="#ff0400"/>
<circle cx="261.9" cy="411.4" r="3.15" stroke="#00aaff"/>
<circle cx="251.8" cy="357.8" r="3.15" stroke="#ff4600"/>
<circle cx="263.8" cy="353.9" r="3.15" stroke="#ff0e00"/>
<circle cx="246.1" cy="354.1" r="3.15" stroke="#d80000"/>
<circle cx="258.9" cy="351.7" r="3.15" stroke="#a2ff5d"/>
<circle cx="243.1" cy="377.1" r="3.15" stroke="#00bdff"/>
<circle cx="248.9" cy="374.9" r="3.15" stroke="#ffc400"/>
<circle cx="283.4" cy="355.4" r="3.15" stroke="#ffa900"/>
<circle cx="260.0" cy="355.7" r="3.15" stroke="#ff8600"/>
<circle cx="246.5" cy="357.7" r="3.15" stroke="#c40000"/>
<circle cx="276.6" cy="380.9" r="3.15" stroke="#0000e6"/>
<circle cx="270.0" cy="383.3" r="3.15" stroke="#ff2500"/>
<circle cx="283.8" cy="364.8" r="3.15" stroke="#ff1300"/>
<circle cx="291.0" cy="408.2" r="3.15" stroke="#000080"/>
<circle cx="282.1" cy="354.4" r="3.15" stroke="#ff5c00"/>
<circle cx="272.2" cy="360.2" r="3.15" stroke="#eb0000"/>
<circle cx="282.2" cy="421.8" r="3.15" stroke="#56ffa9"/>
<circle cx="266.5" cy="370.0" r="3.15" stroke="#ffc300"/>
<circle cx="247.8" cy="348.2" r="3.15" stroke="#e50000"/>
<circle cx="272.3" cy="392.3" r="3.15" stroke="#c20000"/>
<circle cx="268.2" cy="415.1" r="3.15" stroke="#00d9ff"/>
<circle cx="239.6" cy="359.4" r="3.15" stroke="#ffbd00"/>
<circle cx="237.7" cy="356.6" r="3.15" stroke="#e70000"/>
<circle cx="242.8" cy="358.1" r="3.15" stroke="#ff1900"/>
<circle cx="264.1" cy="388.8" r="3.15" stroke="#ff5600"/>
<circle cx="263.7" cy="381.2" r="3.15" stroke="#000080"/>
<circle cx="278.7" cy="408.5" r="3.15" stroke="#002eff"/>
<circle cx="260.5" cy="383.9" r="3.15" stroke="#ff3900"/>
<circle cx="262.8" cy="390.7" r="3.15" stroke="#ff5d00"/>
<circle cx="295.2" cy="325.6" r="3.15" stroke="#ff9500"/>
<circle cx="248.0" cy="362.2" r="3.15" stroke="#5effa1"/>
<circle cx="273.8" cy="364.7" r="3.15" stroke="#ff1e00"/>
<circle cx="216.0" cy="355.5" r="3.15" stroke="#ff4400"/>
<circle cx="231.5" cy="352.5" r="3.15" stroke="#9f0000"/>
<circle cx="252.0" cy="378.6" r="3.15" stroke="#2bffd4"/>
<circle cx="297.4" cy="403.8" r="3.15" stroke="#ffa500"/>
<circle cx="270.9" cy="388.9" r="3.15" stroke="#ff5500"/>
<circle cx="282.3" cy="409.8" r="3.15" stroke="#e40000"/>
<circle cx="238.7" cy="379.1" r="3.15" stroke="#fc0000"/>
<circle cx="259.0" cy="406.2" r="3.15" stroke="#000080"/>
<circle cx="251.2" cy="366.2" r="3.15" stroke="#ff7e00"/>
<circle cx="256.8" cy="397.1" r="3.15" stroke="#830000"/>
<circle cx="286.7" cy="394.7" r="3.15" stroke="#ff4200"/>
<circle cx="293.8" cy="409.5" r="3.15" stroke="#ff9500"/>
<circle cx="250.0" cy="374.3" r="3.15" stroke="#ff0600"/>
<circle cx="239.8" cy="377.3" r="3.15" stroke="#000080"/>
<circle cx="254.2" cy="364.9" r="3.15" stroke="#da0000"/>
<circle cx="250.1" cy="341.2" r="3.15" stroke="#ffbd00"/>
<circle cx="257.5" cy="413.0" r="3.15" stroke="#f20000"/>
<circle cx="248.7" cy="394.0" r="3.15" stroke="#ff9300"/>
<circle cx="227.8" cy="367.1" r="3.15" stroke="#e00000"/>
<circle cx="216.9" cy="346.2" r="3.15" stroke="#ff2900"/>
<circle cx="269.3" cy="382.8" r="3.15" stroke="#f7ff08"/>
<circle cx="234.0" cy="346.9" r="3.15" stroke="#ff0900"/>
<circle cx="284.3" cy="419.8" r="3.15" stroke="#c1ff3e"/>
<circle cx="254.3" cy="399.5" r="3.15" stroke="#28ffd7"/>
<circle cx="229.8" cy="366.7" r="3.15" stroke="#ff5100"/>
<circle cx="233.3" cy="396.4" r="3.15" stroke="#0000e6"/>
<circle cx="289.8" cy="387.1" r="3.15" stroke="#ff6900"/>
<circle cx="233.9" cy="412.5" r="3.15" stroke="#ff6400"/>
<circle cx="265.0" cy="363.6" r="3.15" stroke="#ffb800"/>
<circle cx="230.1" cy="344.3" r="3.15" stroke="#ff0800"/>
<circle cx="266.6" cy="386.3" r="3.15" stroke="#ff3200"/>
<circle cx="247.3" cy="348.1" r="3.15" stroke="#00feff"/>
<circle cx="222.7" cy="361.0" r="3.15" stroke="#e8ff17"/>
<circle cx="242.4" cy="370.9" r="3.15" stroke="#e10000"/>
<circle cx="265.3" cy="347.2" r="3.15" stroke="#ffd600"/>
<circle cx="246.8" cy="349.6" r="3.15" stroke="#d90000"/>
<circle cx="260.4" cy="359.7" r="3.15" stroke="#00edff"/>
<circle cx="257.6" cy="376.5" r="3.15" stroke="#000080"/>
<circle cx="254.8" cy="359.5" r="3.15" stroke="#ff8b00"/>
<circle cx="255.4" cy="341.0" r="3.15" stroke="#ff8c00"/>
<circle cx="313.2" cy="325.6" r="3.15" stroke="#e70000"/>
<circle cx="278.8" cy="397.3" r="3.15" stroke="#ffb800"/>
<circle cx="304.1" cy="298.7" r="3.15" stroke="#000080"/>
<circle cx="291.4" cy="396.6" r="3.15" stroke="#ffba00"/>
<circle cx="253.3" cy="396.7" r="3.15" stroke="#ff5400"/>
<circle cx="236.1" cy="348.6" r="3.15" stroke="#ff1300"/>
<circle cx="253.1" cy="370.5" r="3.15" stroke="#ff1300"/>
<circle cx="256.3" cy="356.3" r="3.15" stroke="#ffb200"/>
<circle cx="230.8" cy="335.2" r="3.15" stroke="#ff5700"/>
<circle cx="257.3" cy="337.7" r="3.15" stroke="#00009e"/>
<circle cx="263.7" cy="381.4" r="3.15" stroke="#ff9f00"/>
<circle cx="245.5" cy="361.8" r="3.15" stroke="#ff3100"/>
<circle cx="237.0" cy="339.2" r="3.15" stroke="#000080"/>
<circle cx="274.2" cy="373.5" r="3.15" stroke="#fffe00"/>
<circle cx="285.2" cy="393.6" r="3.15" stroke="#fe0000"/>
<circle cx="267.9" cy="415.4" r="3.15" stroke="#ff4600"/>
<circle cx="262.7" cy="401.8" r="3.15" stroke="#dd0000"/>
<circle cx="274.6" cy="351.0" r="3.15" stroke="#ff2200"/>
<circle cx="265.7" cy="366.4" r="3.15" stroke="#ff6300"/>
<circle cx="238.0" cy="377.1" r="3.15" stroke="#ff3100"/>
<circle cx="268.1" cy="373.7" r="3.15" stroke="#feff01"/>
<circle cx="264.0" cy="375.9" r="3.15" stroke="#ff7200"/>
<circle cx="240.7" cy="378.2" r="3.15" stroke="#ff0b00"/>
<circle cx="248.0" cy="337.6" r="3.15" stroke="#ffe800"/>
<circle cx="261.0" cy="336.9" r="3.15" stroke="#ffb400"/>
<circle cx="230.0" cy="368.5" r="3.15" stroke="#1dffe2"/>
<circle cx="262.4" cy="382.3" r="3.15" stroke="#ff7f00"/>
<circle cx="277.4" cy="351.4" r="3.15" stroke="#ff9d00"/>
<circle cx="275.1" cy="396.6" r="3.15" stroke="#ff8400"/>
<circle cx="267.5" cy="389.9" r="3.15" stroke="#ff4600"/>
<circle cx="274.1" cy="384.1" r="3.15" stroke="#ff6700"/>
<circle cx="267.0" cy="347.4" r="3.15" stroke="#0000e6"/>
<circle cx="262.9" cy="380.0" r="3.15" stroke="#ff6f00"/>
<circle cx="256.2" cy="415.4" r="3.15" stroke="#97ff68"/>
<circle cx="254.0" cy="381.8" r="3.15" stroke="#caff35"/>
<circle cx="231.9" cy="356.5" r="3.15" stroke="#ffc300"/>
<circle cx="229.5" cy="341.2" r="3.15" stroke="#c00000"/>
<circle cx="236.9" cy="339.9" r="3.15" stroke="#2fffd0"/>
<circle cx="239.7" cy="371.0" r="3.15" stroke="#ff6900"/>
<circle cx="255.7" cy="358.2" r="3.15" stroke="#ff4c00"/>
<circle cx="246.0" cy="360.5" r="3.15" stroke="#ff5a00"/>
<circle cx="238.9" cy="352.2" r="3.15" stroke="#ff8900"/>
<circle cx="271.7" cy="421.6" r="3.15" stroke="#ff0200"/>
<circle cx="258.0" cy="377.2" r="3.15" stroke="#ff7900"/>
<circle cx="243.8" cy="372.2" r="3.15" stroke="#ff7200"/>
<circle cx="247.7" cy="356.6" r="3.15" stroke="#ffb700"/>
<circle cx="259.0" cy="371.1" r="3.15" stroke="#ff0900"/>
<circle cx="220.2" cy="358.8" r="3.15" stroke="#ff6700"/>
<circle cx="226.6" cy="331.5" r="3.15" stroke="#000080"/>
<circle cx="237.3" cy="361.6" r="3.15" stroke="#ff3a00"/>
<circle cx="228.1" cy="376.4" r="3.15" stroke="#fc0000"/>
<circle cx="261.4" cy="384.2" r="3.15" stroke="#000080"/>
<circle cx="254.0" cy="371.8" r="3.15" stroke="#ff3200"/>
<circle cx="324.7" cy="383.8" r="3.15" stroke="#fcff03"/>
<circle cx="249.2" cy="387.6" r="3.15" stroke="#10ffef"/>
<circle cx="250.2" cy="367.7" r="3.15" stroke="#ff3a00"/>
<circle cx="363.2" cy="362.9" r="3.15" stroke="#ff3300"/>
<circle cx="284.3" cy="414.2" r="3.15" stroke="#ff2400"/>
<circle cx="271.6" cy="425.3" r="3.15" stroke="#e0ff1f"/>
<circle cx="234.5" cy="317.0" r="3.15" stroke="#ff4600"/>
<circle cx="214.1" cy="352.1" r="3.15" stroke="#ffab00"/>
<circle cx="285.0" cy="374.7" r="3.15" stroke="#dc0000"/>
<circle cx="255.1" cy="358.4" r="3.15" stroke="#acff53"/>
<circle cx="296.2" cy="369.8" r="3.15" stroke="#ff0200"/>
<circle cx="211.9" cy="372.2" r="3.15" stroke="#000080"/>
<circle cx="233.4" cy="410.2" r="3.15" stroke="#ff2200"/>
<circle cx="251.0" cy="359.4" r="3.15" stroke="#b6ff49"/>
<circle cx="210.1" cy="344.4" r="3.15" stroke="#ffbd00"/>
<circle cx="253.9" cy="394.7" r="3.15" stroke="#ff8400"/>
<circle cx="299.7" cy="381.9" r="3.15" stroke="#000080"/>
<circle cx="237.9" cy="364.0" r="3.15" stroke="#ff8200"/>
<circle cx="276.0" cy="418.0" r="3.15" stroke="#ff3800"/>
<circle cx="267.4" cy="399.7" r="3.15" stroke="#ffaf00"/>
<circle cx="277.1" cy="372.3" r="3.15" stroke="#ff7b00"/>
<circle cx="279.3" cy="406.2" r="3.15" stroke="#ff3500"/>
<circle cx="236.4" cy="351.0" r="3.15" stroke="#ff4000"/>
<circle cx="260.1" cy="376.1" r="3.15" stroke="#ff8100"/>
<circle cx="236.0" cy="381.9" r="3.15" stroke="#ff6700"/>
<circle cx="231.6" cy="376.9" r="3.15" stroke="#ff9400"/>
<circle cx="300.7" cy="394.1" r="3.15" stroke="#ff1d00"/>
<circle cx="258.8" cy="379.1" r="3.15" stroke="#ff4200"/>
<circle cx="250.3" cy="391.3" r="3.15" stroke="#ffb600"/>
<circle cx="263.7" cy="355.4" r="3.15" stroke="#00f5ff"/>
<circle cx="266.6" cy="384.8" r="3.15" stroke="#0000e6"/>
<circle cx="247.1" cy="391.6" r="3.15" stroke="#ff9100"/>
<circle cx="237.6" cy="355.0" r="3.15" stroke="#00b3ff"/>
<circle cx="269.5" cy="373.3" r="3.15" stroke="#000080"/>
<circle cx="246.0" cy="369.6" r="3.15" stroke="#ffa800"/>
<circle cx="279.6" cy="376.1" r="3.15" stroke="#00d7ff"/>
<circle cx="276.8" cy="407.9" r="3.15" stroke="#ff1400"/>
<circle cx="287.4" cy="389.1" r="3.15" stroke="#27ffd8"/>
<circle cx="215.1" cy="353.8" r="3.15" stroke="#002eff"/>
<circle cx="221.6" cy="353.1" r="3.15" stroke="#00caff"/>
<circle cx="250.6" cy="366.5" r="3.15" stroke="#ffa700"/>
<circle cx="264.8" cy="380.7" r="3.15" stroke="#c40000"/>
<circle cx="280.8" cy="323.6" r="3.15" stroke="#00e0ff"/>
<circle cx="257.4" cy="376.3" r="3.15" stroke="#ff3c00"/>
<circle cx="241.3" cy="321.3" r="3.15" stroke="#feff01"/>
<circle cx="260.3" cy="389.2" r="3.15" stroke="#ff4900"/>
<circle cx="235.0" cy="356.7" r="3.15" stroke="#ff7500"/>
<circle cx="282.3" cy="442.8" r="3.15" stroke="#ffc000"/>
<circle cx="268.5" cy="384.1" r="3.15" stroke="#be0000"/>
<circle cx="258.8" cy="335.7" r="3.15" stroke="#f40000"/>
<circle cx="245.5" cy="352.5" r="3.15" stroke="#000080"/>
<circle cx="287.2" cy="424.6" r="3.15" stroke="#ffe200"/>
<circle cx="245.9" cy="344.9" r="3.15" stroke="#97ff68"/>
<circle cx="234.6" cy="349.7" r="3.15" stroke="#c10000"/>
<circle cx="270.6" cy="370.4" r="3.15" stroke="#ff0b00"/>
<circle cx="259.9" cy="401.4" r="3.15" stroke="#ff8f00"/>
<circle cx="270.1" cy="436.1" r="3.15" stroke="#c30000"/>
<circle cx="257.7" cy="379.9" r="3.15" stroke="#00a0ff"/>
<circle cx="246.7" cy="332.1" r="3.15" stroke="#9f0000"/>
<circle cx="251.3" cy="362.4" r="3.15" stroke="#ff5300"/>
<circle cx="260.8" cy="392.1" r="3.15" stroke="#ffe800"/>
<circle cx="229.0" cy="326.9" r="3.15" stroke="#00009e"/>
<circle cx="207.4" cy="329.8" r="3.15" stroke="#ffbf00"/>
<circle cx="247.5" cy="375.7" r="3.15" stroke="#ff5e00"/>
<circle cx="236.6" cy="375.2" r="3.15" stroke="#f4ff0b"/>
<circle cx="279.7" cy="412.7" r="3.15" stroke="#c5ff3a"/>
<circle cx="242.1" cy="340.3" r="3.15" stroke="#ff1f00"/>
<circle cx="289.2" cy="357.0" r="3.15" stroke="#ff2000"/>
<circle cx="295.8" cy="429.2" r="3.15" stroke="#bbff44"/>
<circle cx="326.7" cy="376.3" r="3.15" stroke="#00dbff"/>
<circle cx="214.6" cy="342.1" r="3.15" stroke="#ffbc00"/>
<circle cx="253.3" cy="367.4" r="3.15" stroke="#e80000"/>
<circle cx="276.0" cy="388.3" r="3.15" stroke="#ff3000"/>
<circle cx="269.9" cy="377.2" r="3.15" stroke="#fff300"/>
<circle cx="270.6" cy="371.7" r="3.15" stroke="#ffaa00"/>
<circle cx="261.6" cy="379.8" r="3.15" stroke="#ff7c00"/>
<circle cx="284.6" cy="297.9" r="3.15" stroke="#03fffc"/>
<circle cx="291.1" cy="388.6" r="3.15" stroke="#fc0000"/>
<circle cx="249.0" cy="372.3" r="3.15" stroke="#07fff8"/>
<circle cx="259.1" cy="395.6" r="3.15" stroke="#ff2600"/>
<circle cx="257.6" cy="363.5" r="3.15" stroke="#000080"/>
<circle cx="251.2" cy="380.3" r="3.15" stroke="#ff1500"/>
<circle cx="234.4" cy="393.0" r="3.15" stroke="#000080"/>
<circle cx="266.5" cy="361.6" r="3.15" stroke="#ffea00"/>
<circle cx="245.7" cy="388.5" r="3.15" stroke="#ff8d00"/>
<circle cx="289.3" cy="390.6" r="3.15" stroke="#17ffe8"/>
<circle cx="258.6" cy="339.2" r="3.15" stroke="#000080"/>
<circle cx="274.3" cy="421.6" r="3.15" stroke="#ff7900"/>
<circle cx="248.8" cy="357.0" r="3.15" stroke="#ff2c00"/>
<circle cx="232.3" cy="352.2" r="3.15" stroke="#ff1e00"/>
<circle cx="258.1" cy="354.3" r="3.15" stroke="#ff6000"/>
<circle cx="296.2" cy="421.8" r="3.15" stroke="#d8ff27"/>
<circle cx="254.8" cy="354.3" r="3.15" stroke="#c50000"/>
<circle cx="261.5" cy="409.2" r="3.15" stroke="#ff8500"/>
<circle cx="287.0" cy="400.4" r="3.15" stroke="#00009e"/>
<circle cx="221.9" cy="389.0" r="3.15" stroke="#ff7400"/>
<circle cx="258.7" cy="358.7" r="3.15" stroke="#ffaa00"/>
<circle cx="270.2" cy="413.0" r="3.15" stroke="#d50000"/>
<circle cx="245.4" cy="341.9" r="3.15" stroke="#fd0000"/>
<circle cx="246.9" cy="358.1" r="3.15" stroke="#ff0200"/>
<circle cx="207.0" cy="360.8" r="3.15" stroke="#ff9700"/>
<circle cx="265.2" cy="369.8" r="3.15" stroke="#ff0400"/>
<circle cx="249.7" cy="385.3" r="3.15" stroke="#abff54"/>
<circle cx="266.7" cy="341.8" r="3.15" stroke="#000080"/>
<circle cx="240.9" cy="401.0" r="3.15" stroke="#ec0000"/>
<circle cx="265.7" cy="368.4" r="3.15" stroke="#ff9900"/>
<circle cx="251.2" cy="378.3" r="3.15" stroke="#ed0000"/>
<circle cx="220.4" cy="331.6" r="3.15" stroke="#ff0000"/>
<circle cx="258.1" cy="352.5" r="3.15" stroke="#00afff"/>
<circle cx="223.3" cy="325.0" r="3.15" stroke="#fff500"/>
<circle cx="178.9" cy="364.7" r="3.15" stroke="#0000e6"/>
<circle cx="262.3" cy="355.7" r="3.15" stroke="#aeff51"/>
<circle cx="240.9" cy="351.4" r="3.15" stroke="#b7ff48"/>
<circle cx="239.5" cy="358.0" r="3.15" stroke="#000080"/>
<circle cx="254.0" cy="382.0" r="3.15" stroke="#ff1300"/>
<circle cx="265.2" cy="349.9" r="3.15" stroke="#ff1300"/>
<circle cx="258.4" cy="340.4" r="3.15" stroke="#ff9b00"/>
<circle cx="266.9" cy="356.0" r="3.15" stroke="#ff2900"/>
<circle cx="259.3" cy="400.0" r="3.15" stroke="#97ff68"/>
<circle cx="263.4" cy="380.5" r="3.15" stroke="#ff9000"/>
<circle cx="266.7" cy="351.3" r="3.15" stroke="#00cfff"/>
<circle cx="233.5" cy="337.4" r="3.15" stroke="#00dcff"/>
<circle cx="233.4" cy="377.5" r="3.15" stroke="#ffed00"/>
<circle cx="242.5" cy="375.4" r="3.15" stroke="#ff7c00"/>
<circle cx="246.6" cy="368.9" r="3.15" stroke="#ff3200"/>
<circle cx="307.9" cy="421.0" r="3.15" stroke="#13ffec"/>
<circle cx="237.5" cy="317.9" r="3.15" stroke="#ffba00"/>
<circle cx="278.5" cy="401.9" r="3.15" stroke="#000080"/>
<circle cx="257.5" cy="367.2" r="3.15" stroke="#f70000"/>
<circle cx="247.7" cy="398.9" r="3.15" stroke="#feff01"/>
<circle cx="263.2" cy="340.3" r="3.15" stroke="#ff2000"/>
<circle cx="260.0" cy="381.3" r="3.15" stroke="#ff9900"/>
<circle cx="246.2" cy="371.4" r="3.15" stroke="#a90000"/>
<circle cx="311.3" cy="388.0" r="3.15" stroke="#ffc000"/>
<circle cx="222.2" cy="353.7" r="3.15" stroke="#ed0000"/>
<circle cx="231.3" cy="334.1" r="3.15" stroke="#ffbc00"/>
<circle cx="271.5" cy="427.7" r="3.15" stroke="#ff1400"/>
<circle cx="226.0" cy="338.8" r="3.15" stroke="#d90000"/>
<circle cx="256.7" cy="414.3" r="3.15" stroke="#c40000"/>
<circle cx="225.7" cy="330.7" r="3.15" stroke="#ff7000"/>
<circle cx="311.5" cy="323.0" r="3.15" stroke="#0000e6"/>
<circle cx="229.4" cy="365.7" r="3.15" stroke="#000080"/>
<circle cx="230.1" cy="380.6" r="3.15" stroke="#000080"/>
<circle cx="260.5" cy="366.0" r="3.15" stroke="#ff2400"/>
<circle cx="271.6" cy="401.8" r="3.15" stroke="#ffa100"/>
<circle cx="281.5" cy="388.9" r="3.15" stroke="#09fff6"/>
<circle cx="253.1" cy="388.0" r="3.15" stroke="#000080"/>
<circle cx="253.3" cy="382.2" r="3.15" stroke="#2effd1"/>
<circle cx="253.0" cy="393.2" r="3.15" stroke="#ff1600"/>
<circle cx="214.1" cy="306.7" r="3.15" stroke="#f00000"/>
<circle cx="249.5" cy="323.2" r="3.15" stroke="#c3ff3c"/>
<circle cx="235.9" cy="340.3" r="3.15" stroke="#0000e6"/>
<circle cx="216.0" cy="390.1" r="3.15" stroke="#ffe500"/>
<circle cx="251.8" cy="363.0" r="3.15" stroke="#c70000"/>
<circle cx="242.6" cy="404.1" r="3.15" stroke="#86ff79"/>
<circle cx="264.3" cy="352.9" r="3.15" stroke="#ff9800"/>
<circle cx="239.1" cy="377.7" r="3.15" stroke="#f7ff08"/>
<circle cx="244.2" cy="387.5" r="3.15" stroke="#ff7f00"/>
<circle cx="297.1" cy="395.2" r="3.15" stroke="#ff6400"/>
<circle cx="280.2" cy="414.6" r="3.15" stroke="#bd0000"/>
<circle cx="245.5" cy="356.0" r="3.15" stroke="#ff5200"/>
<circle cx="259.0" cy="348.5" r="3.15" stroke="#ff4600"/>
<circle cx="259.2" cy="366.8" r="3.15" stroke="#000080"/>
<circle cx="237.4" cy="359.1" r="3.15" stroke="#002eff"/>
<circle cx="258.3" cy="367.0" r="3.15" stroke="#f80000"/>
<circle cx="270.2" cy="385.1" r="3.15" stroke="#ff6000"/>
<circle cx="269.7" cy="369.0" r="3.15" stroke="#ffa300"/>
<circle cx="231.3" cy="390.7" r="3.15" stroke="#ff8700"/>
<circle cx="304.5" cy="346.0" r="3.15" stroke="#0ffff0"/>
<circle cx="271.4" cy="384.6" r="3.15" stroke="#00009e"/>
<circle cx="290.1" cy="394.1" r="3.15" stroke="#7fff80"/>
<circle cx="260.5" cy="374.8" r="3.15" stroke="#e3ff1c"/>
<circle cx="280.1" cy="387.9" r="3.15" stroke="#26ffd9"/>
<circle cx="234.3" cy="318.4" r="3.15" stroke="#ff9300"/>
<circle cx="249.4" cy="407.4" r="3.15" stroke="#ff5a00"/>
<circle cx="232.2" cy="360.0" r="3.15" stroke="#c00000"/>
<circle cx="243.2" cy="397.0" r="3.15" stroke="#00ceff"/>
<circle cx="221.8" cy="306.7" r="3.15" stroke="#000080"/>
<circle cx="304.8" cy="308.3" r="3.15" stroke="#ff6300"/>
<circle cx="285.4" cy="372.8" r="3.15" stroke="#ff2800"/>
<circle cx="231.3" cy="377.8" r="3.15" stroke="#00009e"/>
<circle cx="251.7" cy="394.8" r="3.15" stroke="#ff7e00"/>
<circle cx="239.6" cy="348.8" r="3.15" stroke="#ff2b00"/>
<circle cx="272.9" cy="369.0" r="3.15" stroke="#ffc700"/>
<circle cx="240.3" cy="322.0" r="3.15" stroke="#f8ff07"/>
<circle cx="248.4" cy="400.9" r="3.15" stroke="#ff2a00"/>
<circle cx="281.4" cy="361.2" r="3.15" stroke="#c20000"/>
<circle cx="278.9" cy="421.7" r="3.15" stroke="#ffcd00"/>
<circle cx="278.8" cy="394.0" r="3.15" stroke="#ec0000"/>
<circle cx="258.0" cy="361.3" r="3.15" stroke="#92ff6d"/>
<circle cx="413.4" cy="237.1" r="3.15" stroke="#000080"/>
<circle cx="402.2" cy="251.6" r="3.15" stroke="#000080"/>
<circle cx="383.6" cy="259.1" r="3.15" stroke="#000080"/>
<circle cx="376.2" cy="264.5" r="3.15" stroke="#000080"/>
<circle cx="398.6" cy="296.4" r="3.15" stroke="#000080"/>
<circle cx="418.4" cy="299.9" r="3.15" stroke="#000080"/>
<circle cx="417.1" cy="308.0" r="3.15" stroke="#000080"/>
<circle cx="405.9" cy="309.3" r="3.15" stroke="#fffa00"/>
<circle cx="413.9" cy="326.1" r="3.15" stroke="#000080"/>
<circle cx="402.9" cy="340.9" r="3.15" stroke="#000080"/>
<circle cx="391.1" cy="340.4" r="3.15" stroke="#000080"/>
<circle cx="417.9" cy="358.7" r="3.15" stroke="#ff9e00"/>
<circle cx="207.4" cy="248.9" r="3.15" stroke="#ff9e00"/>
<circle cx="196.2" cy="281.3" r="3.15" stroke="#ff4c00"/>
<circle cx="258.4" cy="279.3" r="3.15" stroke="#ff9e00"/>
<circle cx="261.2" cy="305.3" r="3.15" stroke="#ff9e00"/>
<circle cx="286.5" cy="313.0" r="3.15" stroke="#000080"/>
<circle cx="206.4" cy="303.1" r="3.15" stroke="#000fff"/>
<circle cx="211.0" cy="302.3" r="3.15" stroke="#800000"/>
<circle cx="179.1" cy="333.5" r="3.15" stroke="#800000"/>
<circle cx="171.5" cy="344.6" r="3.15" stroke="#05fffa"/>
<circle cx="172.2" cy="374.3" r="3.15" stroke="#000fff"/>
<circle cx="156.1" cy="406.4" r="3.15" stroke="#000080"/>
<circle cx="193.8" cy="413.9" r="3.15" stroke="#000080"/>
<circle cx="232.1" cy="442.0" r="3.15" stroke="#000080"/>
<circle cx="354.7" cy="405.0" r="3.15" stroke="#000080"/>
<circle cx="337.9" cy="438.1" r="3.15" stroke="#ff4c00"/>
<circle cx="311.2" cy="443.5" r="3.15" stroke="#ff4c00"/>
<circle cx="293.4" cy="441.6" r="3.15" stroke="#fa0000"/>
<circle cx="312.8" cy="428.4" r="3.15" stroke="#fa0000"/>
<circle cx="327.4" cy="420.5" r="3.15" stroke="#80ff80"/>
<circle cx="320.6" cy="337.3" r="3.15" stroke="#000080"/>
<circle cx="294.1" cy="342.8" r="3.15" stroke="#000080"/>
<circle cx="306.6" cy="349.3" r="3.15" stroke="#000fff"/>
<circle cx="315.1" cy="350.8" r="3.15" stroke="#00b2ff"/>
<circle cx="318.6" cy="348.3" r="3.15" stroke="#80ff80"/>
<circle cx="321.7" cy="354.3" r="3.15" stroke="#05fffa"/>
<circle cx="330.6" cy="357.3" r="3.15" stroke="#000080"/>
<circle cx="310.1" cy="360.3" r="3.15" stroke="#000080"/>
<circle cx="303.1" cy="358.8" r="3.15" stroke="#000080"/>
<circle cx="302.1" cy="363.3" r="3.15" stroke="#80ff80"/>
<circle cx="306.1" cy="370.8" r="3.15" stroke="#000080"/>
<circle cx="321.1" cy="370.3" r="3.15" stroke="#80ff80"/>
<circle cx="331.1" cy="371.8" r="3.15" stroke="#000080"/>
<circle cx="349.1" cy="372.8" r="3.15" stroke="#05fffa"/>
<circle cx="328.1" cy="380.8" r="3.15" stroke="#000080"/>
<circle cx="338.1" cy="379.8" r="3.15" stroke="#000080"/>
<circle cx="316.6" cy="381.3" r="3.15" stroke="#000080"/>
<circle cx="307.1" cy="382.8" r="3.15" stroke="#fffa00"/>
<circle cx="327.1" cy="389.8" r="3.15" stroke="#05fffa"/>
<circle cx="347.6" cy="386.3" r="3.15" stroke="#000080"/>
<circle cx="352.1" cy="378.8" r="3.15" stroke="#000080"/>
<circle cx="309.1" cy="389.3" r="3.15" stroke="#ff4c00"/>
<circle cx="317.1" cy="395.8" r="3.15" stroke="#fffa00"/>
<circle cx="321.1" cy="401.3" r="3.15" stroke="#ff4c00"/>
<circle cx="299.1" cy="374.3" r="3.15" stroke="#800000"/>
<circle cx="182.1" cy="357.3" r="3.15" stroke="#ff4c00"/>
<circle cx="195.6" cy="364.3" r="3.15" stroke="#000080"/>
<circle cx="180.1" cy="396.3" r="3.15" stroke="#ff4c00"/>
<circle cx="188.1" cy="372.8" r="3.15" stroke="#ff4c00"/>
<circle cx="201.1" cy="380.8" r="3.15" stroke="#ff9e00"/>
<circle cx="192.6" cy="346.8" r="3.15" stroke="#fffa00"/>
<circle cx="198.1" cy="344.8" r="3.15" stroke="#ff4c00"/>
<circle cx="208.1" cy="398.8" r="3.15" stroke="#ff4c00"/>
<circle cx="215.6" cy="400.3" r="3.15" stroke="#000080"/>
<circle cx="213.1" cy="319.8" r="3.15" stroke="#fffa00"/>
<circle cx="235.1" cy="313.8" r="3.15" stroke="#ff4c00"/>
<circle cx="250.1" cy="316.8" r="3.15" stroke="#ff4c00"/>
<circle cx="256.1" cy="320.8" r="3.15" stroke="#ff4c00"/>
<circle cx="257.1" cy="325.8" r="3.15" stroke="#ff9e00"/>
<circle cx="271.1" cy="328.8" r="3.15" stroke="#ff9e00"/>
<circle cx="207.1" cy="327.3" r="3.15" stroke="#fa0000"/>
<circle cx="228.1" cy="415.8" r="3.15" stroke="#000fff"/>
<circle cx="235.6" cy="414.8" r="3.15" stroke="#000fff"/>
<circle cx="256.1" cy="423.8" r="3.15" stroke="#05fffa"/>
<circle cx="264.1" cy="422.8" r="3.15" stroke="#000080"/>
</g>
<path class="ds" d="M71.3 287.8H516.2"/>
<path class="ds" d="M182.3 468.2V61.4"/>
<ellipse cx="306.1" cy="336.7" rx="126.2" ry="63.1" transform="rotate(147.4 306.1 336.7)" fill="none" stroke="#0000ff" stroke-width="1.7"/>
<ellipse cx="269.9" cy="360.6" rx="87.0" ry="67.4" transform="rotate(-179.1 269.9 360.6)" fill="none" stroke="#ff0000" stroke-width="1.7"/>
<ellipse cx="253.2" cy="377.9" rx="64.7" ry="33.1" transform="rotate(56.6 253.2 377.9)" fill="none" stroke="#000" stroke-width="3.35"/>
<circle cx="182.0" cy="288.7" r="7.4" fill="#ff0000"/>
<path class="ax" d="M71.3 61.4V468.2H516.2M126.7 468.2v-4M182.3 468.2v-4M237.9 468.2v-4M293.5 468.2v-4M349.1 468.2v-4M404.7 468.2v-4M460.3 468.2v-4M515.9 468.2v-4M71.3 423.0h4M71.3 377.8h4M71.3 332.6h4M71.3 287.4h4M71.3 242.2h4M71.3 197.0h4M71.3 151.8h4M71.3 106.6h4M71.3 61.4h4"/>
<g class="t" text-anchor="middle">
<text x="69.6" y="494.6">-1</text>
<text x="125.2" y="494.6">-0.5</text>
<text x="182.3" y="494.6">0</text>
<text x="237.9" y="494.6">0.5</text>
<text x="293.5" y="494.6">1</text>
<text x="349.1" y="494.6">1.5</text>
<text x="404.7" y="494.6">2</text>
<text x="460.3" y="494.6">2.5</text>
<text x="515.9" y="494.6">3</text>
</g><g class="t" text-anchor="end">
<text x="63.6" y="476.0">-2</text>
<text x="63.6" y="430.8">-1.5</text>
<text x="63.6" y="385.6">-1</text>
<text x="63.6" y="340.4">-0.5</text>
<text x="63.6" y="295.2">0</text>
<text x="63.6" y="250.0">0.5</text>
<text x="63.6" y="204.8">1</text>
<text x="63.6" y="159.6">1.5</text>
<text x="63.6" y="114.4">2</text>
<text x="63.6" y="69.2">2.5</text>
</g>
<text class="l" text-anchor="middle" x="294.4" y="520">Anteroposterior</text>
<text class="l" text-anchor="middle" transform="translate(23.4 265.6) rotate(-90)">Vertical</text>
<text class="t k" letter-spacing=".24" text-anchor="end" transform="translate(100.8 66.2) rotate(-90)">Above</text>
<text class="t k" text-anchor="end" x="509.7" y="458.7">Anterior</text>
<rect x="543.5" y="59.8" width="26.8" height="409.8" fill="url(#jet)" stroke="#1a1a1a" stroke-width="1"/>
<g class="c">
<text x="577" y="476.5">0</text>
<text x="577" y="435.5">1</text>
<text x="577" y="394.5">2</text>
<text x="577" y="353.6">3</text>
<text x="577" y="312.6">4</text>
<text x="577" y="271.6">5</text>
<text x="577" y="230.6">6</text>
<text x="577" y="189.6">7</text>
<text x="577" y="148.7">8</text>
<text x="577" y="107.7">9</text>
<text x="577" y="66.7">10</text>
</g>
<path d="M570.3 428.6h-3.5M570.3 387.6h-3.5M570.3 346.7h-3.5M570.3 305.7h-3.5M570.3 264.7h-3.5M570.3 223.7h-3.5M570.3 182.7h-3.5M570.3 141.8h-3.5M570.3 100.8h-3.5" stroke="#1a1a1a" stroke-width="1" fill="none"/>
</g>
<g transform="translate(1411.7 568.2)">
<g class="m">
<circle cx="359.5" cy="372.7" r="3.15" stroke="#f30000"/>
<circle cx="364.8" cy="390.9" r="3.15" stroke="#ff7700"/>
<circle cx="368.8" cy="368.0" r="3.15" stroke="#e60000"/>
<circle cx="327.0" cy="427.2" r="3.15" stroke="#fb0000"/>
<circle cx="391.4" cy="368.0" r="3.15" stroke="#ffaf00"/>
<circle cx="365.4" cy="371.4" r="3.15" stroke="#000080"/>
<circle cx="409.6" cy="319.1" r="3.15" stroke="#ff9a00"/>
<circle cx="332.5" cy="429.1" r="3.15" stroke="#ff7a00"/>
<circle cx="366.2" cy="394.6" r="3.15" stroke="#64ff9b"/>
<circle cx="300.7" cy="406.6" r="3.15" stroke="#ffbb00"/>
<circle cx="326.0" cy="369.7" r="3.15" stroke="#000080"/>
<circle cx="367.7" cy="384.9" r="3.15" stroke="#00009e"/>
<circle cx="353.9" cy="398.1" r="3.15" stroke="#00b2ff"/>
<circle cx="364.0" cy="359.2" r="3.15" stroke="#ffa000"/>
<circle cx="303.8" cy="415.9" r="3.15" stroke="#ffe100"/>
<circle cx="353.1" cy="384.6" r="3.15" stroke="#f30000"/>
<circle cx="410.0" cy="339.8" r="3.15" stroke="#ff7700"/>
<circle cx="385.6" cy="361.6" r="3.15" stroke="#f50000"/>
<circle cx="372.6" cy="361.9" r="3.15" stroke="#ffe600"/>
<circle cx="386.5" cy="370.0" r="3.15" stroke="#800000"/>
<circle cx="368.1" cy="398.9" r="3.15" stroke="#b60000"/>
<circle cx="390.2" cy="348.8" r="3.15" stroke="#ff6800"/>
<circle cx="354.6" cy="387.3" r="3.15" stroke="#00ccff"/>
<circle cx="346.1" cy="401.5" r="3.15" stroke="#00b9ff"/>
<circle cx="342.0" cy="408.2" r="3.15" stroke="#c3ff3c"/>
<circle cx="347.4" cy="398.5" r="3.15" stroke="#ff8000"/>
<circle cx="372.4" cy="356.1" r="3.15" stroke="#ceff31"/>
<circle cx="349.6" cy="367.5" r="3.15" stroke="#ff9000"/>
<circle cx="321.8" cy="409.3" r="3.15" stroke="#ffc600"/>
<circle cx="335.3" cy="397.1" r="3.15" stroke="#ff3c00"/>
<circle cx="350.7" cy="358.8" r="3.15" stroke="#002eff"/>
<circle cx="350.2" cy="375.5" r="3.15" stroke="#ff3900"/>
<circle cx="350.2" cy="361.7" r="3.15" stroke="#ff9a00"/>
<circle cx="361.0" cy="368.4" r="3.15" stroke="#ffcd00"/>
<circle cx="327.6" cy="427.1" r="3.15" stroke="#ec0000"/>
<circle cx="415.9" cy="324.4" r="3.15" stroke="#ffab00"/>
<circle cx="320.3" cy="408.6" r="3.15" stroke="#a20000"/>
<circle cx="376.5" cy="353.8" r="3.15" stroke="#000080"/>
<circle cx="372.0" cy="371.7" r="3.15" stroke="#ff2e00"/>
<circle cx="332.4" cy="373.3" r="3.15" stroke="#fffe00"/>
<circle cx="346.1" cy="373.9" r="3.15" stroke="#ffea00"/>
<circle cx="339.4" cy="382.5" r="3.15" stroke="#ffb700"/>
<circle cx="354.8" cy="376.3" r="3.15" stroke="#ff2000"/>
<circle cx="302.2" cy="385.3" r="3.15" stroke="#00d3ff"/>
<circle cx="396.8" cy="335.0" r="3.15" stroke="#ff4e00"/>
<circle cx="377.7" cy="387.7" r="3.15" stroke="#ff9b00"/>
<circle cx="375.9" cy="363.7" r="3.15" stroke="#000080"/>
<circle cx="387.9" cy="362.5" r="3.15" stroke="#ffdc00"/>
<circle cx="325.4" cy="396.4" r="3.15" stroke="#ff4300"/>
<circle cx="345.6" cy="350.5" r="3.15" stroke="#00f9ff"/>
<circle cx="365.6" cy="332.9" r="3.15" stroke="#ff6b00"/>
<circle cx="344.9" cy="379.9" r="3.15" stroke="#e70000"/>
<circle cx="342.9" cy="403.0" r="3.15" stroke="#ff6800"/>
<circle cx="369.0" cy="352.7" r="3.15" stroke="#00009e"/>
<circle cx="362.3" cy="381.3" r="3.15" stroke="#ffbb00"/>
<circle cx="388.7" cy="346.3" r="3.15" stroke="#009eff"/>
<circle cx="308.0" cy="408.5" r="3.15" stroke="#ff9b00"/>
<circle cx="326.3" cy="398.7" r="3.15" stroke="#bbff44"/>
<circle cx="378.7" cy="330.5" r="3.15" stroke="#00ccff"/>
<circle cx="336.6" cy="407.7" r="3.15" stroke="#ff9400"/>
<circle cx="370.7" cy="388.3" r="3.15" stroke="#fff900"/>
<circle cx="311.0" cy="416.5" r="3.15" stroke="#ffb800"/>
<circle cx="324.7" cy="409.4" r="3.15" stroke="#d4ff2b"/>
<circle cx="351.3" cy="388.6" r="3.15" stroke="#ffb400"/>
<circle cx="356.1" cy="367.4" r="3.15" stroke="#bfff40"/>
<circle cx="316.7" cy="410.1" r="3.15" stroke="#ff3100"/>
<circle cx="378.2" cy="361.4" r="3.15" stroke="#ff5f00"/>
<circle cx="343.4" cy="402.5" r="3.15" stroke="#ff9700"/>
<circle cx="383.7" cy="356.6" r="3.15" stroke="#ffa100"/>
<circle cx="354.4" cy="389.5" r="3.15" stroke="#ffa900"/>
<circle cx="341.6" cy="398.8" r="3.15" stroke="#ff0900"/>
<circle cx="370.0" cy="393.0" r="3.15" stroke="#2affd5"/>
<circle cx="344.5" cy="394.7" r="3.15" stroke="#ffa100"/>
<circle cx="375.0" cy="360.6" r="3.15" stroke="#8c0000"/>
<circle cx="379.4" cy="340.3" r="3.15" stroke="#ff8500"/>
<circle cx="352.2" cy="387.1" r="3.15" stroke="#ffdc00"/>
<circle cx="334.2" cy="393.9" r="3.15" stroke="#94ff6b"/>
<circle cx="366.1" cy="382.1" r="3.15" stroke="#ff1300"/>
<circle cx="326.2" cy="410.0" r="3.15" stroke="#ff6b00"/>
<circle cx="360.2" cy="372.4" r="3.15" stroke="#ffd700"/>
<circle cx="381.3" cy="365.6" r="3.15" stroke="#ffa600"/>
<circle cx="312.5" cy="417.5" r="3.15" stroke="#ffdf00"/>
<circle cx="347.6" cy="381.9" r="3.15" stroke="#ff2d00"/>
<circle cx="305.4" cy="402.6" r="3.15" stroke="#ff1300"/>
<circle cx="373.2" cy="378.4" r="3.15" stroke="#000080"/>
<circle cx="385.5" cy="373.5" r="3.15" stroke="#ff2f00"/>
<circle cx="372.1" cy="343.8" r="3.15" stroke="#ff6e00"/>
<circle cx="371.3" cy="372.1" r="3.15" stroke="#000080"/>
<circle cx="386.4" cy="320.3" r="3.15" stroke="#86ff79"/>
<circle cx="369.4" cy="378.9" r="3.15" stroke="#bdff42"/>
<circle cx="357.5" cy="398.4" r="3.15" stroke="#ffbd00"/>
<circle cx="351.2" cy="350.1" r="3.15" stroke="#ff5c00"/>
<circle cx="379.0" cy="357.2" r="3.15" stroke="#009fff"/>
<circle cx="353.8" cy="410.7" r="3.15" stroke="#ff9900"/>
<circle cx="395.3" cy="367.6" r="3.15" stroke="#f00000"/>
<circle cx="331.7" cy="376.6" r="3.15" stroke="#0000e6"/>
<circle cx="363.8" cy="383.6" r="3.15" stroke="#000080"/>
<circle cx="362.7" cy="375.1" r="3.15" stroke="#00009e"/>
<circle cx="359.8" cy="410.4" r="3.15" stroke="#ff5300"/>
<circle cx="361.7" cy="382.0" r="3.15" stroke="#ff2700"/>
<circle cx="328.0" cy="389.8" r="3.15" stroke="#ffaf00"/>
<circle cx="329.1" cy="395.5" r="3.15" stroke="#ffbd00"/>
<circle cx="387.0" cy="357.3" r="3.15" stroke="#93ff6c"/>
<circle cx="357.7" cy="378.5" r="3.15" stroke="#69ff96"/>
<circle cx="357.9" cy="363.9" r="3.15" stroke="#ffe800"/>
<circle cx="391.2" cy="349.4" r="3.15" stroke="#ff5a00"/>
<circle cx="346.0" cy="389.1" r="3.15" stroke="#ff0700"/>
<circle cx="357.2" cy="395.1" r="3.15" stroke="#ff1400"/>
<circle cx="318.1" cy="415.9" r="3.15" stroke="#ff9300"/>
<circle cx="295.8" cy="354.1" r="3.15" stroke="#3fffc0"/>
<circle cx="366.8" cy="363.7" r="3.15" stroke="#c40000"/>
<circle cx="345.1" cy="405.3" r="3.15" stroke="#d0ff2f"/>
<circle cx="348.2" cy="375.5" r="3.15" stroke="#ff1b00"/>
<circle cx="370.6" cy="363.3" r="3.15" stroke="#ff5600"/>
<circle cx="342.5" cy="409.8" r="3.15" stroke="#ffec00"/>
<circle cx="394.9" cy="341.8" r="3.15" stroke="#ffe400"/>
<circle cx="329.3" cy="405.4" r="3.15" stroke="#8dff72"/>
<circle cx="349.3" cy="415.2" r="3.15" stroke="#96ff69"/>
<circle cx="311.2" cy="439.0" r="3.15" stroke="#00caff"/>
<circle cx="370.3" cy="396.0" r="3.15" stroke="#ff1f00"/>
<circle cx="358.4" cy="368.9" r="3.15" stroke="#ffc300"/>
<circle cx="339.9" cy="404.2" r="3.15" stroke="#fbff04"/>
<circle cx="350.9" cy="382.9" r="3.15" stroke="#0000e6"/>
<circle cx="387.5" cy="349.8" r="3.15" stroke="#fcff03"/>
<circle cx="358.3" cy="389.7" r="3.15" stroke="#c9ff36"/>
<circle cx="362.3" cy="386.7" r="3.15" stroke="#ffce00"/>
<circle cx="375.9" cy="382.4" r="3.15" stroke="#9bff64"/>
<circle cx="349.2" cy="322.0" r="3.15" stroke="#d6ff29"/>
<circle cx="377.6" cy="369.4" r="3.15" stroke="#ffb400"/>
<circle cx="386.1" cy="354.5" r="3.15" stroke="#ffac00"/>
<circle cx="386.6" cy="343.6" r="3.15" stroke="#ffad00"/>
<circle cx="381.4" cy="343.1" r="3.15" stroke="#ffe900"/>
<circle cx="360.8" cy="376.0" r="3.15" stroke="#002eff"/>
<circle cx="374.8" cy="358.2" r="3.15" stroke="#ffe900"/>
<circle cx="364.4" cy="401.5" r="3.15" stroke="#fffa00"/>
<circle cx="350.9" cy="365.9" r="3.15" stroke="#ffa400"/>
<circle cx="335.7" cy="408.7" r="3.15" stroke="#ff0900"/>
<circle cx="353.3" cy="338.2" r="3.15" stroke="#08fff7"/>
<circle cx="381.4" cy="352.0" r="3.15" stroke="#ff1100"/>
<circle cx="377.3" cy="359.0" r="3.15" stroke="#ff6800"/>
<circle cx="361.3" cy="393.7" r="3.15" stroke="#ff0d00"/>
<circle cx="374.4" cy="369.4" r="3.15" stroke="#0000e6"/>
<circle cx="364.2" cy="371.5" r="3.15" stroke="#ff7f00"/>
<circle cx="334.7" cy="414.9" r="3.15" stroke="#fd0000"/>
<circle cx="348.6" cy="387.0" r="3.15" stroke="#ffef00"/>
<circle cx="376.6" cy="370.0" r="3.15" stroke="#ff8400"/>
<circle cx="342.7" cy="374.4" r="3.15" stroke="#ff3300"/>
<circle cx="364.2" cy="366.7" r="3.15" stroke="#ff4500"/>
<circle cx="393.0" cy="374.2" r="3.15" stroke="#ff7600"/>
<circle cx="320.2" cy="404.5" r="3.15" stroke="#ffc600"/>
<circle cx="369.1" cy="390.9" r="3.15" stroke="#ff8300"/>
<circle cx="344.2" cy="416.7" r="3.15" stroke="#ff4a00"/>
<circle cx="359.2" cy="381.5" r="3.15" stroke="#bdff42"/>
<circle cx="375.1" cy="381.7" r="3.15" stroke="#69ff96"/>
<circle cx="327.1" cy="399.8" r="3.15" stroke="#ff5e00"/>
<circle cx="362.2" cy="363.8" r="3.15" stroke="#d1ff2e"/>
<circle cx="416.7" cy="350.8" r="3.15" stroke="#53ffac"/>
<circle cx="385.0" cy="366.5" r="3.15" stroke="#00e5ff"/>
<circle cx="356.8" cy="382.8" r="3.15" stroke="#ff0d00"/>
<circle cx="370.9" cy="360.1" r="3.15" stroke="#ffa700"/>
<circle cx="350.7" cy="373.2" r="3.15" stroke="#ffe300"/>
<circle cx="352.0" cy="377.7" r="3.15" stroke="#ff6600"/>
<circle cx="382.1" cy="361.4" r="3.15" stroke="#ff9300"/>
<circle cx="373.2" cy="373.9" r="3.15" stroke="#ffa300"/>
<circle cx="363.9" cy="365.3" r="3.15" stroke="#91ff6e"/>
<circle cx="351.5" cy="383.9" r="3.15" stroke="#ed0000"/>
<circle cx="382.4" cy="366.3" r="3.15" stroke="#86ff79"/>
<circle cx="359.6" cy="378.6" r="3.15" stroke="#ffc200"/>
<circle cx="383.7" cy="339.2" r="3.15" stroke="#ffbe00"/>
<circle cx="375.8" cy="377.7" r="3.15" stroke="#ffdb00"/>
<circle cx="366.6" cy="384.4" r="3.15" stroke="#000080"/>
<circle cx="344.2" cy="380.4" r="3.15" stroke="#ffeb00"/>
<circle cx="383.8" cy="378.8" r="3.15" stroke="#ff5400"/>
<circle cx="403.4" cy="335.2" r="3.15" stroke="#bc0000"/>
<circle cx="355.8" cy="367.9" r="3.15" stroke="#ffd000"/>
<circle cx="360.4" cy="393.2" r="3.15" stroke="#f80000"/>
<circle cx="382.7" cy="366.2" r="3.15" stroke="#ffdd00"/>
<circle cx="366.5" cy="398.8" r="3.15" stroke="#840000"/>
<circle cx="353.7" cy="383.6" r="3.15" stroke="#fffb00"/>
<circle cx="369.6" cy="357.9" r="3.15" stroke="#00c5ff"/>
<circle cx="306.2" cy="446.5" r="3.15" stroke="#000080"/>
<circle cx="342.3" cy="401.6" r="3.15" stroke="#ffa400"/>
<circle cx="387.3" cy="343.3" r="3.15" stroke="#bdff42"/>
<circle cx="364.2" cy="372.3" r="3.15" stroke="#00beff"/>
<circle cx="339.7" cy="409.3" r="3.15" stroke="#ff0800"/>
<circle cx="373.8" cy="356.4" r="3.15" stroke="#ff2c00"/>
<circle cx="330.4" cy="399.7" r="3.15" stroke="#ff1f00"/>
<circle cx="361.4" cy="393.2" r="3.15" stroke="#ff1300"/>
<circle cx="418.5" cy="329.5" r="3.15" stroke="#ff4f00"/>
<circle cx="393.8" cy="362.5" r="3.15" stroke="#fffb00"/>
<circle cx="356.3" cy="369.2" r="3.15" stroke="#ff6500"/>
<circle cx="410.4" cy="318.8" r="3.15" stroke="#ff4900"/>
<circle cx="361.8" cy="392.6" r="3.15" stroke="#ff8100"/>
<circle cx="345.8" cy="425.9" r="3.15" stroke="#ff2100"/>
<circle cx="357.4" cy="384.6" r="3.15" stroke="#002eff"/>
<circle cx="315.7" cy="438.2" r="3.15" stroke="#0000e6"/>
<circle cx="427.8" cy="329.1" r="3.15" stroke="#000080"/>
<circle cx="337.2" cy="381.9" r="3.15" stroke="#ff2800"/>
<circle cx="363.1" cy="375.8" r="3.15" stroke="#ffff00"/>
<circle cx="385.6" cy="385.7" r="3.15" stroke="#000080"/>
<circle cx="379.7" cy="370.8" r="3.15" stroke="#cdff32"/>
<circle cx="372.8" cy="357.7" r="3.15" stroke="#00a6ff"/>
<circle cx="377.5" cy="350.8" r="3.15" stroke="#ff4500"/>
<circle cx="397.8" cy="360.6" r="3.15" stroke="#ff1a00"/>
<circle cx="424.6" cy="332.3" r="3.15" stroke="#ffc900"/>
<circle cx="375.6" cy="359.1" r="3.15" stroke="#ffd800"/>
<circle cx="298.7" cy="435.0" r="3.15" stroke="#ffcd00"/>
<circle cx="364.8" cy="372.0" r="3.15" stroke="#ff5800"/>
<circle cx="365.0" cy="367.7" r="3.15" stroke="#00bcff"/>
<circle cx="395.1" cy="364.0" r="3.15" stroke="#ff8400"/>
<circle cx="350.4" cy="377.9" r="3.15" stroke="#5affa5"/>
<circle cx="399.7" cy="355.3" r="3.15" stroke="#ffe700"/>
<circle cx="331.4" cy="412.0" r="3.15" stroke="#ffc400"/>
<circle cx="296.2" cy="408.2" r="3.15" stroke="#ff7c00"/>
<circle cx="303.1" cy="444.3" r="3.15" stroke="#ff2f00"/>
<circle cx="362.8" cy="364.0" r="3.15" stroke="#fcff03"/>
<circle cx="352.5" cy="382.0" r="3.15" stroke="#daff25"/>
<circle cx="333.2" cy="372.2" r="3.15" stroke="#00c2ff"/>
<circle cx="381.2" cy="381.9" r="3.15" stroke="#ff3e00"/>
<circle cx="314.0" cy="408.5" r="3.15" stroke="#ffdc00"/>
<circle cx="383.6" cy="343.0" r="3.15" stroke="#ff6300"/>
<circle cx="346.2" cy="382.2" r="3.15" stroke="#00009e"/>
<circle cx="332.7" cy="420.7" r="3.15" stroke="#ff4800"/>
<circle cx="384.5" cy="353.2" r="3.15" stroke="#ff2f00"/>
<circle cx="396.5" cy="339.9" r="3.15" stroke="#e90000"/>
<circle cx="391.1" cy="350.5" r="3.15" stroke="#00009e"/>
<circle cx="350.4" cy="389.6" r="3.15" stroke="#ff9700"/>
<circle cx="366.5" cy="364.4" r="3.15" stroke="#910000"/>
<circle cx="363.7" cy="375.6" r="3.15" stroke="#f70000"/>
<circle cx="359.8" cy="374.4" r="3.15" stroke="#e6ff19"/>
<circle cx="309.6" cy="436.7" r="3.15" stroke="#ff2800"/>
<circle cx="363.8" cy="381.2" r="3.15" stroke="#00009e"/>
<circle cx="341.8" cy="368.4" r="3.15" stroke="#ffe900"/>
<circle cx="348.0" cy="357.4" r="3.15" stroke="#ff7f00"/>
<circle cx="384.7" cy="343.9" r="3.15" stroke="#ff8200"/>
<circle cx="363.6" cy="397.2" r="3.15" stroke="#ff4a00"/>
<circle cx="422.3" cy="329.3" r="3.15" stroke="#ff0900"/>
<circle cx="336.0" cy="381.0" r="3.15" stroke="#ff1600"/>
<circle cx="377.1" cy="355.4" r="3.15" stroke="#ff6e00"/>
<circle cx="384.0" cy="356.9" r="3.15" stroke="#ff3200"/>
<circle cx="340.4" cy="383.9" r="3.15" stroke="#73ff8c"/>
<circle cx="352.8" cy="389.4" r="3.15" stroke="#ff9600"/>
<circle cx="351.3" cy="378.9" r="3.15" stroke="#ff9800"/>
<circle cx="351.1" cy="338.7" r="3.15" stroke="#ff5600"/>
<circle cx="375.2" cy="367.5" r="3.15" stroke="#ffd300"/>
<circle cx="354.6" cy="358.4" r="3.15" stroke="#ffc900"/>
<circle cx="355.7" cy="384.2" r="3.15" stroke="#afff50"/>
<circle cx="344.3" cy="362.1" r="3.15" stroke="#8cff73"/>
<circle cx="310.0" cy="409.3" r="3.15" stroke="#ff4f00"/>
<circle cx="357.4" cy="393.8" r="3.15" stroke="#f50000"/>
<circle cx="327.7" cy="337.8" r="3.15" stroke="#ff5800"/>
<circle cx="403.9" cy="360.6" r="3.15" stroke="#ffff00"/>
<circle cx="384.9" cy="334.0" r="3.15" stroke="#002eff"/>
<circle cx="354.4" cy="349.9" r="3.15" stroke="#000080"/>
<circle cx="376.0" cy="381.8" r="3.15" stroke="#ff9a00"/>
<circle cx="329.2" cy="383.6" r="3.15" stroke="#ffda00"/>
<circle cx="385.2" cy="365.8" r="3.15" stroke="#ff9300"/>
<circle cx="346.5" cy="398.9" r="3.15" stroke="#ff3a00"/>
<circle cx="358.3" cy="380.6" r="3.15" stroke="#ffe300"/>
<circle cx="360.5" cy="375.2" r="3.15" stroke="#ff6c00"/>
<circle cx="330.1" cy="336.1" r="3.15" stroke="#fcff03"/>
<circle cx="335.1" cy="391.4" r="3.15" stroke="#ffec00"/>
<circle cx="324.8" cy="419.2" r="3.15" stroke="#ff9c00"/>
<circle cx="293.4" cy="421.1" r="3.15" stroke="#ff3500"/>
<circle cx="355.1" cy="372.7" r="3.15" stroke="#f50000"/>
<circle cx="351.9" cy="386.4" r="3.15" stroke="#74ff8b"/>
<circle cx="361.8" cy="378.1" r="3.15" stroke="#f70000"/>
<circle cx="391.0" cy="358.3" r="3.15" stroke="#ff2600"/>
<circle cx="310.3" cy="396.1" r="3.15" stroke="#ffaf00"/>
<circle cx="385.3" cy="345.2" r="3.15" stroke="#ff8800"/>
<circle cx="349.6" cy="375.0" r="3.15" stroke="#07fff8"/>
<circle cx="339.4" cy="393.2" r="3.15" stroke="#0000e6"/>
<circle cx="338.1" cy="402.0" r="3.15" stroke="#f7ff08"/>
<circle cx="322.7" cy="393.3" r="3.15" stroke="#ff7900"/>
<circle cx="386.9" cy="352.6" r="3.15" stroke="#ff1b00"/>
<circle cx="422.3" cy="353.3" r="3.15" stroke="#000080"/>
<circle cx="299.4" cy="433.6" r="3.15" stroke="#002eff"/>
<circle cx="390.1" cy="386.3" r="3.15" stroke="#ef0000"/>
<circle cx="401.3" cy="340.5" r="3.15" stroke="#ffda00"/>
<circle cx="351.0" cy="378.9" r="3.15" stroke="#ff3900"/>
<circle cx="310.4" cy="410.9" r="3.15" stroke="#0000e6"/>
<circle cx="379.3" cy="353.9" r="3.15" stroke="#ff6100"/>
<circle cx="387.3" cy="341.5" r="3.15" stroke="#ff4200"/>
<circle cx="344.7" cy="384.4" r="3.15" stroke="#ffc800"/>
<circle cx="363.6" cy="379.0" r="3.15" stroke="#ff5600"/>
<circle cx="327.3" cy="390.1" r="3.15" stroke="#ffee00"/>
<circle cx="352.2" cy="371.7" r="3.15" stroke="#0000e6"/>
<circle cx="396.6" cy="347.1" r="3.15" stroke="#ff7a00"/>
<circle cx="365.8" cy="375.9" r="3.15" stroke="#ff2000"/>
<circle cx="348.2" cy="389.3" r="3.15" stroke="#dcff23"/>
<circle cx="420.5" cy="344.2" r="3.15" stroke="#ffa400"/>
<circle cx="433.4" cy="313.8" r="3.15" stroke="#ff8f00"/>
<circle cx="375.7" cy="356.8" r="3.15" stroke="#ff1900"/>
<circle cx="374.2" cy="337.0" r="3.15" stroke="#ff0200"/>
<circle cx="356.1" cy="367.4" r="3.15" stroke="#ffe500"/>
<circle cx="315.6" cy="386.1" r="3.15" stroke="#ffcc00"/>
<circle cx="379.7" cy="362.4" r="3.15" stroke="#ff5900"/>
<circle cx="336.8" cy="324.9" r="3.15" stroke="#ffdd00"/>
<circle cx="322.4" cy="405.4" r="3.15" stroke="#00009e"/>
<circle cx="374.7" cy="372.8" r="3.15" stroke="#ffbc00"/>
<circle cx="422.6" cy="339.4" r="3.15" stroke="#ff1200"/>
<circle cx="395.1" cy="368.1" r="3.15" stroke="#ffc400"/>
<circle cx="401.7" cy="374.8" r="3.15" stroke="#b5ff4a"/>
<circle cx="363.7" cy="363.2" r="3.15" stroke="#ff2100"/>
<circle cx="298.7" cy="442.4" r="3.15" stroke="#e90000"/>
<circle cx="297.2" cy="433.9" r="3.15" stroke="#000080"/>
<circle cx="394.2" cy="355.8" r="3.15" stroke="#ffd000"/>
<circle cx="376.7" cy="384.3" r="3.15" stroke="#ff0700"/>
<circle cx="357.7" cy="372.2" r="3.15" stroke="#ff2f00"/>
<circle cx="391.2" cy="356.6" r="3.15" stroke="#000080"/>
<circle cx="361.3" cy="370.2" r="3.15" stroke="#ffad00"/>
<circle cx="358.4" cy="347.2" r="3.15" stroke="#ffa500"/>
<circle cx="304.7" cy="413.3" r="3.15" stroke="#e1ff1e"/>
<circle cx="328.1" cy="390.0" r="3.15" stroke="#d2ff2d"/>
<circle cx="320.5" cy="403.4" r="3.15" stroke="#b4ff4b"/>
<circle cx="355.9" cy="353.2" r="3.15" stroke="#ff4000"/>
<circle cx="352.6" cy="353.0" r="3.15" stroke="#15ffea"/>
<circle cx="427.0" cy="335.0" r="3.15" stroke="#ff2f00"/>
<circle cx="327.4" cy="423.3" r="3.15" stroke="#ffd700"/>
<circle cx="359.9" cy="358.5" r="3.15" stroke="#14ffeb"/>
<circle cx="389.6" cy="328.5" r="3.15" stroke="#f20000"/>
<circle cx="335.2" cy="401.6" r="3.15" stroke="#ff4000"/>
<circle cx="372.7" cy="362.9" r="3.15" stroke="#ffa000"/>
<circle cx="394.0" cy="358.2" r="3.15" stroke="#ea0000"/>
<circle cx="392.3" cy="345.5" r="3.15" stroke="#9a0000"/>
<circle cx="333.1" cy="408.7" r="3.15" stroke="#ff6400"/>
<circle cx="345.6" cy="399.2" r="3.15" stroke="#ff7000"/>
<circle cx="400.7" cy="349.2" r="3.15" stroke="#000080"/>
<circle cx="359.1" cy="347.5" r="3.15" stroke="#ea0000"/>
<circle cx="348.9" cy="379.2" r="3.15" stroke="#ff6d00"/>
<circle cx="363.7" cy="386.9" r="3.15" stroke="#b90000"/>
<circle cx="372.5" cy="364.4" r="3.15" stroke="#6bff94"/>
<circle cx="323.9" cy="356.2" r="3.15" stroke="#ebff14"/>
<circle cx="374.9" cy="368.5" r="3.15" stroke="#f0ff0f"/>
<circle cx="388.2" cy="387.7" r="3.15" stroke="#ff6100"/>
<circle cx="383.5" cy="352.0" r="3.15" stroke="#ffa800"/>
<circle cx="356.9" cy="404.2" r="3.15" stroke="#ff8400"/>
<circle cx="374.1" cy="367.6" r="3.15" stroke="#ff4b00"/>
<circle cx="366.4" cy="343.9" r="3.15" stroke="#ff9f00"/>
<circle cx="301.6" cy="411.6" r="3.15" stroke="#ffa600"/>
<circle cx="321.9" cy="439.5" r="3.15" stroke="#000080"/>
<circle cx="331.3" cy="416.8" r="3.15" stroke="#ff6600"/>
<circle cx="390.7" cy="354.9" r="3.15" stroke="#ff8c00"/>
<circle cx="307.7" cy="412.1" r="3.15" stroke="#cf0000"/>
<circle cx="400.8" cy="371.2" r="3.15" stroke="#ffef00"/>
<circle cx="357.6" cy="378.9" r="3.15" stroke="#c0ff3f"/>
<circle cx="376.3" cy="395.1" r="3.15" stroke="#0efff1"/>
<circle cx="350.2" cy="369.6" r="3.15" stroke="#ff7900"/>
<circle cx="318.8" cy="411.7" r="3.15" stroke="#ff3c00"/>
<circle cx="337.3" cy="392.6" r="3.15" stroke="#00ddff"/>
<circle cx="360.8" cy="414.7" r="3.15" stroke="#ff6900"/>
<circle cx="387.3" cy="341.0" r="3.15" stroke="#ffa800"/>
<circle cx="387.2" cy="340.6" r="3.15" stroke="#ff8c00"/>
<circle cx="373.8" cy="345.1" r="3.15" stroke="#ffbb00"/>
<circle cx="316.6" cy="415.7" r="3.15" stroke="#ff3f00"/>
<circle cx="376.0" cy="391.1" r="3.15" stroke="#fff900"/>
<circle cx="314.5" cy="399.1" r="3.15" stroke="#000080"/>
<circle cx="347.7" cy="386.9" r="3.15" stroke="#00deff"/>
<circle cx="403.6" cy="332.1" r="3.15" stroke="#ffe100"/>
<circle cx="388.8" cy="385.3" r="3.15" stroke="#ff7a00"/>
<circle cx="360.3" cy="373.5" r="3.15" stroke="#00d8ff"/>
<circle cx="323.2" cy="412.6" r="3.15" stroke="#980000"/>
<circle cx="316.7" cy="429.3" r="3.15" stroke="#ff0400"/>
<circle cx="338.8" cy="378.9" r="3.15" stroke="#ef0000"/>
<circle cx="398.0" cy="350.1" r="3.15" stroke="#ffc400"/>
<circle cx="317.9" cy="400.3" r="3.15" stroke="#ed0000"/>
<circle cx="336.7" cy="417.2" r="3.15" stroke="#ae0000"/>
<circle cx="380.6" cy="368.2" r="3.15" stroke="#ffa800"/>
<circle cx="376.2" cy="366.3" r="3.15" stroke="#04fffb"/>
<circle cx="381.0" cy="349.7" r="3.15" stroke="#f40000"/>
<circle cx="342.0" cy="391.6" r="3.15" stroke="#ff3e00"/>
<circle cx="361.6" cy="390.0" r="3.15" stroke="#5cffa3"/>
<circle cx="322.3" cy="403.4" r="3.15" stroke="#0000e6"/>
<circle cx="418.6" cy="310.3" r="3.15" stroke="#eeff11"/>
<circle cx="346.6" cy="412.8" r="3.15" stroke="#ffc600"/>
<circle cx="394.7" cy="367.1" r="3.15" stroke="#ffa800"/>
<circle cx="352.5" cy="394.4" r="3.15" stroke="#ff8900"/>
<circle cx="331.7" cy="413.3" r="3.15" stroke="#ff5800"/>
<circle cx="383.9" cy="343.1" r="3.15" stroke="#ffe000"/>
<circle cx="243.1" cy="237.1" r="3.15" stroke="#000080"/>
<circle cx="283.9" cy="251.6" r="3.15" stroke="#000080"/>
<circle cx="269.0" cy="259.1" r="3.15" stroke="#000080"/>
<circle cx="295.0" cy="264.5" r="3.15" stroke="#000080"/>
<circle cx="371.2" cy="248.9" r="3.15" stroke="#ff9e00"/>
<circle cx="358.1" cy="279.6" r="3.15" stroke="#ff9e00"/>
<circle cx="359.8" cy="281.8" r="3.15" stroke="#ff9e00"/>
<circle cx="278.4" cy="296.4" r="3.15" stroke="#000080"/>
<circle cx="220.3" cy="299.9" r="3.15" stroke="#000080"/>
<circle cx="225.3" cy="308.0" r="3.15" stroke="#000080"/>
<circle cx="288.8" cy="309.3" r="3.15" stroke="#fffa00"/>
<circle cx="213.9" cy="325.6" r="3.15" stroke="#000080"/>
<circle cx="236.1" cy="340.9" r="3.15" stroke="#000080"/>
<circle cx="282.1" cy="340.9" r="3.15" stroke="#000080"/>
<circle cx="246.8" cy="358.7" r="3.15" stroke="#ff9e00"/>
<circle cx="356.3" cy="313.0" r="3.15" stroke="#000080"/>
<circle cx="411.7" cy="302.3" r="3.15" stroke="#fa0000"/>
<circle cx="381.5" cy="303.1" r="3.15" stroke="#000fff"/>
<circle cx="385.3" cy="305.3" r="3.15" stroke="#ff9e00"/>
<circle cx="297.5" cy="380.5" r="3.15" stroke="#000080"/>
<circle cx="308.1" cy="378.5" r="3.15" stroke="#000080"/>
<circle cx="305.4" cy="386.4" r="3.15" stroke="#000080"/>
<circle cx="319.2" cy="372.8" r="3.15" stroke="#05fffa"/>
<circle cx="241.1" cy="438.1" r="3.15" stroke="#ff4c00"/>
<circle cx="274.5" cy="430.9" r="3.15" stroke="#ff4c00"/>
<circle cx="281.4" cy="441.6" r="3.15" stroke="#fa0000"/>
<circle cx="292.0" cy="443.5" r="3.15" stroke="#ff4c00"/>
<circle cx="318.0" cy="442.0" r="3.15" stroke="#000080"/>
<circle cx="280.7" cy="420.5" r="3.15" stroke="#80ff80"/>
<circle cx="421.1" cy="363.7" r="3.15" stroke="#000080"/>
<circle cx="366.3" cy="317.3" r="3.15" stroke="#fa0000"/>
<circle cx="370.8" cy="320.8" r="3.15" stroke="#ff9e00"/>
<circle cx="359.3" cy="328.8" r="3.15" stroke="#ff9e00"/>
<circle cx="361.8" cy="333.8" r="3.15" stroke="#800000"/>
<circle cx="347.8" cy="346.8" r="3.15" stroke="#fa0000"/>
<circle cx="385.8" cy="327.3" r="3.15" stroke="#fa0000"/>
<circle cx="409.8" cy="325.8" r="3.15" stroke="#ff4c00"/>
<circle cx="421.3" cy="315.3" r="3.15" stroke="#ff4c00"/>
<circle cx="425.8" cy="324.8" r="3.15" stroke="#fa0000"/>
<circle cx="429.8" cy="320.8" r="3.15" stroke="#fffa00"/>
<circle cx="429.8" cy="327.8" r="3.15" stroke="#ff9e00"/>
<circle cx="428.3" cy="345.3" r="3.15" stroke="#fffa00"/>
<circle cx="425.3" cy="340.8" r="3.15" stroke="#000080"/>
<circle cx="418.8" cy="366.8" r="3.15" stroke="#fa0000"/>
<circle cx="302.3" cy="397.3" r="3.15" stroke="#fa0000"/>
<circle cx="304.3" cy="406.3" r="3.15" stroke="#ff4c00"/>
<circle cx="298.8" cy="420.3" r="3.15" stroke="#fa0000"/>
<circle cx="312.3" cy="419.8" r="3.15" stroke="#ff9e00"/>
<circle cx="353.8" cy="426.8" r="3.15" stroke="#000080"/>
<circle cx="358.8" cy="423.3" r="3.15" stroke="#000080"/>
<circle cx="347.3" cy="430.3" r="3.15" stroke="#80ff80"/>
<circle cx="336.3" cy="429.8" r="3.15" stroke="#05fffa"/>
<circle cx="327.8" cy="434.3" r="3.15" stroke="#fa0000"/>
<circle cx="391.3" cy="401.3" r="3.15" stroke="#000080"/>
<circle cx="385.8" cy="398.8" r="3.15" stroke="#000080"/>
</g>
<path class="ds" d="M71.3 287.8H516.2"/>
<path class="ds" d="M182.3 468.2V61.4"/>
<ellipse cx="313.2" cy="335.5" rx="101.3" ry="69.0" transform="rotate(-142.3 313.2 335.5)" fill="none" stroke="#0000ff" stroke-width="1.7"/>
<ellipse cx="345.9" cy="363.0" rx="79.9" ry="61.5" transform="rotate(139.4 345.9 363.0)" fill="none" stroke="#ff0000" stroke-width="1.7"/>
<ellipse cx="365.1" cy="373.3" rx="82.7" ry="25.8" transform="rotate(136.1 365.1 373.3)" fill="none" stroke="#000" stroke-width="3.35"/>
<circle cx="181.9" cy="288.6" r="7.4" fill="#ff0000"/>
<path class="ax" d="M71.3 61.4V468.2H516.2M126.7 468.2v-4M182.3 468.2v-4M237.9 468.2v-4M293.5 468.2v-4M349.1 468.2v-4M404.7 468.2v-4M460.3 468.2v-4M515.9 468.2v-4M71.3 423.0h4M71.3 377.8h4M71.3 332.6h4M71.3 287.4h4M71.3 242.2h4M71.3 197.0h4M71.3 151.8h4M71.3 106.6h4M71.3 61.4h4"/>
<g class="t" text-anchor="middle">
<text x="69.6" y="494.6">-1</text>
<text x="125.2" y="494.6">-0.5</text>
<text x="182.3" y="494.6">0</text>
<text x="237.9" y="494.6">0.5</text>
<text x="293.5" y="494.6">1</text>
<text x="349.1" y="494.6">1.5</text>
<text x="404.7" y="494.6">2</text>
<text x="460.3" y="494.6">2.5</text>
<text x="515.9" y="494.6">3</text>
</g><g class="t" text-anchor="end">
<text x="63.6" y="476.0">-2</text>
<text x="63.6" y="430.8">-1.5</text>
<text x="63.6" y="385.6">-1</text>
<text x="63.6" y="340.4">-0.5</text>
<text x="63.6" y="295.2">0</text>
<text x="63.6" y="250.0">0.5</text>
<text x="63.6" y="204.8">1</text>
<text x="63.6" y="159.6">1.5</text>
<text x="63.6" y="114.4">2</text>
<text x="63.6" y="69.2">2.5</text>
</g>
<text class="l" text-anchor="middle" x="294.4" y="520">Mediolateral</text>
<text class="l" text-anchor="middle" transform="translate(23.4 265.6) rotate(-90)">Vertical</text>
<text class="t k" letter-spacing=".24" text-anchor="end" transform="translate(100.8 66.2) rotate(-90)">Above</text>
<text class="t k" text-anchor="end" x="512.9" y="458.7">Lateral</text>
<rect x="543.5" y="59.8" width="26.8" height="409.8" fill="url(#jet)" stroke="#1a1a1a" stroke-width="1"/>
<g class="c">
<text x="577" y="476.5">0</text>
<text x="577" y="435.5">1</text>
<text x="577" y="394.5">2</text>
<text x="577" y="353.6">3</text>
<text x="577" y="312.6">4</text>
<text x="577" y="271.6">5</text>
<text x="577" y="230.6">6</text>
<text x="577" y="189.6">7</text>
<text x="577" y="148.7">8</text>
<text x="577" y="107.7">9</text>
<text x="577" y="66.7">10</text>
</g>
<path d="M570.3 428.6h-3.5M570.3 387.6h-3.5M570.3 346.7h-3.5M570.3 305.7h-3.5M570.3 264.7h-3.5M570.3 223.7h-3.5M570.3 182.7h-3.5M570.3 141.8h-3.5M570.3 100.8h-3.5" stroke="#1a1a1a" stroke-width="1" fill="none"/>
</g>
</svg>
</body></html>
